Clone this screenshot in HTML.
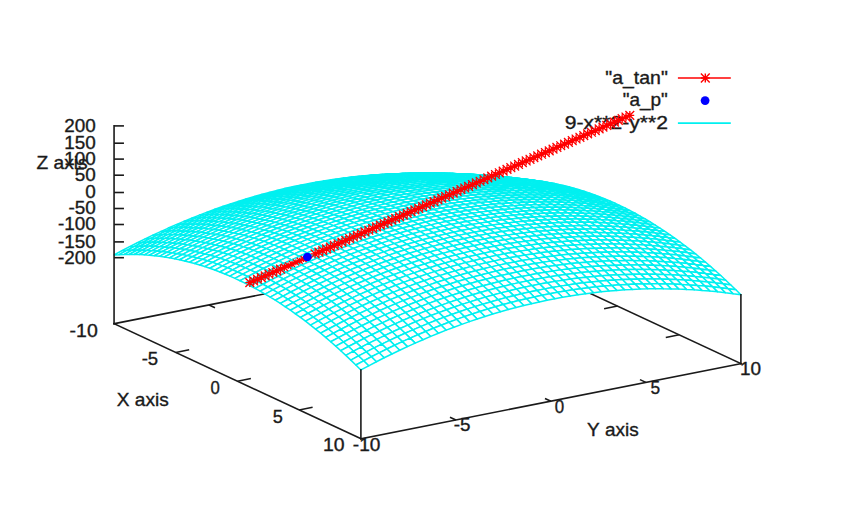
<!DOCTYPE html>
<html><head><meta charset="utf-8"><title>gnuplot surface</title><style>
html,body{margin:0;padding:0;background:#fff;}
body{width:854px;height:512px;overflow:hidden;position:relative;font-family:"Liberation Sans", sans-serif;}
svg{position:absolute;left:0;top:0;display:block;}
#w{position:absolute;left:0;top:0;width:854px;height:512px;}
</style></head><body>
<div id="w"><svg width="854" height="512" viewBox="0 0 854 512">
<rect width="854" height="512" fill="#fff"/>
<g stroke="#1a1a1a" stroke-width="1.6" fill="none" stroke-linecap="square">
<line x1="740.9" y1="363.6" x2="494.06" y2="248.55"/>
<line x1="494.06" y1="248.55" x2="114.06" y2="323.7"/>
<line x1="494.06" y1="248.55" x2="494.06" y2="179.76"/>
<line x1="555.77" y1="277.31" x2="542.38" y2="279.96" stroke-linecap="butt"/>
<line x1="617.48" y1="306.07" x2="604.09" y2="308.72" stroke-linecap="butt"/>
<line x1="679.19" y1="334.84" x2="665.79" y2="337.49" stroke-linecap="butt"/>
<line x1="209.06" y1="304.91" x2="214.98" y2="307.67" stroke-linecap="butt"/>
<line x1="304.06" y1="286.12" x2="309.98" y2="288.89" stroke-linecap="butt"/>
<line x1="399.06" y1="267.34" x2="404.98" y2="270.1" stroke-linecap="butt"/>
</g>
<g fill="#fff" stroke="#00f0f0" stroke-width="1.5" stroke-linejoin="round">
<path d="M486.3 178.66 491.34 178.38 499.1 179.48 494.06 179.76Z"/>
<path d="M478.55 177.67 483.59 177.39 491.34 178.38 486.3 178.66Z"/>
<path d="M491.34 178.38 496.38 178.21 504.14 179.3 499.1 179.48Z"/>
<path d="M470.79 176.8 475.83 176.51 483.59 177.39 478.55 177.67Z"/>
<path d="M483.59 177.39 488.62 177.22 496.38 178.21 491.34 178.38Z"/>
<path d="M463.04 176.03 468.08 175.74 475.83 176.51 470.79 176.8Z"/>
<path d="M496.38 178.21 501.42 178.14 509.17 179.24 504.14 179.3Z"/>
<path d="M475.83 176.51 480.87 176.34 488.62 177.22 483.59 177.39Z"/>
<path d="M455.28 175.37 460.32 175.08 468.08 175.74 463.04 176.03Z"/>
<path d="M488.62 177.22 493.66 177.15 501.42 178.14 496.38 178.21Z"/>
<path d="M468.08 175.74 473.11 175.57 480.87 176.34 475.83 176.51Z"/>
<path d="M501.42 178.14 506.46 178.19 514.21 179.28 509.17 179.24Z"/>
<path d="M447.53 174.82 452.57 174.53 460.32 175.08 455.28 175.37Z"/>
<path d="M480.87 176.34 485.91 176.27 493.66 177.15 488.62 177.22Z"/>
<path d="M460.32 175.08 465.36 174.91 473.11 175.57 468.08 175.74Z"/>
<path d="M493.66 177.15 498.7 177.2 506.46 178.19 501.42 178.14Z"/>
<path d="M439.77 174.38 444.81 174.09 452.57 174.53 447.53 174.82Z"/>
<path d="M473.11 175.57 478.15 175.5 485.91 176.27 480.87 176.34Z"/>
<path d="M506.46 178.19 511.49 178.34 519.25 179.44 514.21 179.28Z"/>
<path d="M452.57 174.53 457.6 174.36 465.36 174.91 460.32 175.08Z"/>
<path d="M485.91 176.27 490.94 176.32 498.7 177.2 493.66 177.15Z"/>
<path d="M432.02 174.05 437.06 173.76 444.81 174.09 439.77 174.38Z"/>
<path d="M465.36 174.91 470.4 174.84 478.15 175.5 473.11 175.57Z"/>
<path d="M498.7 177.2 503.74 177.35 511.49 178.34 506.46 178.19Z"/>
<path d="M444.81 174.09 449.85 173.92 457.6 174.36 452.57 174.53Z"/>
<path d="M478.15 175.5 483.19 175.55 490.94 176.32 485.91 176.27Z"/>
<path d="M511.49 178.34 516.53 178.6 524.29 179.7 519.25 179.44Z"/>
<path d="M424.26 173.83 429.3 173.54 437.06 173.76 432.02 174.05Z"/>
<path d="M457.6 174.36 462.64 174.29 470.4 174.84 465.36 174.91Z"/>
<path d="M490.94 176.32 495.98 176.47 503.74 177.35 498.7 177.2Z"/>
<path d="M437.06 173.76 442.09 173.59 449.85 173.92 444.81 174.09Z"/>
<path d="M470.4 174.84 475.43 174.89 483.19 175.55 478.15 175.5Z"/>
<path d="M503.74 177.35 508.78 177.62 516.53 178.6 511.49 178.34Z"/>
<path d="M416.51 173.71 421.55 173.43 429.3 173.54 424.26 173.83Z"/>
<path d="M449.85 173.92 454.89 173.85 462.64 174.29 457.6 174.36Z"/>
<path d="M483.19 175.55 488.23 175.7 495.98 176.47 490.94 176.32Z"/>
<path d="M516.53 178.6 521.57 178.98 529.32 180.08 524.29 179.7Z"/>
<path d="M429.3 173.54 434.34 173.37 442.09 173.59 437.06 173.76Z"/>
<path d="M462.64 174.29 467.68 174.34 475.43 174.89 470.4 174.84Z"/>
<path d="M495.98 176.47 501.02 176.74 508.78 177.62 503.74 177.35Z"/>
<path d="M408.75 173.71 413.79 173.43 421.55 173.43 416.51 173.71Z"/>
<path d="M442.09 173.59 447.13 173.52 454.89 173.85 449.85 173.92Z"/>
<path d="M475.43 174.89 480.47 175.04 488.23 175.7 483.19 175.55Z"/>
<path d="M508.78 177.62 513.81 177.99 521.57 178.98 516.53 178.6Z"/>
<path d="M421.55 173.43 426.58 173.26 434.34 173.37 429.3 173.54Z"/>
<path d="M454.89 173.85 459.92 173.9 467.68 174.34 462.64 174.29Z"/>
<path d="M488.23 175.7 493.26 175.97 501.02 176.74 495.98 176.47Z"/>
<path d="M521.57 178.98 526.61 179.46 534.36 180.56 529.32 180.08Z"/>
<path d="M401 173.82 406.04 173.54 413.79 173.43 408.75 173.71Z"/>
<path d="M434.34 173.37 439.38 173.3 447.13 173.52 442.09 173.59Z"/>
<path d="M467.68 174.34 472.72 174.49 480.47 175.04 475.43 174.89Z"/>
<path d="M501.02 176.74 506.06 177.11 513.81 177.99 508.78 177.62Z"/>
<path d="M413.79 173.43 418.83 173.25 426.58 173.26 421.55 173.43Z"/>
<path d="M447.13 173.52 452.17 173.57 459.92 173.9 454.89 173.85Z"/>
<path d="M480.47 175.04 485.51 175.31 493.26 175.97 488.23 175.7Z"/>
<path d="M513.81 177.99 518.85 178.47 526.61 179.46 521.57 178.98Z"/>
<path d="M393.24 174.04 398.28 173.75 406.04 173.54 401 173.82Z"/>
<path d="M426.58 173.26 431.62 173.19 439.38 173.3 434.34 173.37Z"/>
<path d="M459.92 173.9 464.96 174.05 472.72 174.49 467.68 174.34Z"/>
<path d="M493.26 175.97 498.3 176.34 506.06 177.11 501.02 176.74Z"/>
<path d="M526.61 179.46 531.64 180.06 539.4 181.15 534.36 180.56Z"/>
<path d="M406.04 173.54 411.07 173.36 418.83 173.25 413.79 173.43Z"/>
<path d="M439.38 173.3 444.41 173.35 452.17 173.57 447.13 173.52Z"/>
<path d="M472.72 174.49 477.75 174.76 485.51 175.31 480.47 175.04Z"/>
<path d="M506.06 177.11 511.1 177.59 518.85 178.47 513.81 177.99Z"/>
<path d="M385.49 174.37 390.53 174.08 398.28 173.75 393.24 174.04Z"/>
<path d="M418.83 173.25 423.87 173.19 431.62 173.19 426.58 173.26Z"/>
<path d="M452.17 173.57 457.21 173.72 464.96 174.05 459.92 173.9Z"/>
<path d="M485.51 175.31 490.55 175.68 498.3 176.34 493.26 175.97Z"/>
<path d="M518.85 178.47 523.89 179.07 531.64 180.06 526.61 179.46Z"/>
<path d="M398.28 173.75 403.32 173.58 411.07 173.36 406.04 173.54Z"/>
<path d="M431.62 173.19 436.66 173.24 444.41 173.35 439.38 173.3Z"/>
<path d="M464.96 174.05 470 174.32 477.75 174.76 472.72 174.49Z"/>
<path d="M498.3 176.34 503.34 176.83 511.1 177.59 506.06 177.11Z"/>
<path d="M531.64 180.06 536.68 180.76 544.44 181.86 539.4 181.15Z"/>
<path d="M377.73 174.8 382.77 174.52 390.53 174.08 385.49 174.37Z"/>
<path d="M411.07 173.36 416.11 173.3 423.87 173.19 418.83 173.25Z"/>
<path d="M444.41 173.35 449.45 173.5 457.21 173.72 452.17 173.57Z"/>
<path d="M477.75 174.76 482.79 175.13 490.55 175.68 485.51 175.31Z"/>
<path d="M511.1 177.59 516.13 178.19 523.89 179.07 518.85 178.47Z"/>
<path d="M390.53 174.08 395.56 173.91 403.32 173.58 398.28 173.75Z"/>
<path d="M423.87 173.19 428.9 173.23 436.66 173.24 431.62 173.19Z"/>
<path d="M457.21 173.72 462.24 173.99 470 174.32 464.96 174.05Z"/>
<path d="M490.55 175.68 495.58 176.17 503.34 176.83 498.3 176.34Z"/>
<path d="M523.89 179.07 528.93 179.77 536.68 180.76 531.64 180.06Z"/>
<path d="M369.98 175.35 375.02 175.07 382.77 174.52 377.73 174.8Z"/>
<path d="M403.32 173.58 408.36 173.52 416.11 173.3 411.07 173.36Z"/>
<path d="M436.66 173.24 441.7 173.39 449.45 173.5 444.41 173.35Z"/>
<path d="M470 174.32 475.04 174.69 482.79 175.13 477.75 174.76Z"/>
<path d="M503.34 176.83 508.38 177.42 516.13 178.19 511.1 177.59Z"/>
<path d="M536.68 180.76 541.72 181.57 549.47 182.67 544.44 181.86Z"/>
<path d="M382.77 174.52 387.81 174.34 395.56 173.91 390.53 174.08Z"/>
<path d="M416.11 173.3 421.15 173.34 428.9 173.23 423.87 173.19Z"/>
<path d="M449.45 173.5 454.49 173.77 462.24 173.99 457.21 173.72Z"/>
<path d="M482.79 175.13 487.83 175.62 495.58 176.17 490.55 175.68Z"/>
<path d="M516.13 178.19 521.17 178.89 528.93 179.77 523.89 179.07Z"/>
<path d="M362.22 176.01 367.26 175.72 375.02 175.07 369.98 175.35Z"/>
<path d="M395.56 173.91 400.6 173.84 408.36 173.52 403.32 173.58Z"/>
<path d="M428.9 173.23 433.94 173.39 441.7 173.39 436.66 173.24Z"/>
<path d="M462.24 173.99 467.28 174.36 475.04 174.69 470 174.32Z"/>
<path d="M495.58 176.17 500.62 176.76 508.38 177.42 503.34 176.83Z"/>
<path d="M528.93 179.77 533.96 180.58 541.72 181.57 536.68 180.76Z"/>
<path d="M375.02 175.07 380.05 174.89 387.81 174.34 382.77 174.52Z"/>
<path d="M408.36 173.52 413.39 173.56 421.15 173.34 416.11 173.3Z"/>
<path d="M441.7 173.39 446.73 173.66 454.49 173.77 449.45 173.5Z"/>
<path d="M475.04 174.69 480.07 175.18 487.83 175.62 482.79 175.13Z"/>
<path d="M508.38 177.42 513.42 178.12 521.17 178.89 516.13 178.19Z"/>
<path d="M541.72 181.57 546.76 182.49 554.51 183.59 549.47 182.67Z"/>
<path d="M354.47 176.77 359.51 176.49 367.26 175.72 362.22 176.01Z"/>
<path d="M387.81 174.34 392.85 174.28 400.6 173.84 395.56 173.91Z"/>
<path d="M421.15 173.34 426.19 173.5 433.94 173.39 428.9 173.23Z"/>
<path d="M454.49 173.77 459.53 174.14 467.28 174.36 462.24 173.99Z"/>
<path d="M487.83 175.62 492.87 176.21 500.62 176.76 495.58 176.17Z"/>
<path d="M521.17 178.89 526.21 179.7 533.96 180.58 528.93 179.77Z"/>
<path d="M367.26 175.72 372.3 175.55 380.05 174.89 375.02 175.07Z"/>
<path d="M400.6 173.84 405.64 173.89 413.39 173.56 408.36 173.52Z"/>
<path d="M433.94 173.39 438.98 173.65 446.73 173.66 441.7 173.39Z"/>
<path d="M467.28 174.36 472.32 174.84 480.07 175.18 475.04 174.69Z"/>
<path d="M500.62 176.76 505.66 177.46 513.42 178.12 508.38 177.42Z"/>
<path d="M533.96 180.58 539 181.5 546.76 182.49 541.72 181.57Z"/>
<path d="M346.71 177.65 351.75 177.36 359.51 176.49 354.47 176.77Z"/>
<path d="M380.05 174.89 385.09 174.83 392.85 174.28 387.81 174.34Z"/>
<path d="M413.39 173.56 418.43 173.71 426.19 173.5 421.15 173.34Z"/>
<path d="M446.73 173.66 451.77 174.03 459.53 174.14 454.49 173.77Z"/>
<path d="M480.07 175.18 485.11 175.77 492.87 176.21 487.83 175.62Z"/>
<path d="M513.42 178.12 518.45 178.93 526.21 179.7 521.17 178.89Z"/>
<path d="M546.76 182.49 551.79 183.53 559.55 184.62 554.51 183.59Z"/>
<path d="M359.51 176.49 364.54 176.31 372.3 175.55 367.26 175.72Z"/>
<path d="M392.85 174.28 397.88 174.32 405.64 173.89 400.6 173.84Z"/>
<path d="M426.19 173.5 431.22 173.76 438.98 173.65 433.94 173.39Z"/>
<path d="M459.53 174.14 464.56 174.62 472.32 174.84 467.28 174.36Z"/>
<path d="M492.87 176.21 497.9 176.91 505.66 177.46 500.62 176.76Z"/>
<path d="M526.21 179.7 531.25 180.63 539 181.5 533.96 180.58Z"/>
<path d="M338.96 178.63 344 178.35 351.75 177.36 346.71 177.65Z"/>
<path d="M372.3 175.55 377.34 175.48 385.09 174.83 380.05 174.89Z"/>
<path d="M405.64 173.89 410.68 174.04 418.43 173.71 413.39 173.56Z"/>
<path d="M438.98 173.65 444.02 174.03 451.77 174.03 446.73 173.66Z"/>
<path d="M472.32 174.84 477.36 175.44 485.11 175.77 480.07 175.18Z"/>
<path d="M505.66 177.46 510.7 178.27 518.45 178.93 513.42 178.12Z"/>
<path d="M539 181.5 544.04 182.54 551.79 183.53 546.76 182.49Z"/>
<path d="M351.75 177.36 356.79 177.19 364.54 176.31 359.51 176.49Z"/>
<path d="M385.09 174.83 390.13 174.87 397.88 174.32 392.85 174.28Z"/>
<path d="M418.43 173.71 423.47 173.98 431.22 173.76 426.19 173.5Z"/>
<path d="M451.77 174.03 456.81 174.51 464.56 174.62 459.53 174.14Z"/>
<path d="M485.11 175.77 490.15 176.47 497.9 176.91 492.87 176.21Z"/>
<path d="M518.45 178.93 523.49 179.86 531.25 180.63 526.21 179.7Z"/>
<path d="M551.79 183.53 556.83 184.67 564.59 185.77 559.55 184.62Z"/>
<path d="M331.2 179.73 336.24 179.44 344 178.35 338.96 178.63Z"/>
<path d="M364.54 176.31 369.58 176.25 377.34 175.48 372.3 175.55Z"/>
<path d="M397.88 174.32 402.92 174.48 410.68 174.04 405.64 173.89Z"/>
<path d="M431.22 173.76 436.26 174.14 444.02 174.03 438.98 173.65Z"/>
<path d="M464.56 174.62 469.6 175.22 477.36 175.44 472.32 174.84Z"/>
<path d="M497.9 176.91 502.94 177.72 510.7 178.27 505.66 177.46Z"/>
<path d="M531.25 180.63 536.28 181.66 544.04 182.54 539 181.5Z"/>
<path d="M344 178.35 349.03 178.17 356.79 177.19 351.75 177.36Z"/>
<path d="M377.34 175.48 382.37 175.53 390.13 174.87 385.09 174.83Z"/>
<path d="M410.68 174.04 415.71 174.31 423.47 173.98 418.43 173.71Z"/>
<path d="M444.02 174.03 449.05 174.51 456.81 174.51 451.77 174.03Z"/>
<path d="M477.36 175.44 482.39 176.14 490.15 176.47 485.11 175.77Z"/>
<path d="M510.7 178.27 515.74 179.2 523.49 179.86 518.45 178.93Z"/>
<path d="M544.04 182.54 549.08 183.68 556.83 184.67 551.79 183.53Z"/>
<path d="M323.45 180.93 328.49 180.65 336.24 179.44 331.2 179.73Z"/>
<path d="M356.79 177.19 361.83 177.12 369.58 176.25 364.54 176.31Z"/>
<path d="M390.13 174.87 395.17 175.03 402.92 174.48 397.88 174.32Z"/>
<path d="M423.47 173.98 428.51 174.35 436.26 174.14 431.22 173.76Z"/>
<path d="M456.81 174.51 461.85 175.11 469.6 175.22 464.56 174.62Z"/>
<path d="M490.15 176.47 495.19 177.28 502.94 177.72 497.9 176.91Z"/>
<path d="M523.49 179.86 528.53 180.89 536.28 181.66 531.25 180.63Z"/>
<path d="M556.83 184.67 561.87 185.92 569.62 187.02 564.59 185.77Z"/>
<path d="M336.24 179.44 341.28 179.27 349.03 178.17 344 178.35Z"/>
<path d="M369.58 176.25 374.62 176.29 382.37 175.53 377.34 175.48Z"/>
<path d="M402.92 174.48 407.96 174.74 415.71 174.31 410.68 174.04Z"/>
<path d="M436.26 174.14 441.3 174.62 449.05 174.51 444.02 174.03Z"/>
<path d="M469.6 175.22 474.64 175.92 482.39 176.14 477.36 175.44Z"/>
<path d="M502.94 177.72 507.98 178.65 515.74 179.2 510.7 178.27Z"/>
<path d="M536.28 181.66 541.32 182.8 549.08 183.68 544.04 182.54Z"/>
<path d="M315.69 182.25 320.73 181.96 328.49 180.65 323.45 180.93Z"/>
<path d="M349.03 178.17 354.07 178.11 361.83 177.12 356.79 177.19Z"/>
<path d="M382.37 175.53 387.41 175.68 395.17 175.03 390.13 174.87Z"/>
<path d="M415.71 174.31 420.75 174.68 428.51 174.35 423.47 173.98Z"/>
<path d="M449.05 174.51 454.09 175.1 461.85 175.11 456.81 174.51Z"/>
<path d="M482.39 176.14 487.43 176.95 495.19 177.28 490.15 176.47Z"/>
<path d="M515.74 179.2 520.77 180.23 528.53 180.89 523.49 179.86Z"/>
<path d="M549.08 183.68 554.11 184.93 561.87 185.92 556.83 184.67Z"/>
<path d="M328.49 180.65 333.52 180.47 341.28 179.27 336.24 179.44Z"/>
<path d="M361.83 177.12 366.86 177.17 374.62 176.29 369.58 176.25Z"/>
<path d="M395.17 175.03 400.2 175.29 407.96 174.74 402.92 174.48Z"/>
<path d="M428.51 174.35 433.54 174.84 441.3 174.62 436.26 174.14Z"/>
<path d="M461.85 175.11 466.88 175.81 474.64 175.92 469.6 175.22Z"/>
<path d="M495.19 177.28 500.22 178.21 507.98 178.65 502.94 177.72Z"/>
<path d="M528.53 180.89 533.57 182.03 541.32 182.8 536.28 181.66Z"/>
<path d="M561.87 185.92 566.91 187.28 574.66 188.38 569.62 187.02Z"/>
<path d="M307.94 183.67 312.98 183.39 320.73 181.96 315.69 182.25Z"/>
<path d="M341.28 179.27 346.32 179.2 354.07 178.11 349.03 178.17Z"/>
<path d="M374.62 176.29 379.66 176.45 387.41 175.68 382.37 175.53Z"/>
<path d="M407.96 174.74 413 175.12 420.75 174.68 415.71 174.31Z"/>
<path d="M441.3 174.62 446.34 175.21 454.09 175.1 449.05 174.51Z"/>
<path d="M474.64 175.92 479.68 176.73 487.43 176.95 482.39 176.14Z"/>
<path d="M507.98 178.65 513.02 179.68 520.77 180.23 515.74 179.2Z"/>
<path d="M541.32 182.8 546.36 184.05 554.11 184.93 549.08 183.68Z"/>
<path d="M320.73 181.96 325.77 181.79 333.52 180.47 328.49 180.65Z"/>
<path d="M354.07 178.11 359.11 178.15 366.86 177.17 361.83 177.12Z"/>
<path d="M387.41 175.68 392.45 175.95 400.2 175.29 395.17 175.03Z"/>
<path d="M420.75 174.68 425.79 175.16 433.54 174.84 428.51 174.35Z"/>
<path d="M454.09 175.1 459.13 175.81 466.88 175.81 461.85 175.11Z"/>
<path d="M487.43 176.95 492.47 177.88 500.22 178.21 495.19 177.28Z"/>
<path d="M520.77 180.23 525.81 181.37 533.57 182.03 528.53 180.89Z"/>
<path d="M554.11 184.93 559.15 186.29 566.91 187.28 561.87 185.92Z"/>
<path d="M300.18 185.2 305.22 184.92 312.98 183.39 307.94 183.67Z"/>
<path d="M333.52 180.47 338.56 180.41 346.32 179.2 341.28 179.27Z"/>
<path d="M366.86 177.17 371.9 177.32 379.66 176.45 374.62 176.29Z"/>
<path d="M400.2 175.29 405.24 175.66 413 175.12 407.96 174.74Z"/>
<path d="M433.54 174.84 438.58 175.43 446.34 175.21 441.3 174.62Z"/>
<path d="M466.88 175.81 471.92 176.62 479.68 176.73 474.64 175.92Z"/>
<path d="M500.22 178.21 505.26 179.24 513.02 179.68 507.98 178.65Z"/>
<path d="M533.57 182.03 538.6 183.28 546.36 184.05 541.32 182.8Z"/>
<path d="M566.91 187.28 571.94 188.75 579.7 189.85 574.66 188.38Z"/>
<path d="M312.98 183.39 318.01 183.21 325.77 181.79 320.73 181.96Z"/>
<path d="M346.32 179.2 351.35 179.25 359.11 178.15 354.07 178.11Z"/>
<path d="M379.66 176.45 384.69 176.71 392.45 175.95 387.41 175.68Z"/>
<path d="M413 175.12 418.03 175.6 425.79 175.16 420.75 174.68Z"/>
<path d="M446.34 175.21 451.37 175.92 459.13 175.81 454.09 175.1Z"/>
<path d="M479.68 176.73 484.71 177.66 492.47 177.88 487.43 176.95Z"/>
<path d="M513.02 179.68 518.06 180.82 525.81 181.37 520.77 180.23Z"/>
<path d="M546.36 184.05 551.4 185.41 559.15 186.29 554.11 184.93Z"/>
<path d="M292.43 186.85 297.46 186.56 305.22 184.92 300.18 185.2Z"/>
<path d="M325.77 181.79 330.81 181.72 338.56 180.41 333.52 180.47Z"/>
<path d="M359.11 178.15 364.15 178.31 371.9 177.32 366.86 177.17Z"/>
<path d="M392.45 175.95 397.49 176.32 405.24 175.66 400.2 175.29Z"/>
<path d="M425.79 175.16 430.83 175.76 438.58 175.43 433.54 174.84Z"/>
<path d="M459.13 175.81 464.17 176.62 471.92 176.62 466.88 175.81Z"/>
<path d="M492.47 177.88 497.51 178.91 505.26 179.24 500.22 178.21Z"/>
<path d="M525.81 181.37 530.85 182.62 538.6 183.28 533.57 182.03Z"/>
<path d="M559.15 186.29 564.19 187.76 571.94 188.75 566.91 187.28Z"/>
<path d="M305.22 184.92 310.26 184.75 318.01 183.21 312.98 183.39Z"/>
<path d="M338.56 180.41 343.6 180.45 351.35 179.25 346.32 179.2Z"/>
<path d="M371.9 177.32 376.94 177.59 384.69 176.71 379.66 176.45Z"/>
<path d="M405.24 175.66 410.28 176.15 418.03 175.6 413 175.12Z"/>
<path d="M438.58 175.43 443.62 176.13 451.37 175.92 446.34 175.21Z"/>
<path d="M471.92 176.62 476.96 177.54 484.71 177.66 479.68 176.73Z"/>
<path d="M505.26 179.24 510.3 180.38 518.06 180.82 513.02 179.68Z"/>
<path d="M538.6 183.28 543.64 184.64 551.4 185.41 546.36 184.05Z"/>
<path d="M284.67 188.6 289.71 188.32 297.46 186.56 292.43 186.85Z"/>
<path d="M571.94 188.75 576.98 190.33 584.74 191.43 579.7 189.85Z"/>
<path d="M318.01 183.21 323.05 183.15 330.81 181.72 325.77 181.79Z"/>
<path d="M351.35 179.25 356.39 179.4 364.15 178.31 359.11 178.15Z"/>
<path d="M384.69 176.71 389.73 177.09 397.49 176.32 392.45 175.95Z"/>
<path d="M418.03 175.6 423.07 176.19 430.83 175.76 425.79 175.16Z"/>
<path d="M451.37 175.92 456.41 176.73 464.17 176.62 459.13 175.81Z"/>
<path d="M484.71 177.66 489.75 178.69 497.51 178.91 492.47 177.88Z"/>
<path d="M518.06 180.82 523.09 182.07 530.85 182.62 525.81 181.37Z"/>
<path d="M551.4 185.41 556.43 186.88 564.19 187.76 559.15 186.29Z"/>
<path d="M297.46 186.56 302.5 186.39 310.26 184.75 305.22 184.92Z"/>
<path d="M330.81 181.72 335.84 181.77 343.6 180.45 338.56 180.41Z"/>
<path d="M364.15 178.31 369.18 178.57 376.94 177.59 371.9 177.32Z"/>
<path d="M397.49 176.32 402.52 176.8 410.28 176.15 405.24 175.66Z"/>
<path d="M430.83 175.76 435.86 176.46 443.62 176.13 438.58 175.43Z"/>
<path d="M464.17 176.62 469.2 177.54 476.96 177.54 471.92 176.62Z"/>
<path d="M497.51 178.91 502.54 180.05 510.3 180.38 505.26 179.24Z"/>
<path d="M530.85 182.62 535.89 183.98 543.64 184.64 538.6 183.28Z"/>
<path d="M276.92 190.46 281.95 190.18 289.71 188.32 284.67 188.6Z"/>
<path d="M564.19 187.76 569.23 189.34 576.98 190.33 571.94 188.75Z"/>
<path d="M310.26 184.75 315.3 184.68 323.05 183.15 318.01 183.21Z"/>
<path d="M343.6 180.45 348.64 180.61 356.39 179.4 351.35 179.25Z"/>
<path d="M376.94 177.59 381.98 177.96 389.73 177.09 384.69 176.71Z"/>
<path d="M410.28 176.15 415.32 176.74 423.07 176.19 418.03 175.6Z"/>
<path d="M443.62 176.13 448.66 176.95 456.41 176.73 451.37 175.92Z"/>
<path d="M476.96 177.54 482 178.58 489.75 178.69 484.71 177.66Z"/>
<path d="M510.3 180.38 515.34 181.63 523.09 182.07 518.06 180.82Z"/>
<path d="M543.64 184.64 548.68 186.11 556.43 186.88 551.4 185.41Z"/>
<path d="M289.71 188.32 294.75 188.14 302.5 186.39 297.46 186.56Z"/>
<path d="M576.98 190.33 582.02 192.02 589.77 193.12 584.74 191.43Z"/>
<path d="M323.05 183.15 328.09 183.19 335.84 181.77 330.81 181.72Z"/>
<path d="M356.39 179.4 361.43 179.67 369.18 178.57 364.15 178.31Z"/>
<path d="M389.73 177.09 394.77 177.57 402.52 176.8 397.49 176.32Z"/>
<path d="M423.07 176.19 428.11 176.9 435.86 176.46 430.83 175.76Z"/>
<path d="M456.41 176.73 461.45 177.65 469.2 177.54 464.17 176.62Z"/>
<path d="M489.75 178.69 494.79 179.83 502.54 180.05 497.51 178.91Z"/>
<path d="M523.09 182.07 528.13 183.43 535.89 183.98 530.85 182.62Z"/>
<path d="M269.16 192.44 274.2 192.15 281.95 190.18 276.92 190.46Z"/>
<path d="M556.43 186.88 561.47 188.46 569.23 189.34 564.19 187.76Z"/>
<path d="M302.5 186.39 307.54 186.32 315.3 184.68 310.26 184.75Z"/>
<path d="M335.84 181.77 340.88 181.92 348.64 180.61 343.6 180.45Z"/>
<path d="M369.18 178.57 374.22 178.95 381.98 177.96 376.94 177.59Z"/>
<path d="M402.52 176.8 407.56 177.4 415.32 176.74 410.28 176.15Z"/>
<path d="M435.86 176.46 440.9 177.27 448.66 176.95 443.62 176.13Z"/>
<path d="M469.2 177.54 474.24 178.57 482 178.58 476.96 177.54Z"/>
<path d="M502.54 180.05 507.58 181.3 515.34 181.63 510.3 180.38Z"/>
<path d="M535.89 183.98 540.92 185.45 548.68 186.11 543.64 184.64Z"/>
<path d="M281.95 190.18 286.99 190.01 294.75 188.14 289.71 188.32Z"/>
<path d="M569.23 189.34 574.26 191.03 582.02 192.02 576.98 190.33Z"/>
<path d="M315.3 184.68 320.33 184.73 328.09 183.19 323.05 183.15Z"/>
<path d="M348.64 180.61 353.67 180.87 361.43 179.67 356.39 179.4Z"/>
<path d="M381.98 177.96 387.01 178.45 394.77 177.57 389.73 177.09Z"/>
<path d="M415.32 176.74 420.35 177.44 428.11 176.9 423.07 176.19Z"/>
<path d="M448.66 176.95 453.69 177.87 461.45 177.65 456.41 176.73Z"/>
<path d="M482 178.58 487.03 179.72 494.79 179.83 489.75 178.69Z"/>
<path d="M515.34 181.63 520.38 182.99 528.13 183.43 523.09 182.07Z"/>
<path d="M261.41 194.52 266.44 194.23 274.2 192.15 269.16 192.44Z"/>
<path d="M548.68 186.11 553.72 187.69 561.47 188.46 556.43 186.88Z"/>
<path d="M294.75 188.14 299.78 188.08 307.54 186.32 302.5 186.39Z"/>
<path d="M582.02 192.02 587.06 193.82 594.81 194.92 589.77 193.12Z"/>
<path d="M328.09 183.19 333.13 183.35 340.88 181.92 335.84 181.77Z"/>
<path d="M361.43 179.67 366.47 180.04 374.22 178.95 369.18 178.57Z"/>
<path d="M394.77 177.57 399.81 178.16 407.56 177.4 402.52 176.8Z"/>
<path d="M428.11 176.9 433.15 177.71 440.9 177.27 435.86 176.46Z"/>
<path d="M461.45 177.65 466.49 178.68 474.24 178.57 469.2 177.54Z"/>
<path d="M494.79 179.83 499.83 181.08 507.58 181.3 502.54 180.05Z"/>
<path d="M528.13 183.43 533.17 184.9 540.92 185.45 535.89 183.98Z"/>
<path d="M274.2 192.15 279.24 191.98 286.99 190.01 281.95 190.18Z"/>
<path d="M561.47 188.46 566.51 190.15 574.26 191.03 569.23 189.34Z"/>
<path d="M307.54 186.32 312.58 186.37 320.33 184.73 315.3 184.68Z"/>
<path d="M340.88 181.92 345.92 182.19 353.67 180.87 348.64 180.61Z"/>
<path d="M374.22 178.95 379.26 179.43 387.01 178.45 381.98 177.96Z"/>
<path d="M407.56 177.4 412.6 178.1 420.35 177.44 415.32 176.74Z"/>
<path d="M440.9 177.27 445.94 178.2 453.69 177.87 448.66 176.95Z"/>
<path d="M474.24 178.57 479.28 179.72 487.03 179.72 482 178.58Z"/>
<path d="M507.58 181.3 512.62 182.66 520.38 182.99 515.34 181.63Z"/>
<path d="M253.65 196.71 258.69 196.43 266.44 194.23 261.41 194.52Z"/>
<path d="M540.92 185.45 545.96 187.03 553.72 187.69 548.68 186.11Z"/>
<path d="M286.99 190.01 292.03 189.94 299.78 188.08 294.75 188.14Z"/>
<path d="M574.26 191.03 579.3 192.83 587.06 193.82 582.02 192.02Z"/>
<path d="M320.33 184.73 325.37 184.88 333.13 183.35 328.09 183.19Z"/>
<path d="M353.67 180.87 358.71 181.25 366.47 180.04 361.43 179.67Z"/>
<path d="M387.01 178.45 392.05 179.04 399.81 178.16 394.77 177.57Z"/>
<path d="M420.35 177.44 425.39 178.26 433.15 177.71 428.11 176.9Z"/>
<path d="M453.69 177.87 458.73 178.9 466.49 178.68 461.45 177.65Z"/>
<path d="M487.03 179.72 492.07 180.97 499.83 181.08 494.79 179.83Z"/>
<path d="M520.38 182.99 525.41 184.46 533.17 184.9 528.13 183.43Z"/>
<path d="M266.44 194.23 271.48 194.06 279.24 191.98 274.2 192.15Z"/>
<path d="M553.72 187.69 558.75 189.38 566.51 190.15 561.47 188.46Z"/>
<path d="M299.78 188.08 304.82 188.12 312.58 186.37 307.54 186.32Z"/>
<path d="M587.06 193.82 592.09 195.73 599.85 196.83 594.81 194.92Z"/>
<path d="M333.13 183.35 338.16 183.61 345.92 182.19 340.88 181.92Z"/>
<path d="M366.47 180.04 371.5 180.53 379.26 179.43 374.22 178.95Z"/>
<path d="M399.81 178.16 404.84 178.87 412.6 178.1 407.56 177.4Z"/>
<path d="M433.15 177.71 438.18 178.63 445.94 178.2 440.9 177.27Z"/>
<path d="M466.49 178.68 471.52 179.82 479.28 179.72 474.24 178.57Z"/>
<path d="M499.83 181.08 504.86 182.44 512.62 182.66 507.58 181.3Z"/>
<path d="M245.9 199.01 250.93 198.73 258.69 196.43 253.65 196.71Z"/>
<path d="M533.17 184.9 538.21 186.48 545.96 187.03 540.92 185.45Z"/>
<path d="M279.24 191.98 284.27 191.91 292.03 189.94 286.99 190.01Z"/>
<path d="M566.51 190.15 571.55 191.95 579.3 192.83 574.26 191.03Z"/>
<path d="M312.58 186.37 317.62 186.52 325.37 184.88 320.33 184.73Z"/>
<path d="M345.92 182.19 350.96 182.56 358.71 181.25 353.67 180.87Z"/>
<path d="M379.26 179.43 384.3 180.02 392.05 179.04 387.01 178.45Z"/>
<path d="M412.6 178.1 417.64 178.91 425.39 178.26 420.35 177.44Z"/>
<path d="M445.94 178.2 450.98 179.23 458.73 178.9 453.69 177.87Z"/>
<path d="M479.28 179.72 484.32 180.97 492.07 180.97 487.03 179.72Z"/>
<path d="M512.62 182.66 517.66 184.13 525.41 184.46 520.38 182.99Z"/>
<path d="M258.69 196.43 263.73 196.25 271.48 194.06 266.44 194.23Z"/>
<path d="M545.96 187.03 551 188.72 558.75 189.38 553.72 187.69Z"/>
<path d="M292.03 189.94 297.07 189.99 304.82 188.12 299.78 188.08Z"/>
<path d="M579.3 192.83 584.34 194.74 592.09 195.73 587.06 193.82Z"/>
<path d="M325.37 184.88 330.41 185.15 338.16 183.61 333.13 183.35Z"/>
<path d="M358.71 181.25 363.75 181.73 371.5 180.53 366.47 180.04Z"/>
<path d="M392.05 179.04 397.09 179.74 404.84 178.87 399.81 178.16Z"/>
<path d="M425.39 178.26 430.43 179.18 438.18 178.63 433.15 177.71Z"/>
<path d="M458.73 178.9 463.77 180.04 471.52 179.82 466.49 178.68Z"/>
<path d="M492.07 180.97 497.11 182.33 504.86 182.44 499.83 181.08Z"/>
<path d="M238.14 201.42 243.18 201.14 250.93 198.73 245.9 199.01Z"/>
<path d="M525.41 184.46 530.45 186.04 538.21 186.48 533.17 184.9Z"/>
<path d="M271.48 194.06 276.52 193.99 284.27 191.91 279.24 191.98Z"/>
<path d="M558.75 189.38 563.79 191.18 571.55 191.95 566.51 190.15Z"/>
<path d="M304.82 188.12 309.86 188.28 317.62 186.52 312.58 186.37Z"/>
<path d="M592.09 195.73 597.13 197.75 604.89 198.85 599.85 196.83Z"/>
<path d="M338.16 183.61 343.2 183.99 350.96 182.56 345.92 182.19Z"/>
<path d="M371.5 180.53 376.54 181.12 384.3 180.02 379.26 179.43Z"/>
<path d="M404.84 178.87 409.88 179.68 417.64 178.91 412.6 178.1Z"/>
<path d="M438.18 178.63 443.22 179.66 450.98 179.23 445.94 178.2Z"/>
<path d="M471.52 179.82 476.56 181.08 484.32 180.97 479.28 179.72Z"/>
<path d="M504.86 182.44 509.9 183.91 517.66 184.13 512.62 182.66Z"/>
<path d="M250.93 198.73 255.97 198.55 263.73 196.25 258.69 196.43Z"/>
<path d="M538.21 186.48 543.24 188.17 551 188.72 545.96 187.03Z"/>
<path d="M284.27 191.91 289.31 191.96 297.07 189.99 292.03 189.94Z"/>
<path d="M571.55 191.95 576.58 193.86 584.34 194.74 579.3 192.83Z"/>
<path d="M317.62 186.52 322.65 186.79 330.41 185.15 325.37 184.88Z"/>
<path d="M350.96 182.56 355.99 183.05 363.75 181.73 358.71 181.25Z"/>
<path d="M384.3 180.02 389.33 180.73 397.09 179.74 392.05 179.04Z"/>
<path d="M417.64 178.91 422.67 179.84 430.43 179.18 425.39 178.26Z"/>
<path d="M450.98 179.23 456.01 180.37 463.77 180.04 458.73 178.9Z"/>
<path d="M484.32 180.97 489.35 182.33 497.11 182.33 492.07 180.97Z"/>
<path d="M230.39 203.94 235.42 203.66 243.18 201.14 238.14 201.42Z"/>
<path d="M517.66 184.13 522.7 185.71 530.45 186.04 525.41 184.46Z"/>
<path d="M263.73 196.25 268.76 196.19 276.52 193.99 271.48 194.06Z"/>
<path d="M551 188.72 556.04 190.52 563.79 191.18 558.75 189.38Z"/>
<path d="M297.07 189.99 302.1 190.14 309.86 188.28 304.82 188.12Z"/>
<path d="M584.34 194.74 589.38 196.76 597.13 197.75 592.09 195.73Z"/>
<path d="M330.41 185.15 335.45 185.52 343.2 183.99 338.16 183.61Z"/>
<path d="M363.75 181.73 368.79 182.32 376.54 181.12 371.5 180.53Z"/>
<path d="M397.09 179.74 402.13 180.56 409.88 179.68 404.84 178.87Z"/>
<path d="M430.43 179.18 435.47 180.21 443.22 179.66 438.18 178.63Z"/>
<path d="M463.77 180.04 468.81 181.29 476.56 181.08 471.52 179.82Z"/>
<path d="M497.11 182.33 502.15 183.8 509.9 183.91 504.86 182.44Z"/>
<path d="M243.18 201.14 248.22 200.96 255.97 198.55 250.93 198.73Z"/>
<path d="M530.45 186.04 535.49 187.73 543.24 188.17 538.21 186.48Z"/>
<path d="M276.52 193.99 281.56 194.04 289.31 191.96 284.27 191.91Z"/>
<path d="M563.79 191.18 568.83 193.09 576.58 193.86 571.55 191.95Z"/>
<path d="M309.86 188.28 314.9 188.54 322.65 186.79 317.62 186.52Z"/>
<path d="M597.13 197.75 602.17 199.88 609.92 200.98 604.89 198.85Z"/>
<path d="M343.2 183.99 348.24 184.47 355.99 183.05 350.96 182.56Z"/>
<path d="M376.54 181.12 381.58 181.82 389.33 180.73 384.3 180.02Z"/>
<path d="M409.88 179.68 414.92 180.6 422.67 179.84 417.64 178.91Z"/>
<path d="M443.22 179.66 448.26 180.81 456.01 180.37 450.98 179.23Z"/>
<path d="M476.56 181.08 481.6 182.44 489.35 182.33 484.32 180.97Z"/>
<path d="M222.63 206.57 227.67 206.29 235.42 203.66 230.39 203.94Z"/>
<path d="M509.9 183.91 514.94 185.49 522.7 185.71 517.66 184.13Z"/>
<path d="M255.97 198.55 261.01 198.49 268.76 196.19 263.73 196.25Z"/>
<path d="M543.24 188.17 548.28 189.97 556.04 190.52 551 188.72Z"/>
<path d="M289.31 191.96 294.35 192.11 302.1 190.14 297.07 189.99Z"/>
<path d="M576.58 193.86 581.62 195.88 589.38 196.76 584.34 194.74Z"/>
<path d="M322.65 186.79 327.69 187.16 335.45 185.52 330.41 185.15Z"/>
<path d="M355.99 183.05 361.03 183.64 368.79 182.32 363.75 181.73Z"/>
<path d="M389.33 180.73 394.37 181.54 402.13 180.56 397.09 179.74Z"/>
<path d="M422.67 179.84 427.71 180.87 435.47 180.21 430.43 179.18Z"/>
<path d="M456.01 180.37 461.05 181.62 468.81 181.29 463.77 180.04Z"/>
<path d="M489.35 182.33 494.39 183.8 502.15 183.8 497.11 182.33Z"/>
<path d="M235.42 203.66 240.46 203.48 248.22 200.96 243.18 201.14Z"/>
<path d="M522.7 185.71 527.73 187.4 535.49 187.73 530.45 186.04Z"/>
<path d="M268.76 196.19 273.8 196.23 281.56 194.04 276.52 193.99Z"/>
<path d="M556.04 190.52 561.07 192.43 568.83 193.09 563.79 191.18Z"/>
<path d="M302.1 190.14 307.14 190.4 314.9 188.54 309.86 188.28Z"/>
<path d="M589.38 196.76 594.41 198.89 602.17 199.88 597.13 197.75Z"/>
<path d="M335.45 185.52 340.48 186 348.24 184.47 343.2 183.99Z"/>
<path d="M368.79 182.32 373.82 183.03 381.58 181.82 376.54 181.12Z"/>
<path d="M402.13 180.56 407.16 181.48 414.92 180.6 409.88 179.68Z"/>
<path d="M435.47 180.21 440.5 181.35 448.26 180.81 443.22 179.66Z"/>
<path d="M468.81 181.29 473.84 182.65 481.6 182.44 476.56 181.08Z"/>
<path d="M214.88 209.31 219.91 209.03 227.67 206.29 222.63 206.57Z"/>
<path d="M502.15 183.8 507.18 185.38 514.94 185.49 509.9 183.91Z"/>
<path d="M248.22 200.96 253.25 200.9 261.01 198.49 255.97 198.55Z"/>
<path d="M535.49 187.73 540.53 189.53 548.28 189.97 543.24 188.17Z"/>
<path d="M281.56 194.04 286.59 194.19 294.35 192.11 289.31 191.96Z"/>
<path d="M568.83 193.09 573.87 195.11 581.62 195.88 576.58 193.86Z"/>
<path d="M314.9 188.54 319.94 188.92 327.69 187.16 322.65 186.79Z"/>
<path d="M602.17 199.88 607.21 202.12 614.96 203.21 609.92 200.98Z"/>
<path d="M348.24 184.47 353.28 185.06 361.03 183.64 355.99 183.05Z"/>
<path d="M381.58 181.82 386.62 182.64 394.37 181.54 389.33 180.73Z"/>
<path d="M414.92 180.6 419.96 181.63 427.71 180.87 422.67 179.84Z"/>
<path d="M448.26 180.81 453.3 182.06 461.05 181.62 456.01 180.37Z"/>
<path d="M481.6 182.44 486.64 183.91 494.39 183.8 489.35 182.33Z"/>
<path d="M227.67 206.29 232.71 206.11 240.46 203.48 235.42 203.66Z"/>
<path d="M514.94 185.49 519.98 187.18 527.73 187.4 522.7 185.71Z"/>
<path d="M261.01 198.49 266.05 198.53 273.8 196.23 268.76 196.19Z"/>
<path d="M548.28 189.97 553.32 191.88 561.07 192.43 556.04 190.52Z"/>
<path d="M294.35 192.11 299.39 192.38 307.14 190.4 302.1 190.14Z"/>
<path d="M581.62 195.88 586.66 198.01 594.41 198.89 589.38 196.76Z"/>
<path d="M327.69 187.16 332.73 187.65 340.48 186 335.45 185.52Z"/>
<path d="M361.03 183.64 366.07 184.34 373.82 183.03 368.79 182.32Z"/>
<path d="M394.37 181.54 399.41 182.46 407.16 181.48 402.13 180.56Z"/>
<path d="M427.71 180.87 432.75 182.01 440.5 181.35 435.47 180.21Z"/>
<path d="M461.05 181.62 466.09 182.98 473.84 182.65 468.81 181.29Z"/>
<path d="M207.12 212.16 212.16 211.88 219.91 209.03 214.88 209.31Z"/>
<path d="M494.39 183.8 499.43 185.38 507.18 185.38 502.15 183.8Z"/>
<path d="M240.46 203.48 245.5 203.42 253.25 200.9 248.22 200.96Z"/>
<path d="M527.73 187.4 532.77 189.2 540.53 189.53 535.49 187.73Z"/>
<path d="M273.8 196.23 278.84 196.39 286.59 194.19 281.56 194.04Z"/>
<path d="M561.07 192.43 566.11 194.45 573.87 195.11 568.83 193.09Z"/>
<path d="M307.14 190.4 312.18 190.78 319.94 188.92 314.9 188.54Z"/>
<path d="M594.41 198.89 599.45 201.13 607.21 202.12 602.17 199.88Z"/>
<path d="M340.48 186 345.52 186.6 353.28 185.06 348.24 184.47Z"/>
<path d="M373.82 183.03 378.86 183.84 386.62 182.64 381.58 181.82Z"/>
<path d="M407.16 181.48 412.2 182.51 419.96 181.63 414.92 180.6Z"/>
<path d="M440.5 181.35 445.54 182.6 453.3 182.06 448.26 180.81Z"/>
<path d="M473.84 182.65 478.88 184.12 486.64 183.91 481.6 182.44Z"/>
<path d="M219.91 209.03 224.95 208.85 232.71 206.11 227.67 206.29Z"/>
<path d="M507.18 185.38 512.22 187.07 519.98 187.18 514.94 185.49Z"/>
<path d="M253.25 200.9 258.29 200.94 266.05 198.53 261.01 198.49Z"/>
<path d="M540.53 189.53 545.56 191.44 553.32 191.88 548.28 189.97Z"/>
<path d="M286.59 194.19 291.63 194.46 299.39 192.38 294.35 192.11Z"/>
<path d="M573.87 195.11 578.9 197.24 586.66 198.01 581.62 195.88Z"/>
<path d="M319.94 188.92 324.97 189.4 332.73 187.65 327.69 187.16Z"/>
<path d="M607.21 202.12 612.24 204.46 620 205.56 614.96 203.21Z"/>
<path d="M353.28 185.06 358.31 185.77 366.07 184.34 361.03 183.64Z"/>
<path d="M386.62 182.64 391.65 183.56 399.41 182.46 394.37 181.54Z"/>
<path d="M419.96 181.63 424.99 182.78 432.75 182.01 427.71 180.87Z"/>
<path d="M453.3 182.06 458.33 183.42 466.09 182.98 461.05 181.62Z"/>
<path d="M199.37 215.12 204.4 214.84 212.16 211.88 207.12 212.16Z"/>
<path d="M486.64 183.91 491.67 185.49 499.43 185.38 494.39 183.8Z"/>
<path d="M232.71 206.11 237.74 206.05 245.5 203.42 240.46 203.48Z"/>
<path d="M519.98 187.18 525.02 188.98 532.77 189.2 527.73 187.4Z"/>
<path d="M266.05 198.53 271.08 198.69 278.84 196.39 273.8 196.23Z"/>
<path d="M553.32 191.88 558.36 193.9 566.11 194.45 561.07 192.43Z"/>
<path d="M299.39 192.38 304.42 192.75 312.18 190.78 307.14 190.4Z"/>
<path d="M586.66 198.01 591.7 200.25 599.45 201.13 594.41 198.89Z"/>
<path d="M332.73 187.65 337.77 188.24 345.52 186.6 340.48 186Z"/>
<path d="M366.07 184.34 371.11 185.15 378.86 183.84 373.82 183.03Z"/>
<path d="M399.41 182.46 404.45 183.49 412.2 182.51 407.16 181.48Z"/>
<path d="M432.75 182.01 437.79 183.26 445.54 182.6 440.5 181.35Z"/>
<path d="M466.09 182.98 471.13 184.45 478.88 184.12 473.84 182.65Z"/>
<path d="M212.16 211.88 217.2 211.7 224.95 208.85 219.91 209.03Z"/>
<path d="M499.43 185.38 504.47 187.07 512.22 187.07 507.18 185.38Z"/>
<path d="M245.5 203.42 250.54 203.46 258.29 200.94 253.25 200.9Z"/>
<path d="M532.77 189.2 537.81 191.11 545.56 191.44 540.53 189.53Z"/>
<path d="M278.84 196.39 283.88 196.65 291.63 194.46 286.59 194.19Z"/>
<path d="M566.11 194.45 571.15 196.58 578.9 197.24 573.87 195.11Z"/>
<path d="M312.18 190.78 317.22 191.26 324.97 189.4 319.94 188.92Z"/>
<path d="M599.45 201.13 604.49 203.47 612.24 204.46 607.21 202.12Z"/>
<path d="M345.52 186.6 350.56 187.3 358.31 185.77 353.28 185.06Z"/>
<path d="M378.86 183.84 383.9 184.76 391.65 183.56 386.62 182.64Z"/>
<path d="M412.2 182.51 417.24 183.65 424.99 182.78 419.96 181.63Z"/>
<path d="M445.54 182.6 450.58 183.97 458.33 183.42 453.3 182.06Z"/>
<path d="M191.61 218.19 196.65 217.91 204.4 214.84 199.37 215.12Z"/>
<path d="M478.88 184.12 483.92 185.71 491.67 185.49 486.64 183.91Z"/>
<path d="M224.95 208.85 229.99 208.79 237.74 206.05 232.71 206.11Z"/>
<path d="M512.22 187.07 517.26 188.87 525.02 188.98 519.98 187.18Z"/>
<path d="M258.29 200.94 263.33 201.1 271.08 198.69 266.05 198.53Z"/>
<path d="M545.56 191.44 550.6 193.46 558.36 193.9 553.32 191.88Z"/>
<path d="M291.63 194.46 296.67 194.83 304.42 192.75 299.39 192.38Z"/>
<path d="M578.9 197.24 583.94 199.48 591.7 200.25 586.66 198.01Z"/>
<path d="M324.97 189.4 330.01 189.99 337.77 188.24 332.73 187.65Z"/>
<path d="M612.24 204.46 617.28 206.92 625.04 208.02 620 205.56Z"/>
<path d="M358.31 185.77 363.35 186.58 371.11 185.15 366.07 184.34Z"/>
<path d="M391.65 183.56 396.69 184.59 404.45 183.49 399.41 182.46Z"/>
<path d="M424.99 182.78 430.03 184.03 437.79 183.26 432.75 182.01Z"/>
<path d="M458.33 183.42 463.37 184.89 471.13 184.45 466.09 182.98Z"/>
<path d="M204.4 214.84 209.44 214.66 217.2 211.7 212.16 211.88Z"/>
<path d="M491.67 185.49 496.71 187.18 504.47 187.07 499.43 185.38Z"/>
<path d="M237.74 206.05 242.78 206.09 250.54 203.46 245.5 203.42Z"/>
<path d="M525.02 188.98 530.05 190.89 537.81 191.11 532.77 189.2Z"/>
<path d="M271.08 198.69 276.12 198.95 283.88 196.65 278.84 196.39Z"/>
<path d="M558.36 193.9 563.39 196.03 571.15 196.58 566.11 194.45Z"/>
<path d="M304.42 192.75 309.46 193.23 317.22 191.26 312.18 190.78Z"/>
<path d="M591.7 200.25 596.73 202.6 604.49 203.47 599.45 201.13Z"/>
<path d="M337.77 188.24 342.8 188.94 350.56 187.3 345.52 186.6Z"/>
<path d="M371.11 185.15 376.14 186.08 383.9 184.76 378.86 183.84Z"/>
<path d="M404.45 183.49 409.48 184.64 417.24 183.65 412.2 182.51Z"/>
<path d="M437.79 183.26 442.82 184.62 450.58 183.97 445.54 182.6Z"/>
<path d="M183.86 221.37 188.89 221.09 196.65 217.91 191.61 218.19Z"/>
<path d="M471.13 184.45 476.16 186.03 483.92 185.71 478.88 184.12Z"/>
<path d="M217.2 211.7 222.23 211.64 229.99 208.79 224.95 208.85Z"/>
<path d="M504.47 187.07 509.5 188.87 517.26 188.87 512.22 187.07Z"/>
<path d="M250.54 203.46 255.57 203.62 263.33 201.1 258.29 200.94Z"/>
<path d="M537.81 191.11 542.85 193.13 550.6 193.46 545.56 191.44Z"/>
<path d="M283.88 196.65 288.91 197.02 296.67 194.83 291.63 194.46Z"/>
<path d="M571.15 196.58 576.19 198.82 583.94 199.48 578.9 197.24Z"/>
<path d="M317.22 191.26 322.26 191.86 330.01 189.99 324.97 189.4Z"/>
<path d="M604.49 203.47 609.53 205.93 617.28 206.92 612.24 204.46Z"/>
<path d="M350.56 187.3 355.6 188.11 363.35 186.58 358.31 185.77Z"/>
<path d="M383.9 184.76 388.94 185.79 396.69 184.59 391.65 183.56Z"/>
<path d="M417.24 183.65 422.28 184.9 430.03 184.03 424.99 182.78Z"/>
<path d="M450.58 183.97 455.62 185.44 463.37 184.89 458.33 183.42Z"/>
<path d="M196.65 217.91 201.69 217.73 209.44 214.66 204.4 214.84Z"/>
<path d="M483.92 185.71 488.96 187.4 496.71 187.18 491.67 185.49Z"/>
<path d="M229.99 208.79 235.03 208.83 242.78 206.09 237.74 206.05Z"/>
<path d="M517.26 188.87 522.3 190.78 530.05 190.89 525.02 188.98Z"/>
<path d="M263.33 201.1 268.37 201.36 276.12 198.95 271.08 198.69Z"/>
<path d="M550.6 193.46 555.64 195.59 563.39 196.03 558.36 193.9Z"/>
<path d="M296.67 194.83 301.71 195.32 309.46 193.23 304.42 192.75Z"/>
<path d="M583.94 199.48 588.98 201.83 596.73 202.6 591.7 200.25Z"/>
<path d="M330.01 189.99 335.05 190.7 342.8 188.94 337.77 188.24Z"/>
<path d="M617.28 206.92 622.32 209.49 630.07 210.59 625.04 208.02Z"/>
<path d="M363.35 186.58 368.39 187.5 376.14 186.08 371.11 185.15Z"/>
<path d="M396.69 184.59 401.73 185.73 409.48 184.64 404.45 183.49Z"/>
<path d="M430.03 184.03 435.07 185.39 442.82 184.62 437.79 183.26Z"/>
<path d="M176.1 224.66 181.14 224.37 188.89 221.09 183.86 221.37Z"/>
<path d="M463.37 184.89 468.41 186.47 476.16 186.03 471.13 184.45Z"/>
<path d="M209.44 214.66 214.48 214.6 222.23 211.64 217.2 211.7Z"/>
<path d="M496.71 187.18 501.75 188.98 509.5 188.87 504.47 187.07Z"/>
<path d="M242.78 206.09 247.82 206.25 255.57 203.62 250.54 203.46Z"/>
<path d="M530.05 190.89 535.09 192.91 542.85 193.13 537.81 191.11Z"/>
<path d="M276.12 198.95 281.16 199.33 288.91 197.02 283.88 196.65Z"/>
<path d="M563.39 196.03 568.43 198.27 576.19 198.82 571.15 196.58Z"/>
<path d="M309.46 193.23 314.5 193.83 322.26 191.86 317.22 191.26Z"/>
<path d="M596.73 202.6 601.77 205.05 609.53 205.93 604.49 203.47Z"/>
<path d="M342.8 188.94 347.84 189.76 355.6 188.11 350.56 187.3Z"/>
<path d="M376.14 186.08 381.18 187.11 388.94 185.79 383.9 184.76Z"/>
<path d="M409.48 184.64 414.52 185.89 422.28 184.9 417.24 183.65Z"/>
<path d="M442.82 184.62 447.86 186.09 455.62 185.44 450.58 183.97Z"/>
<path d="M188.89 221.09 193.93 220.91 201.69 217.73 196.65 217.91Z"/>
<path d="M476.16 186.03 481.2 187.72 488.96 187.4 483.92 185.71Z"/>
<path d="M222.23 211.64 227.27 211.68 235.03 208.83 229.99 208.79Z"/>
<path d="M509.5 188.87 514.54 190.78 522.3 190.78 517.26 188.87Z"/>
<path d="M255.57 203.62 260.61 203.88 268.37 201.36 263.33 201.1Z"/>
<path d="M542.85 193.13 547.88 195.26 555.64 195.59 550.6 193.46Z"/>
<path d="M288.91 197.02 293.95 197.51 301.71 195.32 296.67 194.83Z"/>
<path d="M576.19 198.82 581.22 201.17 588.98 201.83 583.94 199.48Z"/>
<path d="M322.26 191.86 327.29 192.56 335.05 190.7 330.01 189.99Z"/>
<path d="M609.53 205.93 614.56 208.5 622.32 209.49 617.28 206.92Z"/>
<path d="M355.6 188.11 360.63 189.03 368.39 187.5 363.35 186.58Z"/>
<path d="M388.94 185.79 393.97 186.94 401.73 185.73 396.69 184.59Z"/>
<path d="M422.28 184.9 427.31 186.26 435.07 185.39 430.03 184.03Z"/>
<path d="M168.35 228.06 173.38 227.77 181.14 224.37 176.1 224.66Z"/>
<path d="M455.62 185.44 460.65 187.02 468.41 186.47 463.37 184.89Z"/>
<path d="M201.69 217.73 206.72 217.67 214.48 214.6 209.44 214.66Z"/>
<path d="M488.96 187.4 493.99 189.19 501.75 188.98 496.71 187.18Z"/>
<path d="M235.03 208.83 240.06 208.99 247.82 206.25 242.78 206.09Z"/>
<path d="M522.3 190.78 527.34 192.8 535.09 192.91 530.05 190.89Z"/>
<path d="M268.37 201.36 273.4 201.74 281.16 199.33 276.12 198.95Z"/>
<path d="M555.64 195.59 560.68 197.83 568.43 198.27 563.39 196.03Z"/>
<path d="M301.71 195.32 306.74 195.91 314.5 193.83 309.46 193.23Z"/>
<path d="M588.98 201.83 594.02 204.28 601.77 205.05 596.73 202.6Z"/>
<path d="M335.05 190.7 340.09 191.51 347.84 189.76 342.8 188.94Z"/>
<path d="M622.32 209.49 627.36 212.17 635.11 213.26 630.07 210.59Z"/>
<path d="M368.39 187.5 373.43 188.53 381.18 187.11 376.14 186.08Z"/>
<path d="M401.73 185.73 406.77 186.98 414.52 185.89 409.48 184.64Z"/>
<path d="M435.07 185.39 440.11 186.86 447.86 186.09 442.82 184.62Z"/>
<path d="M181.14 224.37 186.18 224.2 193.93 220.91 188.89 221.09Z"/>
<path d="M468.41 186.47 473.45 188.16 481.2 187.72 476.16 186.03Z"/>
<path d="M214.48 214.6 219.52 214.64 227.27 211.68 222.23 211.64Z"/>
<path d="M501.75 188.98 506.79 190.89 514.54 190.78 509.5 188.87Z"/>
<path d="M247.82 206.25 252.86 206.51 260.61 203.88 255.57 203.62Z"/>
<path d="M535.09 192.91 540.13 195.04 547.88 195.26 542.85 193.13Z"/>
<path d="M281.16 199.33 286.2 199.81 293.95 197.51 288.91 197.02Z"/>
<path d="M568.43 198.27 573.47 200.62 581.22 201.17 576.19 198.82Z"/>
<path d="M314.5 193.83 319.54 194.53 327.29 192.56 322.26 191.86Z"/>
<path d="M601.77 205.05 606.81 207.62 614.56 208.5 609.53 205.93Z"/>
<path d="M347.84 189.76 352.88 190.68 360.63 189.03 355.6 188.11Z"/>
<path d="M381.18 187.11 386.22 188.25 393.97 186.94 388.94 185.79Z"/>
<path d="M414.52 185.89 419.56 187.25 427.31 186.26 422.28 184.9Z"/>
<path d="M160.59 231.56 165.63 231.28 173.38 227.77 168.35 228.06Z"/>
<path d="M447.86 186.09 452.9 187.67 460.65 187.02 455.62 185.44Z"/>
<path d="M193.93 220.91 198.97 220.85 206.72 217.67 201.69 217.73Z"/>
<path d="M481.2 187.72 486.24 189.52 493.99 189.19 488.96 187.4Z"/>
<path d="M227.27 211.68 232.31 211.84 240.06 208.99 235.03 208.83Z"/>
<path d="M514.54 190.78 519.58 192.8 527.34 192.8 522.3 190.78Z"/>
<path d="M260.61 203.88 265.65 204.26 273.4 201.74 268.37 201.36Z"/>
<path d="M547.88 195.26 552.92 197.5 560.68 197.83 555.64 195.59Z"/>
<path d="M293.95 197.51 298.99 198.1 306.74 195.91 301.71 195.32Z"/>
<path d="M581.22 201.17 586.26 203.62 594.02 204.28 588.98 201.83Z"/>
<path d="M327.29 192.56 332.33 193.37 340.09 191.51 335.05 190.7Z"/>
<path d="M614.56 208.5 619.6 211.18 627.36 212.17 622.32 209.49Z"/>
<path d="M360.63 189.03 365.67 190.07 373.43 188.53 368.39 187.5Z"/>
<path d="M393.97 186.94 399.01 188.19 406.77 186.98 401.73 185.73Z"/>
<path d="M427.31 186.26 432.35 187.73 440.11 186.86 435.07 185.39Z"/>
<path d="M173.38 227.77 178.42 227.6 186.18 224.2 181.14 224.37Z"/>
<path d="M460.65 187.02 465.69 188.71 473.45 188.16 468.41 186.47Z"/>
<path d="M206.72 217.67 211.76 217.71 219.52 214.64 214.48 214.6Z"/>
<path d="M493.99 189.19 499.03 191.1 506.79 190.89 501.75 188.98Z"/>
<path d="M240.06 208.99 245.1 209.25 252.86 206.51 247.82 206.25Z"/>
<path d="M527.34 192.8 532.37 194.93 540.13 195.04 535.09 192.91Z"/>
<path d="M273.4 201.74 278.44 202.22 286.2 199.81 281.16 199.33Z"/>
<path d="M560.68 197.83 565.71 200.18 573.47 200.62 568.43 198.27Z"/>
<path d="M306.74 195.91 311.78 196.61 319.54 194.53 314.5 193.83Z"/>
<path d="M594.02 204.28 599.05 206.85 606.81 207.62 601.77 205.05Z"/>
<path d="M340.09 191.51 345.12 192.43 352.88 190.68 347.84 189.76Z"/>
<path d="M627.36 212.17 632.39 214.95 640.15 216.05 635.11 213.26Z"/>
<path d="M373.43 188.53 378.46 189.67 386.22 188.25 381.18 187.11Z"/>
<path d="M406.77 186.98 411.8 188.34 419.56 187.25 414.52 185.89Z"/>
<path d="M152.84 235.18 157.87 234.9 165.63 231.28 160.59 231.56Z"/>
<path d="M440.11 186.86 445.14 188.44 452.9 187.67 447.86 186.09Z"/>
<path d="M186.18 224.2 191.21 224.13 198.97 220.85 193.93 220.91Z"/>
<path d="M473.45 188.16 478.48 189.96 486.24 189.52 481.2 187.72Z"/>
<path d="M219.52 214.64 224.55 214.8 232.31 211.84 227.27 211.68Z"/>
<path d="M506.79 190.89 511.82 192.91 519.58 192.8 514.54 190.78Z"/>
<path d="M252.86 206.51 257.89 206.89 265.65 204.26 260.61 203.88Z"/>
<path d="M540.13 195.04 545.17 197.28 552.92 197.5 547.88 195.26Z"/>
<path d="M286.2 199.81 291.23 200.4 298.99 198.1 293.95 197.51Z"/>
<path d="M573.47 200.62 578.51 203.07 586.26 203.62 581.22 201.17Z"/>
<path d="M319.54 194.53 324.58 195.34 332.33 193.37 327.29 192.56Z"/>
<path d="M606.81 207.62 611.85 210.3 619.6 211.18 614.56 208.5Z"/>
<path d="M352.88 190.68 357.92 191.71 365.67 190.07 360.63 189.03Z"/>
<path d="M386.22 188.25 391.26 189.5 399.01 188.19 393.97 186.94Z"/>
<path d="M419.56 187.25 424.6 188.72 432.35 187.73 427.31 186.26Z"/>
<path d="M165.63 231.28 170.67 231.1 178.42 227.6 173.38 227.77Z"/>
<path d="M452.9 187.67 457.94 189.36 465.69 188.71 460.65 187.02Z"/>
<path d="M198.97 220.85 204.01 220.89 211.76 217.71 206.72 217.67Z"/>
<path d="M486.24 189.52 491.28 191.43 499.03 191.1 493.99 189.19Z"/>
<path d="M232.31 211.84 237.35 212.1 245.1 209.25 240.06 208.99Z"/>
<path d="M519.58 192.8 524.62 194.93 532.37 194.93 527.34 192.8Z"/>
<path d="M265.65 204.26 270.69 204.74 278.44 202.22 273.4 201.74Z"/>
<path d="M552.92 197.5 557.96 199.85 565.71 200.18 560.68 197.83Z"/>
<path d="M298.99 198.1 304.03 198.8 311.78 196.61 306.74 195.91Z"/>
<path d="M586.26 203.62 591.3 206.19 599.05 206.85 594.02 204.28Z"/>
<path d="M332.33 193.37 337.37 194.29 345.12 192.43 340.09 191.51Z"/>
<path d="M619.6 211.18 624.64 213.96 632.39 214.95 627.36 212.17Z"/>
<path d="M365.67 190.07 370.71 191.21 378.46 189.67 373.43 188.53Z"/>
<path d="M399.01 188.19 404.05 189.55 411.8 188.34 406.77 186.98Z"/>
<path d="M145.08 238.91 150.12 238.62 157.87 234.9 152.84 235.18Z"/>
<path d="M432.35 187.73 437.39 189.31 445.14 188.44 440.11 186.86Z"/>
<path d="M178.42 227.6 183.46 227.53 191.21 224.13 186.18 224.2Z"/>
<path d="M465.69 188.71 470.73 190.51 478.48 189.96 473.45 188.16Z"/>
<path d="M211.76 217.71 216.8 217.87 224.55 214.8 219.52 214.64Z"/>
<path d="M499.03 191.1 504.07 193.12 511.82 192.91 506.79 190.89Z"/>
<path d="M245.1 209.25 250.14 209.63 257.89 206.89 252.86 206.51Z"/>
<path d="M532.37 194.93 537.41 197.17 545.17 197.28 540.13 195.04Z"/>
<path d="M278.44 202.22 283.48 202.81 291.23 200.4 286.2 199.81Z"/>
<path d="M565.71 200.18 570.75 202.63 578.51 203.07 573.47 200.62Z"/>
<path d="M311.78 196.61 316.82 197.43 324.58 195.34 319.54 194.53Z"/>
<path d="M599.05 206.85 604.09 209.53 611.85 210.3 606.81 207.62Z"/>
<path d="M345.12 192.43 350.16 193.46 357.92 191.71 352.88 190.68Z"/>
<path d="M632.39 214.95 637.43 217.85 645.19 218.95 640.15 216.05Z"/>
<path d="M378.46 189.67 383.5 190.93 391.26 189.5 386.22 188.25Z"/>
<path d="M411.8 188.34 416.84 189.81 424.6 188.72 419.56 187.25Z"/>
<path d="M157.87 234.9 162.91 234.72 170.67 231.1 165.63 231.28Z"/>
<path d="M445.14 188.44 450.18 190.13 457.94 189.36 452.9 187.67Z"/>
<path d="M191.21 224.13 196.25 224.18 204.01 220.89 198.97 220.85Z"/>
<path d="M478.48 189.96 483.52 191.87 491.28 191.43 486.24 189.52Z"/>
<path d="M224.55 214.8 229.59 215.06 237.35 212.1 232.31 211.84Z"/>
<path d="M511.82 192.91 516.86 195.03 524.62 194.93 519.58 192.8Z"/>
<path d="M257.89 206.89 262.93 207.37 270.69 204.74 265.65 204.26Z"/>
<path d="M545.17 197.28 550.2 199.63 557.96 199.85 552.92 197.5Z"/>
<path d="M291.23 200.4 296.27 201.11 304.03 198.8 298.99 198.1Z"/>
<path d="M578.51 203.07 583.54 205.64 591.3 206.19 586.26 203.62Z"/>
<path d="M324.58 195.34 329.61 196.27 337.37 194.29 332.33 193.37Z"/>
<path d="M611.85 210.3 616.88 213.08 624.64 213.96 619.6 211.18Z"/>
<path d="M357.92 191.71 362.95 192.85 370.71 191.21 365.67 190.07Z"/>
<path d="M391.26 189.5 396.29 190.86 404.05 189.55 399.01 188.19Z"/>
<path d="M137.33 242.74 142.36 242.46 150.12 238.62 145.08 238.91Z"/>
<path d="M424.6 188.72 429.63 190.3 437.39 189.31 432.35 187.73Z"/>
<path d="M170.67 231.1 175.7 231.04 183.46 227.53 178.42 227.6Z"/>
<path d="M457.94 189.36 462.97 191.16 470.73 190.51 465.69 188.71Z"/>
<path d="M204.01 220.89 209.04 221.05 216.8 217.87 211.76 217.71Z"/>
<path d="M491.28 191.43 496.31 193.45 504.07 193.12 499.03 191.1Z"/>
<path d="M237.35 212.1 242.38 212.48 250.14 209.63 245.1 209.25Z"/>
<path d="M524.62 194.93 529.66 197.16 537.41 197.17 532.37 194.93Z"/>
<path d="M270.69 204.74 275.72 205.33 283.48 202.81 278.44 202.22Z"/>
<path d="M557.96 199.85 563 202.3 570.75 202.63 565.71 200.18Z"/>
<path d="M304.03 198.8 309.06 199.62 316.82 197.43 311.78 196.61Z"/>
<path d="M591.3 206.19 596.34 208.87 604.09 209.53 599.05 206.85Z"/>
<path d="M337.37 194.29 342.41 195.33 350.16 193.46 345.12 192.43Z"/>
<path d="M624.64 213.96 629.68 216.86 637.43 217.85 632.39 214.95Z"/>
<path d="M370.71 191.21 375.75 192.46 383.5 190.93 378.46 189.67Z"/>
<path d="M404.05 189.55 409.09 191.02 416.84 189.81 411.8 188.34Z"/>
<path d="M150.12 238.62 155.16 238.45 162.91 234.72 157.87 234.9Z"/>
<path d="M437.39 189.31 442.43 191 450.18 190.13 445.14 188.44Z"/>
<path d="M183.46 227.53 188.5 227.58 196.25 224.18 191.21 224.13Z"/>
<path d="M470.73 190.51 475.77 192.42 483.52 191.87 478.48 189.96Z"/>
<path d="M216.8 217.87 221.84 218.13 229.59 215.06 224.55 214.8Z"/>
<path d="M504.07 193.12 509.11 195.25 516.86 195.03 511.82 192.91Z"/>
<path d="M250.14 209.63 255.18 210.11 262.93 207.37 257.89 206.89Z"/>
<path d="M537.41 197.17 542.45 199.51 550.2 199.63 545.17 197.28Z"/>
<path d="M283.48 202.81 288.52 203.52 296.27 201.11 291.23 200.4Z"/>
<path d="M570.75 202.63 575.79 205.2 583.54 205.64 578.51 203.07Z"/>
<path d="M316.82 197.43 321.86 198.35 329.61 196.27 324.58 195.34Z"/>
<path d="M604.09 209.53 609.13 212.31 616.88 213.08 611.85 210.3Z"/>
<path d="M350.16 193.46 355.2 194.6 362.95 192.85 357.92 191.71Z"/>
<path d="M637.43 217.85 642.47 220.85 650.22 221.95 645.19 218.95Z"/>
<path d="M383.5 190.93 388.54 192.29 396.29 190.86 391.26 189.5Z"/>
<path d="M129.57 246.69 134.61 246.41 142.36 242.46 137.33 242.74Z"/>
<path d="M416.84 189.81 421.88 191.39 429.63 190.3 424.6 188.72Z"/>
<path d="M162.91 234.72 167.95 234.66 175.7 231.04 170.67 231.1Z"/>
<path d="M450.18 190.13 455.22 191.93 462.97 191.16 457.94 189.36Z"/>
<path d="M196.25 224.18 201.29 224.33 209.04 221.05 204.01 220.89Z"/>
<path d="M483.52 191.87 488.56 193.89 496.31 193.45 491.28 191.43Z"/>
<path d="M229.59 215.06 234.63 215.44 242.38 212.48 237.35 212.1Z"/>
<path d="M516.86 195.03 521.9 197.27 529.66 197.16 524.62 194.93Z"/>
<path d="M262.93 207.37 267.97 207.96 275.72 205.33 270.69 204.74Z"/>
<path d="M550.2 199.63 555.24 202.08 563 202.3 557.96 199.85Z"/>
<path d="M296.27 201.11 301.31 201.92 309.06 199.62 304.03 198.8Z"/>
<path d="M583.54 205.64 588.58 208.32 596.34 208.87 591.3 206.19Z"/>
<path d="M329.61 196.27 334.65 197.3 342.41 195.33 337.37 194.29Z"/>
<path d="M616.88 213.08 621.92 215.98 629.68 216.86 624.64 213.96Z"/>
<path d="M362.95 192.85 367.99 194.1 375.75 192.46 370.71 191.21Z"/>
<path d="M396.29 190.86 401.33 192.33 409.09 191.02 404.05 189.55Z"/>
<path d="M142.36 242.46 147.4 242.29 155.16 238.45 150.12 238.62Z"/>
<path d="M429.63 190.3 434.67 191.99 442.43 191 437.39 189.31Z"/>
<path d="M175.7 231.04 180.74 231.09 188.5 227.58 183.46 227.53Z"/>
<path d="M462.97 191.16 468.01 193.07 475.77 192.42 470.73 190.51Z"/>
<path d="M209.04 221.05 214.08 221.31 221.84 218.13 216.8 217.87Z"/>
<path d="M496.31 193.45 501.35 195.58 509.11 195.25 504.07 193.12Z"/>
<path d="M242.38 212.48 247.42 212.96 255.18 210.11 250.14 209.63Z"/>
<path d="M529.66 197.16 534.69 199.51 542.45 199.51 537.41 197.17Z"/>
<path d="M275.72 205.33 280.76 206.04 288.52 203.52 283.48 202.81Z"/>
<path d="M563 202.3 568.03 204.87 575.79 205.2 570.75 202.63Z"/>
<path d="M309.06 199.62 314.1 200.54 321.86 198.35 316.82 197.43Z"/>
<path d="M596.34 208.87 601.37 211.66 609.13 212.31 604.09 209.53Z"/>
<path d="M342.41 195.33 347.44 196.47 355.2 194.6 350.16 193.46Z"/>
<path d="M629.68 216.86 634.71 219.87 642.47 220.85 637.43 217.85Z"/>
<path d="M375.75 192.46 380.78 193.82 388.54 192.29 383.5 190.93Z"/>
<path d="M121.82 250.75 126.85 250.46 134.61 246.41 129.57 246.69Z"/>
<path d="M409.09 191.02 414.12 192.6 421.88 191.39 416.84 189.81Z"/>
<path d="M155.16 238.45 160.19 238.38 167.95 234.66 162.91 234.72Z"/>
<path d="M442.43 191 447.46 192.8 455.22 191.93 450.18 190.13Z"/>
<path d="M188.5 227.58 193.53 227.73 201.29 224.33 196.25 224.18Z"/>
<path d="M475.77 192.42 480.8 194.43 488.56 193.89 483.52 191.87Z"/>
<path d="M221.84 218.13 226.87 218.51 234.63 215.44 229.59 215.06Z"/>
<path d="M509.11 195.25 514.14 197.49 521.9 197.27 516.86 195.03Z"/>
<path d="M255.18 210.11 260.21 210.7 267.97 207.96 262.93 207.37Z"/>
<path d="M542.45 199.51 547.49 201.97 555.24 202.08 550.2 199.63Z"/>
<path d="M288.52 203.52 293.55 204.33 301.31 201.92 296.27 201.11Z"/>
<path d="M575.79 205.2 580.83 207.88 588.58 208.32 583.54 205.64Z"/>
<path d="M321.86 198.35 326.9 199.38 334.65 197.3 329.61 196.27Z"/>
<path d="M609.13 212.31 614.17 215.21 621.92 215.98 616.88 213.08Z"/>
<path d="M355.2 194.6 360.24 195.86 367.99 194.1 362.95 192.85Z"/>
<path d="M642.47 220.85 647.51 223.97 655.26 225.07 650.22 221.95Z"/>
<path d="M388.54 192.29 393.58 193.76 401.33 192.33 396.29 190.86Z"/>
<path d="M134.61 246.41 139.65 246.23 147.4 242.29 142.36 242.46Z"/>
<path d="M421.88 191.39 426.92 193.08 434.67 191.99 429.63 190.3Z"/>
<path d="M167.95 234.66 172.99 234.7 180.74 231.09 175.7 231.04Z"/>
<path d="M455.22 191.93 460.26 193.84 468.01 193.07 462.97 191.16Z"/>
<path d="M201.29 224.33 206.33 224.6 214.08 221.31 209.04 221.05Z"/>
<path d="M488.56 193.89 493.6 196.02 501.35 195.58 496.31 193.45Z"/>
<path d="M234.63 215.44 239.67 215.92 247.42 212.96 242.38 212.48Z"/>
<path d="M521.9 197.27 526.94 199.62 534.69 199.51 529.66 197.16Z"/>
<path d="M267.97 207.96 273.01 208.67 280.76 206.04 275.72 205.33Z"/>
<path d="M555.24 202.08 560.28 204.65 568.03 204.87 563 202.3Z"/>
<path d="M301.31 201.92 306.35 202.84 314.1 200.54 309.06 199.62Z"/>
<path d="M588.58 208.32 593.62 211.11 601.37 211.66 596.34 208.87Z"/>
<path d="M334.65 197.3 339.69 198.44 347.44 196.47 342.41 195.33Z"/>
<path d="M621.92 215.98 626.96 218.99 634.71 219.87 629.68 216.86Z"/>
<path d="M367.99 194.1 373.03 195.46 380.78 193.82 375.75 192.46Z"/>
<path d="M114.06 254.91 119.1 254.63 126.85 250.46 121.82 250.75Z"/>
<path d="M401.33 192.33 406.37 193.91 414.12 192.6 409.09 191.02Z"/>
<path d="M147.4 242.29 152.44 242.22 160.19 238.38 155.16 238.45Z"/>
<path d="M434.67 191.99 439.71 193.79 447.46 192.8 442.43 191Z"/>
<path d="M180.74 231.09 185.78 231.24 193.53 227.73 188.5 227.58Z"/>
<path d="M468.01 193.07 473.05 195.09 480.8 194.43 475.77 192.42Z"/>
<path d="M214.08 221.31 219.12 221.68 226.87 218.51 221.84 218.13Z"/>
<path d="M501.35 195.58 506.39 197.82 514.14 197.49 509.11 195.25Z"/>
<path d="M247.42 212.96 252.46 213.55 260.21 210.7 255.18 210.11Z"/>
<path d="M534.69 199.51 539.73 201.97 547.49 201.97 542.45 199.51Z"/>
<path d="M280.76 206.04 285.8 206.85 293.55 204.33 288.52 203.52Z"/>
<path d="M568.03 204.87 573.07 207.55 580.83 207.88 575.79 205.2Z"/>
<path d="M314.1 200.54 319.14 201.57 326.9 199.38 321.86 198.35Z"/>
<path d="M601.37 211.66 606.41 214.55 614.17 215.21 609.13 212.31Z"/>
<path d="M347.44 196.47 352.48 197.72 360.24 195.86 355.2 194.6Z"/>
<path d="M634.71 219.87 639.75 222.98 647.51 223.97 642.47 220.85Z"/>
<path d="M380.78 193.82 385.82 195.29 393.58 193.76 388.54 192.29Z"/>
<path d="M126.85 250.46 131.89 250.29 139.65 246.23 134.61 246.41Z"/>
<path d="M414.12 192.6 419.16 194.29 426.92 193.08 421.88 191.39Z"/>
<path d="M160.19 238.38 165.23 238.43 172.99 234.7 167.95 234.66Z"/>
<path d="M447.46 192.8 452.5 194.71 460.26 193.84 455.22 191.93Z"/>
<path d="M193.53 227.73 198.57 228 206.33 224.6 201.29 224.33Z"/>
<path d="M480.8 194.43 485.84 196.56 493.6 196.02 488.56 193.89Z"/>
<path d="M226.87 218.51 231.91 218.99 239.67 215.92 234.63 215.44Z"/>
<path d="M514.14 197.49 519.18 199.84 526.94 199.62 521.9 197.27Z"/>
<path d="M260.21 210.7 265.25 211.41 273.01 208.67 267.97 207.96Z"/>
<path d="M547.49 201.97 552.52 204.54 560.28 204.65 555.24 202.08Z"/>
<path d="M293.55 204.33 298.59 205.25 306.35 202.84 301.31 201.92Z"/>
<path d="M580.83 207.88 585.86 210.67 593.62 211.11 588.58 208.32Z"/>
<path d="M326.9 199.38 331.93 200.52 339.69 198.44 334.65 197.3Z"/>
<path d="M614.17 215.21 619.2 218.22 626.96 218.99 621.92 215.98Z"/>
<path d="M360.24 195.86 365.27 197.22 373.03 195.46 367.99 194.1Z"/>
<path d="M647.51 223.97 652.54 227.19 660.3 228.29 655.26 225.07Z"/>
<path d="M393.58 193.76 398.61 195.34 406.37 193.91 401.33 192.33Z"/>
<path d="M139.65 246.23 144.68 246.17 152.44 242.22 147.4 242.29Z"/>
<path d="M426.92 193.08 431.95 194.88 439.71 193.79 434.67 191.99Z"/>
<path d="M172.99 234.7 178.02 234.86 185.78 231.24 180.74 231.09Z"/>
<path d="M460.26 193.84 465.29 195.86 473.05 195.09 468.01 193.07Z"/>
<path d="M206.33 224.6 211.36 224.97 219.12 221.68 214.08 221.31Z"/>
<path d="M493.6 196.02 498.63 198.25 506.39 197.82 501.35 195.58Z"/>
<path d="M239.67 215.92 244.7 216.51 252.46 213.55 247.42 212.96Z"/>
<path d="M526.94 199.62 531.98 202.08 539.73 201.97 534.69 199.51Z"/>
<path d="M273.01 208.67 278.04 209.48 285.8 206.85 280.76 206.04Z"/>
<path d="M560.28 204.65 565.32 207.33 573.07 207.55 568.03 204.87Z"/>
<path d="M306.35 202.84 311.38 203.87 319.14 201.57 314.1 200.54Z"/>
<path d="M593.62 211.11 598.66 214 606.41 214.55 601.37 211.66Z"/>
<path d="M339.69 198.44 344.73 199.69 352.48 197.72 347.44 196.47Z"/>
<path d="M626.96 218.99 632 222.1 639.75 222.98 634.71 219.87Z"/>
<path d="M373.03 195.46 378.07 196.93 385.82 195.29 380.78 193.82Z"/>
<path d="M119.1 254.63 124.14 254.45 131.89 250.29 126.85 250.46Z"/>
<path d="M406.37 193.91 411.41 195.6 419.16 194.29 414.12 192.6Z"/>
<path d="M152.44 242.22 157.48 242.27 165.23 238.43 160.19 238.38Z"/>
<path d="M439.71 193.79 444.75 195.7 452.5 194.71 447.46 192.8Z"/>
<path d="M185.78 231.24 190.82 231.5 198.57 228 193.53 227.73Z"/>
<path d="M473.05 195.09 478.09 197.22 485.84 196.56 480.8 194.43Z"/>
<path d="M219.12 221.68 224.16 222.17 231.91 218.99 226.87 218.51Z"/>
<path d="M506.39 197.82 511.43 200.17 519.18 199.84 514.14 197.49Z"/>
<path d="M252.46 213.55 257.5 214.26 265.25 211.41 260.21 210.7Z"/>
<path d="M539.73 201.97 544.77 204.54 552.52 204.54 547.49 201.97Z"/>
<path d="M285.8 206.85 290.84 207.77 298.59 205.25 293.55 204.33Z"/>
<path d="M573.07 207.55 578.11 210.33 585.86 210.67 580.83 207.88Z"/>
<path d="M319.14 201.57 324.18 202.71 331.93 200.52 326.9 199.38Z"/>
<path d="M606.41 214.55 611.45 217.56 619.2 218.22 614.17 215.21Z"/>
<path d="M352.48 197.72 357.52 199.08 365.27 197.22 360.24 195.86Z"/>
<path d="M639.75 222.98 644.79 226.21 652.54 227.19 647.51 223.97Z"/>
<path d="M385.82 195.29 390.86 196.87 398.61 195.34 393.58 193.76Z"/>
<path d="M131.89 250.29 136.93 250.22 144.68 246.17 139.65 246.23Z"/>
<path d="M419.16 194.29 424.2 196.09 431.95 194.88 426.92 193.08Z"/>
<path d="M165.23 238.43 170.27 238.58 178.02 234.86 172.99 234.7Z"/>
<path d="M452.5 194.71 457.54 196.73 465.29 195.86 460.26 193.84Z"/>
<path d="M198.57 228 203.61 228.37 211.36 224.97 206.33 224.6Z"/>
<path d="M485.84 196.56 490.88 198.8 498.63 198.25 493.6 196.02Z"/>
<path d="M231.91 218.99 236.95 219.58 244.7 216.51 239.67 215.92Z"/>
<path d="M519.18 199.84 524.22 202.3 531.98 202.08 526.94 199.62Z"/>
<path d="M265.25 211.41 270.29 212.22 278.04 209.48 273.01 208.67Z"/>
<path d="M552.52 204.54 557.56 207.22 565.32 207.33 560.28 204.65Z"/>
<path d="M298.59 205.25 303.63 206.28 311.38 203.87 306.35 202.84Z"/>
<path d="M585.86 210.67 590.9 213.56 598.66 214 593.62 211.11Z"/>
<path d="M331.93 200.52 336.97 201.77 344.73 199.69 339.69 198.44Z"/>
<path d="M619.2 218.22 624.24 221.33 632 222.1 626.96 218.99Z"/>
<path d="M365.27 197.22 370.31 198.69 378.07 196.93 373.03 195.46Z"/>
<path d="M652.54 227.19 657.58 230.53 665.34 231.63 660.3 228.29Z"/>
<path d="M398.61 195.34 403.65 197.03 411.41 195.6 406.37 193.91Z"/>
<path d="M144.68 246.17 149.72 246.21 157.48 242.27 152.44 242.22Z"/>
<path d="M431.95 194.88 436.99 196.79 444.75 195.7 439.71 193.79Z"/>
<path d="M178.02 234.86 183.06 235.12 190.82 231.5 185.78 231.24Z"/>
<path d="M465.29 195.86 470.33 197.99 478.09 197.22 473.05 195.09Z"/>
<path d="M211.36 224.97 216.4 225.46 224.16 222.17 219.12 221.68Z"/>
<path d="M498.63 198.25 503.67 200.6 511.43 200.17 506.39 197.82Z"/>
<path d="M244.7 216.51 249.74 217.22 257.5 214.26 252.46 213.55Z"/>
<path d="M531.98 202.08 537.01 204.65 544.77 204.54 539.73 201.97Z"/>
<path d="M278.04 209.48 283.08 210.4 290.84 207.77 285.8 206.85Z"/>
<path d="M565.32 207.33 570.35 210.11 578.11 210.33 573.07 207.55Z"/>
<path d="M311.38 203.87 316.42 205.01 324.18 202.71 319.14 201.57Z"/>
<path d="M598.66 214 603.69 217.01 611.45 217.56 606.41 214.55Z"/>
<path d="M344.73 199.69 349.76 201.05 357.52 199.08 352.48 197.72Z"/>
<path d="M632 222.1 637.03 225.33 644.79 226.21 639.75 222.98Z"/>
<path d="M378.07 196.93 383.1 198.51 390.86 196.87 385.82 195.29Z"/>
<path d="M124.14 254.45 129.17 254.39 136.93 250.22 131.89 250.29Z"/>
<path d="M411.41 195.6 416.44 197.4 424.2 196.09 419.16 194.29Z"/>
<path d="M157.48 242.27 162.51 242.42 170.27 238.58 165.23 238.43Z"/>
<path d="M444.75 195.7 449.78 197.72 457.54 196.73 452.5 194.71Z"/>
<path d="M190.82 231.5 195.85 231.88 203.61 228.37 198.57 228Z"/>
<path d="M478.09 197.22 483.12 199.46 490.88 198.8 485.84 196.56Z"/>
<path d="M224.16 222.17 229.19 222.76 236.95 219.58 231.91 218.99Z"/>
<path d="M511.43 200.17 516.46 202.62 524.22 202.3 519.18 199.84Z"/>
<path d="M257.5 214.26 262.53 215.07 270.29 212.22 265.25 211.41Z"/>
<path d="M544.77 204.54 549.81 207.21 557.56 207.22 552.52 204.54Z"/>
<path d="M290.84 207.77 295.87 208.8 303.63 206.28 298.59 205.25Z"/>
<path d="M578.11 210.33 583.15 213.23 590.9 213.56 585.86 210.67Z"/>
<path d="M324.18 202.71 329.22 203.96 336.97 201.77 331.93 200.52Z"/>
<path d="M611.45 217.56 616.49 220.67 624.24 221.33 619.2 218.22Z"/>
<path d="M357.52 199.08 362.56 200.55 370.31 198.69 365.27 197.22Z"/>
<path d="M644.79 226.21 649.83 229.54 657.58 230.53 652.54 227.19Z"/>
<path d="M390.86 196.87 395.9 198.56 403.65 197.03 398.61 195.34Z"/>
<path d="M136.93 250.22 141.97 250.27 149.72 246.21 144.68 246.17Z"/>
<path d="M424.2 196.09 429.24 198 436.99 196.79 431.95 194.88Z"/>
<path d="M170.27 238.58 175.31 238.85 183.06 235.12 178.02 234.86Z"/>
<path d="M457.54 196.73 462.58 198.86 470.33 197.99 465.29 195.86Z"/>
<path d="M203.61 228.37 208.65 228.85 216.4 225.46 211.36 224.97Z"/>
<path d="M490.88 198.8 495.92 201.15 503.67 200.6 498.63 198.25Z"/>
<path d="M236.95 219.58 241.99 220.29 249.74 217.22 244.7 216.51Z"/>
<path d="M524.22 202.3 529.26 204.86 537.01 204.65 531.98 202.08Z"/>
<path d="M270.29 212.22 275.33 213.14 283.08 210.4 278.04 209.48Z"/>
<path d="M557.56 207.22 562.6 210 570.35 210.11 565.32 207.33Z"/>
<path d="M303.63 206.28 308.67 207.43 316.42 205.01 311.38 203.87Z"/>
<path d="M590.9 213.56 595.94 216.57 603.69 217.01 598.66 214Z"/>
<path d="M336.97 201.77 342.01 203.13 349.76 201.05 344.73 199.69Z"/>
<path d="M624.24 221.33 629.28 224.56 637.03 225.33 632 222.1Z"/>
<path d="M370.31 198.69 375.35 200.27 383.1 198.51 378.07 196.93Z"/>
<path d="M657.58 230.53 662.62 233.97 670.37 235.07 665.34 231.63Z"/>
<path d="M403.65 197.03 408.69 198.83 416.44 197.4 411.41 195.6Z"/>
<path d="M149.72 246.21 154.76 246.37 162.51 242.42 157.48 242.27Z"/>
<path d="M436.99 196.79 442.03 198.81 449.78 197.72 444.75 195.7Z"/>
<path d="M183.06 235.12 188.1 235.5 195.85 231.88 190.82 231.5Z"/>
<path d="M470.33 197.99 475.37 200.22 483.12 199.46 478.09 197.22Z"/>
<path d="M216.4 225.46 221.44 226.05 229.19 222.76 224.16 222.17Z"/>
<path d="M503.67 200.6 508.71 203.06 516.46 202.62 511.43 200.17Z"/>
<path d="M249.74 217.22 254.78 218.03 262.53 215.07 257.5 214.26Z"/>
<path d="M537.01 204.65 542.05 207.32 549.81 207.21 544.77 204.54Z"/>
<path d="M283.08 210.4 288.12 211.43 295.87 208.8 290.84 207.77Z"/>
<path d="M570.35 210.11 575.39 213.01 583.15 213.23 578.11 210.33Z"/>
<path d="M316.42 205.01 321.46 206.27 329.22 203.96 324.18 202.71Z"/>
<path d="M603.69 217.01 608.73 220.12 616.49 220.67 611.45 217.56Z"/>
<path d="M349.76 201.05 354.8 202.52 362.56 200.55 357.52 199.08Z"/>
<path d="M637.03 225.33 642.07 228.66 649.83 229.54 644.79 226.21Z"/>
<path d="M383.1 198.51 388.14 200.2 395.9 198.56 390.86 196.87Z"/>
<path d="M129.17 254.39 134.21 254.43 141.97 250.27 136.93 250.22Z"/>
<path d="M416.44 197.4 421.48 199.31 429.24 198 424.2 196.09Z"/>
<path d="M162.51 242.42 167.55 242.69 175.31 238.85 170.27 238.58Z"/>
<path d="M449.78 197.72 454.82 199.85 462.58 198.86 457.54 196.73Z"/>
<path d="M195.85 231.88 200.89 232.36 208.65 228.85 203.61 228.37Z"/>
<path d="M483.12 199.46 488.16 201.81 495.92 201.15 490.88 198.8Z"/>
<path d="M229.19 222.76 234.23 223.46 241.99 220.29 236.95 219.58Z"/>
<path d="M516.46 202.62 521.5 205.19 529.26 204.86 524.22 202.3Z"/>
<path d="M262.53 215.07 267.57 215.99 275.33 213.14 270.29 212.22Z"/>
<path d="M549.81 207.21 554.84 210 562.6 210 557.56 207.22Z"/>
<path d="M295.87 208.8 300.91 209.95 308.67 207.43 303.63 206.28Z"/>
<path d="M583.15 213.23 588.18 216.24 595.94 216.57 590.9 213.56Z"/>
<path d="M329.22 203.96 334.25 205.33 342.01 203.13 336.97 201.77Z"/>
<path d="M616.49 220.67 621.52 223.9 629.28 224.56 624.24 221.33Z"/>
<path d="M362.56 200.55 367.59 202.13 375.35 200.27 370.31 198.69Z"/>
<path d="M649.83 229.54 654.86 232.99 662.62 233.97 657.58 230.53Z"/>
<path d="M395.9 198.56 400.93 200.36 408.69 198.83 403.65 197.03Z"/>
<path d="M141.97 250.27 147 250.42 154.76 246.37 149.72 246.21Z"/>
<path d="M429.24 198 434.27 200.02 442.03 198.81 436.99 196.79Z"/>
<path d="M175.31 238.85 180.34 239.22 188.1 235.5 183.06 235.12Z"/>
<path d="M462.58 198.86 467.61 201.1 475.37 200.22 470.33 197.99Z"/>
<path d="M208.65 228.85 213.68 229.45 221.44 226.05 216.4 225.46Z"/>
<path d="M495.92 201.15 500.95 203.61 508.71 203.06 503.67 200.6Z"/>
<path d="M241.99 220.29 247.02 221.1 254.78 218.03 249.74 217.22Z"/>
<path d="M529.26 204.86 534.3 207.54 542.05 207.32 537.01 204.65Z"/>
<path d="M275.33 213.14 280.36 214.17 288.12 211.43 283.08 210.4Z"/>
<path d="M562.6 210 567.64 212.9 575.39 213.01 570.35 210.11Z"/>
<path d="M308.67 207.43 313.7 208.68 321.46 206.27 316.42 205.01Z"/>
<path d="M595.94 216.57 600.98 219.68 608.73 220.12 603.69 217.01Z"/>
<path d="M342.01 203.13 347.05 204.6 354.8 202.52 349.76 201.05Z"/>
<path d="M629.28 224.56 634.32 227.89 642.07 228.66 637.03 225.33Z"/>
<path d="M375.35 200.27 380.39 201.96 388.14 200.2 383.1 198.51Z"/>
<path d="M662.62 233.97 667.66 237.53 675.41 238.63 670.37 235.07Z"/>
<path d="M408.69 198.83 413.73 200.74 421.48 199.31 416.44 197.4Z"/>
<path d="M154.76 246.37 159.8 246.63 167.55 242.69 162.51 242.42Z"/>
<path d="M442.03 198.81 447.07 200.94 454.82 199.85 449.78 197.72Z"/>
<path d="M188.1 235.5 193.14 235.98 200.89 232.36 195.85 231.88Z"/>
<path d="M475.37 200.22 480.41 202.57 488.16 201.81 483.12 199.46Z"/>
<path d="M221.44 226.05 226.48 226.75 234.23 223.46 229.19 222.76Z"/>
<path d="M508.71 203.06 513.75 205.63 521.5 205.19 516.46 202.62Z"/>
<path d="M254.78 218.03 259.82 218.95 267.57 215.99 262.53 215.07Z"/>
<path d="M542.05 207.32 547.09 210.11 554.84 210 549.81 207.21Z"/>
<path d="M288.12 211.43 293.16 212.58 300.91 209.95 295.87 208.8Z"/>
<path d="M575.39 213.01 580.43 216.02 588.18 216.24 583.15 213.23Z"/>
<path d="M321.46 206.27 326.5 207.63 334.25 205.33 329.22 203.96Z"/>
<path d="M608.73 220.12 613.77 223.35 621.52 223.9 616.49 220.67Z"/>
<path d="M354.8 202.52 359.84 204.1 367.59 202.13 362.56 200.55Z"/>
<path d="M642.07 228.66 647.11 232.11 654.86 232.99 649.83 229.54Z"/>
<path d="M388.14 200.2 393.18 202 400.93 200.36 395.9 198.56Z"/>
<path d="M134.21 254.43 139.25 254.59 147 250.42 141.97 250.27Z"/>
<path d="M421.48 199.31 426.52 201.33 434.27 200.02 429.24 198Z"/>
<path d="M167.55 242.69 172.59 243.06 180.34 239.22 175.31 238.85Z"/>
<path d="M454.82 199.85 459.86 202.08 467.61 201.1 462.58 198.86Z"/>
<path d="M200.89 232.36 205.93 232.96 213.68 229.45 208.65 228.85Z"/>
<path d="M488.16 201.81 493.2 204.26 500.95 203.61 495.92 201.15Z"/>
<path d="M234.23 223.46 239.27 224.28 247.02 221.1 241.99 220.29Z"/>
<path d="M521.5 205.19 526.54 207.87 534.3 207.54 529.26 204.86Z"/>
<path d="M267.57 215.99 272.61 217.02 280.36 214.17 275.33 213.14Z"/>
<path d="M554.84 210 559.88 212.9 567.64 212.9 562.6 210Z"/>
<path d="M300.91 209.95 305.95 211.2 313.7 208.68 308.67 207.43Z"/>
<path d="M588.18 216.24 593.22 219.35 600.98 219.68 595.94 216.57Z"/>
<path d="M334.25 205.33 339.29 206.8 347.05 204.6 342.01 203.13Z"/>
<path d="M621.52 223.9 626.56 227.23 634.32 227.89 629.28 224.56Z"/>
<path d="M367.59 202.13 372.63 203.82 380.39 201.96 375.35 200.27Z"/>
<path d="M654.86 232.99 659.9 236.54 667.66 237.53 662.62 233.97Z"/>
<path d="M400.93 200.36 405.97 202.27 413.73 200.74 408.69 198.83Z"/>
<path d="M147 250.42 152.04 250.69 159.8 246.63 154.76 246.37Z"/>
<path d="M434.27 200.02 439.31 202.15 447.07 200.94 442.03 198.81Z"/>
<path d="M180.34 239.22 185.38 239.71 193.14 235.98 188.1 235.5Z"/>
<path d="M467.61 201.1 472.65 203.45 480.41 202.57 475.37 200.22Z"/>
<path d="M213.68 229.45 218.72 230.15 226.48 226.75 221.44 226.05Z"/>
<path d="M500.95 203.61 505.99 206.17 513.75 205.63 508.71 203.06Z"/>
<path d="M247.02 221.1 252.06 222.02 259.82 218.95 254.78 218.03Z"/>
<path d="M534.3 207.54 539.33 210.33 547.09 210.11 542.05 207.32Z"/>
<path d="M280.36 214.17 285.4 215.32 293.16 212.58 288.12 211.43Z"/>
<path d="M567.64 212.9 572.67 215.9 580.43 216.02 575.39 213.01Z"/>
<path d="M313.7 208.68 318.74 210.04 326.5 207.63 321.46 206.27Z"/>
<path d="M600.98 219.68 606.01 222.91 613.77 223.35 608.73 220.12Z"/>
<path d="M347.05 204.6 352.08 206.18 359.84 204.1 354.8 202.52Z"/>
<path d="M634.32 227.89 639.35 231.34 647.11 232.11 642.07 228.66Z"/>
<path d="M380.39 201.96 385.42 203.76 393.18 202 388.14 200.2Z"/>
<path d="M667.66 237.53 672.69 241.19 680.45 242.29 675.41 238.63Z"/>
<path d="M413.73 200.74 418.76 202.76 426.52 201.33 421.48 199.31Z"/>
<path d="M159.8 246.63 164.83 247.01 172.59 243.06 167.55 242.69Z"/>
<path d="M447.07 200.94 452.1 203.18 459.86 202.08 454.82 199.85Z"/>
<path d="M193.14 235.98 198.17 236.57 205.93 232.96 200.89 232.36Z"/>
<path d="M480.41 202.57 485.44 205.03 493.2 204.26 488.16 201.81Z"/>
<path d="M226.48 226.75 231.51 227.57 239.27 224.28 234.23 223.46Z"/>
<path d="M513.75 205.63 518.78 208.3 526.54 207.87 521.5 205.19Z"/>
<path d="M259.82 218.95 264.85 219.98 272.61 217.02 267.57 215.99Z"/>
<path d="M547.09 210.11 552.13 213 559.88 212.9 554.84 210Z"/>
<path d="M293.16 212.58 298.19 213.83 305.95 211.2 300.91 209.95Z"/>
<path d="M580.43 216.02 585.47 219.13 593.22 219.35 588.18 216.24Z"/>
<path d="M326.5 207.63 331.54 209.1 339.29 206.8 334.25 205.33Z"/>
<path d="M613.77 223.35 618.81 226.68 626.56 227.23 621.52 223.9Z"/>
<path d="M359.84 204.1 364.88 205.79 372.63 203.82 367.59 202.13Z"/>
<path d="M647.11 232.11 652.15 235.66 659.9 236.54 654.86 232.99Z"/>
<path d="M393.18 202 398.22 203.91 405.97 202.27 400.93 200.36Z"/>
<path d="M139.25 254.59 144.29 254.85 152.04 250.69 147 250.42Z"/>
<path d="M426.52 201.33 431.56 203.46 439.31 202.15 434.27 200.02Z"/>
<path d="M172.59 243.06 177.63 243.54 185.38 239.71 180.34 239.22Z"/>
<path d="M459.86 202.08 464.9 204.43 472.65 203.45 467.61 201.1Z"/>
<path d="M205.93 232.96 210.97 233.66 218.72 230.15 213.68 229.45Z"/>
<path d="M493.2 204.26 498.24 206.83 505.99 206.17 500.95 203.61Z"/>
<path d="M239.27 224.28 244.31 225.2 252.06 222.02 247.02 221.1Z"/>
<path d="M526.54 207.87 531.58 210.65 539.33 210.33 534.3 207.54Z"/>
<path d="M272.61 217.02 277.65 218.17 285.4 215.32 280.36 214.17Z"/>
<path d="M559.88 212.9 564.92 215.9 572.67 215.9 567.64 212.9Z"/>
<path d="M305.95 211.2 310.99 212.56 318.74 210.04 313.7 208.68Z"/>
<path d="M593.22 219.35 598.26 222.58 606.01 222.91 600.98 219.68Z"/>
<path d="M339.29 206.8 344.33 208.38 352.08 206.18 347.05 204.6Z"/>
<path d="M626.56 227.23 631.6 230.68 639.35 231.34 634.32 227.89Z"/>
<path d="M372.63 203.82 377.67 205.62 385.42 203.76 380.39 201.96Z"/>
<path d="M659.9 236.54 664.94 240.2 672.69 241.19 667.66 237.53Z"/>
<path d="M405.97 202.27 411.01 204.29 418.76 202.76 413.73 200.74Z"/>
<path d="M152.04 250.69 157.08 251.06 164.83 247.01 159.8 246.63Z"/>
<path d="M439.31 202.15 444.35 204.38 452.1 203.18 447.07 200.94Z"/>
<path d="M185.38 239.71 190.42 240.3 198.17 236.57 193.14 235.98Z"/>
<path d="M472.65 203.45 477.69 205.9 485.44 205.03 480.41 202.57Z"/>
<path d="M218.72 230.15 223.76 230.96 231.51 227.57 226.48 226.75Z"/>
<path d="M505.99 206.17 511.03 208.85 518.78 208.3 513.75 205.63Z"/>
<path d="M252.06 222.02 257.1 223.05 264.85 219.98 259.82 218.95Z"/>
<path d="M539.33 210.33 544.37 213.22 552.13 213 547.09 210.11Z"/>
<path d="M285.4 215.32 290.44 216.57 298.19 213.83 293.16 212.58Z"/>
<path d="M572.67 215.9 577.71 219.02 585.47 219.13 580.43 216.02Z"/>
<path d="M318.74 210.04 323.78 211.51 331.54 209.1 326.5 207.63Z"/>
<path d="M606.01 222.91 611.05 226.24 618.81 226.68 613.77 223.35Z"/>
<path d="M352.08 206.18 357.12 207.87 364.88 205.79 359.84 204.1Z"/>
<path d="M639.35 231.34 644.39 234.89 652.15 235.66 647.11 232.11Z"/>
<path d="M385.42 203.76 390.46 205.67 398.22 203.91 393.18 202Z"/>
<path d="M672.69 241.19 677.73 244.97 685.49 246.06 680.45 242.29Z"/>
<path d="M418.76 202.76 423.8 204.88 431.56 203.46 426.52 201.33Z"/>
<path d="M164.83 247.01 169.87 247.49 177.63 243.54 172.59 243.06Z"/>
<path d="M452.1 203.18 457.14 205.53 464.9 204.43 459.86 202.08Z"/>
<path d="M198.17 236.57 203.21 237.28 210.97 233.66 205.93 232.96Z"/>
<path d="M485.44 205.03 490.48 207.6 498.24 206.83 493.2 204.26Z"/>
<path d="M231.51 227.57 236.55 228.49 244.31 225.2 239.27 224.28Z"/>
<path d="M518.78 208.3 523.82 211.09 531.58 210.65 526.54 207.87Z"/>
<path d="M264.85 219.98 269.89 221.13 277.65 218.17 272.61 217.02Z"/>
<path d="M552.13 213 557.16 216.01 564.92 215.9 559.88 212.9Z"/>
<path d="M298.19 213.83 303.23 215.19 310.99 212.56 305.95 211.2Z"/>
<path d="M585.47 219.13 590.5 222.36 598.26 222.58 593.22 219.35Z"/>
<path d="M331.54 209.1 336.57 210.68 344.33 208.38 339.29 206.8Z"/>
<path d="M618.81 226.68 623.84 230.13 631.6 230.68 626.56 227.23Z"/>
<path d="M364.88 205.79 369.91 207.59 377.67 205.62 372.63 203.82Z"/>
<path d="M652.15 235.66 657.18 239.33 664.94 240.2 659.9 236.54Z"/>
<path d="M398.22 203.91 403.25 205.93 411.01 204.29 405.97 202.27Z"/>
<path d="M144.29 254.85 149.32 255.23 157.08 251.06 152.04 250.69Z"/>
<path d="M431.56 203.46 436.59 205.7 444.35 204.38 439.31 202.15Z"/>
<path d="M177.63 243.54 182.66 244.14 190.42 240.3 185.38 239.71Z"/>
<path d="M464.9 204.43 469.93 206.89 477.69 205.9 472.65 203.45Z"/>
<path d="M210.97 233.66 216 234.47 223.76 230.96 218.72 230.15Z"/>
<path d="M498.24 206.83 503.27 209.51 511.03 208.85 505.99 206.17Z"/>
<path d="M244.31 225.2 249.34 226.23 257.1 223.05 252.06 222.02Z"/>
<path d="M531.58 210.65 536.62 213.55 544.37 213.22 539.33 210.33Z"/>
<path d="M277.65 218.17 282.68 219.42 290.44 216.57 285.4 215.32Z"/>
<path d="M564.92 215.9 569.96 219.02 577.71 219.02 572.67 215.9Z"/>
<path d="M310.99 212.56 316.02 214.03 323.78 211.51 318.74 210.04Z"/>
<path d="M598.26 222.58 603.3 225.91 611.05 226.24 606.01 222.91Z"/>
<path d="M344.33 208.38 349.37 210.07 357.12 207.87 352.08 206.18Z"/>
<path d="M631.6 230.68 636.64 234.23 644.39 234.89 639.35 231.34Z"/>
<path d="M377.67 205.62 382.71 207.53 390.46 205.67 385.42 203.76Z"/>
<path d="M664.94 240.2 669.98 243.98 677.73 244.97 672.69 241.19Z"/>
<path d="M411.01 204.29 416.05 206.42 423.8 204.88 418.76 202.76Z"/>
<path d="M157.08 251.06 162.12 251.54 169.87 247.49 164.83 247.01Z"/>
<path d="M444.35 204.38 449.39 206.73 457.14 205.53 452.1 203.18Z"/>
<path d="M190.42 240.3 195.46 241 203.21 237.28 198.17 236.57Z"/>
<path d="M477.69 205.9 482.73 208.47 490.48 207.6 485.44 205.03Z"/>
<path d="M223.76 230.96 228.8 231.89 236.55 228.49 231.51 227.57Z"/>
<path d="M511.03 208.85 516.07 211.64 523.82 211.09 518.78 208.3Z"/>
<path d="M257.1 223.05 262.14 224.19 269.89 221.13 264.85 219.98Z"/>
<path d="M544.37 213.22 549.41 216.23 557.16 216.01 552.13 213Z"/>
<path d="M290.44 216.57 295.48 217.93 303.23 215.19 298.19 213.83Z"/>
<path d="M577.71 219.02 582.75 222.25 590.5 222.36 585.47 219.13Z"/>
<path d="M323.78 211.51 328.82 213.09 336.57 210.68 331.54 209.1Z"/>
<path d="M611.05 226.24 616.09 229.69 623.84 230.13 618.81 226.68Z"/>
<path d="M357.12 207.87 362.16 209.67 369.91 207.59 364.88 205.79Z"/>
<path d="M644.39 234.89 649.43 238.56 657.18 239.33 652.15 235.66Z"/>
<path d="M390.46 205.67 395.5 207.69 403.25 205.93 398.22 203.91Z"/>
<path d="M677.73 244.97 682.77 248.85 690.52 249.95 685.49 246.06Z"/>
<path d="M423.8 204.88 428.84 207.12 436.59 205.7 431.56 203.46Z"/>
<path d="M169.87 247.49 174.91 248.08 182.66 244.14 177.63 243.54Z"/>
<path d="M457.14 205.53 462.18 207.98 469.93 206.89 464.9 204.43Z"/>
<path d="M203.21 237.28 208.25 238.09 216 234.47 210.97 233.66Z"/>
<path d="M490.48 207.6 495.52 210.27 503.27 209.51 498.24 206.83Z"/>
<path d="M236.55 228.49 241.59 229.52 249.34 226.23 244.31 225.2Z"/>
<path d="M523.82 211.09 528.86 213.99 536.62 213.55 531.58 210.65Z"/>
<path d="M269.89 221.13 274.93 222.38 282.68 219.42 277.65 218.17Z"/>
<path d="M557.16 216.01 562.2 219.13 569.96 219.02 564.92 215.9Z"/>
<path d="M303.23 215.19 308.27 216.66 316.02 214.03 310.99 212.56Z"/>
<path d="M590.5 222.36 595.54 225.69 603.3 225.91 598.26 222.58Z"/>
<path d="M336.57 210.68 341.61 212.37 349.37 210.07 344.33 208.38Z"/>
<path d="M623.84 230.13 628.88 233.68 636.64 234.23 631.6 230.68Z"/>
<path d="M369.91 207.59 374.95 209.5 382.71 207.53 377.67 205.62Z"/>
<path d="M657.18 239.33 662.22 243.1 669.98 243.98 664.94 240.2Z"/>
<path d="M403.25 205.93 408.29 208.06 416.05 206.42 411.01 204.29Z"/>
<path d="M149.32 255.23 154.36 255.71 162.12 251.54 157.08 251.06Z"/>
<path d="M436.59 205.7 441.63 208.05 449.39 206.73 444.35 204.38Z"/>
<path d="M182.66 244.14 187.7 244.84 195.46 241 190.42 240.3Z"/>
<path d="M469.93 206.89 474.97 209.46 482.73 208.47 477.69 205.9Z"/>
<path d="M216 234.47 221.04 235.39 228.8 231.89 223.76 230.96Z"/>
<path d="M503.27 209.51 508.31 212.29 516.07 211.64 511.03 208.85Z"/>
<path d="M249.34 226.23 254.38 227.37 262.14 224.19 257.1 223.05Z"/>
<path d="M536.62 213.55 541.65 216.56 549.41 216.23 544.37 213.22Z"/>
<path d="M282.68 219.42 287.72 220.78 295.48 217.93 290.44 216.57Z"/>
<path d="M569.96 219.02 574.99 222.24 582.75 222.25 577.71 219.02Z"/>
<path d="M316.02 214.03 321.06 215.61 328.82 213.09 323.78 211.51Z"/>
<path d="M603.3 225.91 608.33 229.36 616.09 229.69 611.05 226.24Z"/>
<path d="M349.37 210.07 354.4 211.87 362.16 209.67 357.12 207.87Z"/>
<path d="M636.64 234.23 641.67 237.9 649.43 238.56 644.39 234.89Z"/>
<path d="M382.71 207.53 387.74 209.55 395.5 207.69 390.46 205.67Z"/>
<path d="M669.98 243.98 675.01 247.86 682.77 248.85 677.73 244.97Z"/>
<path d="M416.05 206.42 421.08 208.66 428.84 207.12 423.8 204.88Z"/>
<path d="M162.12 251.54 167.15 252.14 174.91 248.08 169.87 247.49Z"/>
<path d="M449.39 206.73 454.42 209.19 462.18 207.98 457.14 205.53Z"/>
<path d="M195.46 241 200.49 241.82 208.25 238.09 203.21 237.28Z"/>
<path d="M482.73 208.47 487.76 211.15 495.52 210.27 490.48 207.6Z"/>
<path d="M228.8 231.89 233.83 232.92 241.59 229.52 236.55 228.49Z"/>
<path d="M516.07 211.64 521.1 214.53 528.86 213.99 523.82 211.09Z"/>
<path d="M262.14 224.19 267.17 225.45 274.93 222.38 269.89 221.13Z"/>
<path d="M549.41 216.23 554.45 219.34 562.2 219.13 557.16 216.01Z"/>
<path d="M295.48 217.93 300.51 219.4 308.27 216.66 303.23 215.19Z"/>
<path d="M582.75 222.25 587.79 225.58 595.54 225.69 590.5 222.36Z"/>
<path d="M328.82 213.09 333.86 214.78 341.61 212.37 336.57 210.68Z"/>
<path d="M616.09 229.69 621.13 233.24 628.88 233.68 623.84 230.13Z"/>
<path d="M362.16 209.67 367.2 211.58 374.95 209.5 369.91 207.59Z"/>
<path d="M649.43 238.56 654.47 242.33 662.22 243.1 657.18 239.33Z"/>
<path d="M395.5 207.69 400.54 209.81 408.29 208.06 403.25 205.93Z"/>
<path d="M682.77 248.85 687.81 252.84 695.56 253.94 690.52 249.95Z"/>
<path d="M428.84 207.12 433.88 209.47 441.63 208.05 436.59 205.7Z"/>
<path d="M174.91 248.08 179.95 248.79 187.7 244.84 182.66 244.14Z"/>
<path d="M462.18 207.98 467.22 210.55 474.97 209.46 469.93 206.89Z"/>
<path d="M208.25 238.09 213.29 239.01 221.04 235.39 216 234.47Z"/>
<path d="M495.52 210.27 500.56 213.06 508.31 212.29 503.27 209.51Z"/>
<path d="M241.59 229.52 246.63 230.66 254.38 227.37 249.34 226.23Z"/>
<path d="M528.86 213.99 533.9 216.99 541.65 216.56 536.62 213.55Z"/>
<path d="M274.93 222.38 279.97 223.74 287.72 220.78 282.68 219.42Z"/>
<path d="M562.2 219.13 567.24 222.35 574.99 222.24 569.96 219.02Z"/>
<path d="M308.27 216.66 313.31 218.24 321.06 215.61 316.02 214.03Z"/>
<path d="M595.54 225.69 600.58 229.14 608.33 229.36 603.3 225.91Z"/>
<path d="M341.61 212.37 346.65 214.17 354.4 211.87 349.37 210.07Z"/>
<path d="M628.88 233.68 633.92 237.35 641.67 237.9 636.64 234.23Z"/>
<path d="M374.95 209.5 379.99 211.52 387.74 209.55 382.71 207.53Z"/>
<path d="M662.22 243.1 667.26 246.98 675.01 247.86 669.98 243.98Z"/>
<path d="M408.29 208.06 413.33 210.3 421.08 208.66 416.05 206.42Z"/>
<path d="M154.36 255.71 159.4 256.3 167.15 252.14 162.12 251.54Z"/>
<path d="M441.63 208.05 446.67 210.5 454.42 209.19 449.39 206.73Z"/>
<path d="M187.7 244.84 192.74 245.65 200.49 241.82 195.46 241Z"/>
<path d="M474.97 209.46 480.01 212.13 487.76 211.15 482.73 208.47Z"/>
<path d="M221.04 235.39 226.08 236.43 233.83 232.92 228.8 231.89Z"/>
<path d="M508.31 212.29 513.35 215.19 521.1 214.53 516.07 211.64Z"/>
<path d="M254.38 227.37 259.42 228.62 267.17 225.45 262.14 224.19Z"/>
<path d="M541.65 216.56 546.69 219.67 554.45 219.34 549.41 216.23Z"/>
<path d="M287.72 220.78 292.76 222.25 300.51 219.4 295.48 217.93Z"/>
<path d="M574.99 222.24 580.03 225.58 587.79 225.58 582.75 222.25Z"/>
<path d="M321.06 215.61 326.1 217.3 333.86 214.78 328.82 213.09Z"/>
<path d="M608.33 229.36 613.37 232.91 621.13 233.24 616.09 229.69Z"/>
<path d="M354.4 211.87 359.44 213.78 367.2 211.58 362.16 209.67Z"/>
<path d="M641.67 237.9 646.71 241.67 654.47 242.33 649.43 238.56Z"/>
<path d="M387.74 209.55 392.78 211.68 400.54 209.81 395.5 207.69Z"/>
<path d="M675.01 247.86 680.05 251.85 687.81 252.84 682.77 248.85Z"/>
<path d="M421.08 208.66 426.12 211 433.88 209.47 428.84 207.12Z"/>
<path d="M167.15 252.14 172.19 252.84 179.95 248.79 174.91 248.08Z"/>
<path d="M454.42 209.19 459.46 211.76 467.22 210.55 462.18 207.98Z"/>
<path d="M200.49 241.82 205.53 242.74 213.29 239.01 208.25 238.09Z"/>
<path d="M487.76 211.15 492.8 213.94 500.56 213.06 495.52 210.27Z"/>
<path d="M233.83 232.92 238.87 234.06 246.63 230.66 241.59 229.52Z"/>
<path d="M521.1 214.53 526.14 217.54 533.9 216.99 528.86 213.99Z"/>
<path d="M267.17 225.45 272.21 226.81 279.97 223.74 274.93 222.38Z"/>
<path d="M554.45 219.34 559.48 222.57 567.24 222.35 562.2 219.13Z"/>
<path d="M300.51 219.4 305.55 220.98 313.31 218.24 308.27 216.66Z"/>
<path d="M587.79 225.58 592.82 229.02 600.58 229.14 595.54 225.69Z"/>
<path d="M333.86 214.78 338.89 216.58 346.65 214.17 341.61 212.37Z"/>
<path d="M621.13 233.24 626.16 236.91 633.92 237.35 628.88 233.68Z"/>
<path d="M367.2 211.58 372.23 213.6 379.99 211.52 374.95 209.5Z"/>
<path d="M654.47 242.33 659.5 246.21 667.26 246.98 662.22 243.1Z"/>
<path d="M400.54 209.81 405.57 212.05 413.33 210.3 408.29 208.06Z"/>
<path d="M687.81 252.84 692.84 256.94 700.6 258.04 695.56 253.94Z"/>
<path d="M433.88 209.47 438.91 211.93 446.67 210.5 441.63 208.05Z"/>
<path d="M179.95 248.79 184.98 249.6 192.74 245.65 187.7 244.84Z"/>
<path d="M467.22 210.55 472.25 213.23 480.01 212.13 474.97 209.46Z"/>
<path d="M213.29 239.01 218.32 240.04 226.08 236.43 221.04 235.39Z"/>
<path d="M500.56 213.06 505.59 215.96 513.35 215.19 508.31 212.29Z"/>
<path d="M246.63 230.66 251.66 231.91 259.42 228.62 254.38 227.37Z"/>
<path d="M533.9 216.99 538.94 220.11 546.69 219.67 541.65 216.56Z"/>
<path d="M279.97 223.74 285 225.21 292.76 222.25 287.72 220.78Z"/>
<path d="M567.24 222.35 572.28 225.69 580.03 225.58 574.99 222.24Z"/>
<path d="M313.31 218.24 318.34 219.93 326.1 217.3 321.06 215.61Z"/>
<path d="M600.58 229.14 605.62 232.69 613.37 232.91 608.33 229.36Z"/>
<path d="M346.65 214.17 351.69 216.08 359.44 213.78 354.4 211.87Z"/>
<path d="M633.92 237.35 638.96 241.12 646.71 241.67 641.67 237.9Z"/>
<path d="M379.99 211.52 385.03 213.65 392.78 211.68 387.74 209.55Z"/>
<path d="M667.26 246.98 672.3 250.97 680.05 251.85 675.01 247.86Z"/>
<path d="M413.33 210.3 418.37 212.65 426.12 211 421.08 208.66Z"/>
<path d="M159.4 256.3 164.44 257.01 172.19 252.84 167.15 252.14Z"/>
<path d="M446.67 210.5 451.71 213.07 459.46 211.76 454.42 209.19Z"/>
<path d="M192.74 245.65 197.78 246.57 205.53 242.74 200.49 241.82Z"/>
<path d="M480.01 212.13 485.05 214.92 492.8 213.94 487.76 211.15Z"/>
<path d="M226.08 236.43 231.12 237.57 238.87 234.06 233.83 232.92Z"/>
<path d="M513.35 215.19 518.39 218.2 526.14 217.54 521.1 214.53Z"/>
<path d="M259.42 228.62 264.46 229.99 272.21 226.81 267.17 225.45Z"/>
<path d="M546.69 219.67 551.73 222.9 559.48 222.57 554.45 219.34Z"/>
<path d="M292.76 222.25 297.8 223.83 305.55 220.98 300.51 219.4Z"/>
<path d="M580.03 225.58 585.07 229.02 592.82 229.02 587.79 225.58Z"/>
<path d="M326.1 217.3 331.14 219.1 338.89 216.58 333.86 214.78Z"/>
<path d="M613.37 232.91 618.41 236.58 626.16 236.91 621.13 233.24Z"/>
<path d="M359.44 213.78 364.48 215.79 372.23 213.6 367.2 211.58Z"/>
<path d="M646.71 241.67 651.75 245.55 659.5 246.21 654.47 242.33Z"/>
<path d="M392.78 211.68 397.82 213.92 405.57 212.05 400.54 209.81Z"/>
<path d="M680.05 251.85 685.09 255.96 692.84 256.94 687.81 252.84Z"/>
<path d="M426.12 211 431.16 213.46 438.91 211.93 433.88 209.47Z"/>
<path d="M172.19 252.84 177.23 253.65 184.98 249.6 179.95 248.79Z"/>
<path d="M459.46 211.76 464.5 214.43 472.25 213.23 467.22 210.55Z"/>
<path d="M205.53 242.74 210.57 243.77 218.32 240.04 213.29 239.01Z"/>
<path d="M492.8 213.94 497.84 216.83 505.59 215.96 500.56 213.06Z"/>
<path d="M238.87 234.06 243.91 235.31 251.66 231.91 246.63 230.66Z"/>
<path d="M526.14 217.54 531.18 220.66 538.94 220.11 533.9 216.99Z"/>
<path d="M272.21 226.81 277.25 228.28 285 225.21 279.97 223.74Z"/>
<path d="M559.48 222.57 564.52 225.9 572.28 225.69 567.24 222.35Z"/>
<path d="M305.55 220.98 310.59 222.67 318.34 219.93 313.31 218.24Z"/>
<path d="M592.82 229.02 597.86 232.58 605.62 232.69 600.58 229.14Z"/>
<path d="M338.89 216.58 343.93 218.49 351.69 216.08 346.65 214.17Z"/>
<path d="M626.16 236.91 631.2 240.68 638.96 241.12 633.92 237.35Z"/>
<path d="M372.23 213.6 377.27 215.73 385.03 213.65 379.99 211.52Z"/>
<path d="M659.5 246.21 664.54 250.21 672.3 250.97 667.26 246.98Z"/>
<path d="M405.57 212.05 410.61 214.4 418.37 212.65 413.33 210.3Z"/>
<path d="M692.84 256.94 697.88 261.16 705.64 262.26 700.6 258.04Z"/>
<path d="M438.91 211.93 443.95 214.5 451.71 213.07 446.67 210.5Z"/>
<path d="M184.98 249.6 190.02 250.52 197.78 246.57 192.74 245.65Z"/>
<path d="M472.25 213.23 477.29 216.02 485.05 214.92 480.01 212.13Z"/>
<path d="M218.32 240.04 223.36 241.18 231.12 237.57 226.08 236.43Z"/>
<path d="M505.59 215.96 510.63 218.96 518.39 218.2 513.35 215.19Z"/>
<path d="M251.66 231.91 256.7 233.27 264.46 229.99 259.42 228.62Z"/>
<path d="M538.94 220.11 543.97 223.33 551.73 222.9 546.69 219.67Z"/>
<path d="M285 225.21 290.04 226.79 297.8 223.83 292.76 222.25Z"/>
<path d="M572.28 225.69 577.31 229.13 585.07 229.02 580.03 225.58Z"/>
<path d="M318.34 219.93 323.38 221.73 331.14 219.1 326.1 217.3Z"/>
<path d="M605.62 232.69 610.65 236.35 618.41 236.58 613.37 232.91Z"/>
<path d="M351.69 216.08 356.72 218.1 364.48 215.79 359.44 213.78Z"/>
<path d="M638.96 241.12 643.99 245 651.75 245.55 646.71 241.67Z"/>
<path d="M385.03 213.65 390.06 215.89 397.82 213.92 392.78 211.68Z"/>
<path d="M672.3 250.97 677.33 255.08 685.09 255.96 680.05 251.85Z"/>
<path d="M418.37 212.65 423.4 215.11 431.16 213.46 426.12 211Z"/>
<path d="M164.44 257.01 169.47 257.82 177.23 253.65 172.19 252.84Z"/>
<path d="M451.71 213.07 456.74 215.75 464.5 214.43 459.46 211.76Z"/>
<path d="M197.78 246.57 202.81 247.61 210.57 243.77 205.53 242.74Z"/>
<path d="M485.05 214.92 490.08 217.82 497.84 216.83 492.8 213.94Z"/>
<path d="M231.12 237.57 236.15 238.82 243.91 235.31 238.87 234.06Z"/>
<path d="M518.39 218.2 523.42 221.31 531.18 220.66 526.14 217.54Z"/>
<path d="M264.46 229.99 269.49 231.46 277.25 228.28 272.21 226.81Z"/>
<path d="M551.73 222.9 556.77 226.23 564.52 225.9 559.48 222.57Z"/>
<path d="M297.8 223.83 302.83 225.52 310.59 222.67 305.55 220.98Z"/>
<path d="M585.07 229.02 590.11 232.58 597.86 232.58 592.82 229.02Z"/>
<path d="M331.14 219.1 336.18 221.01 343.93 218.49 338.89 216.58Z"/>
<path d="M618.41 236.58 623.45 240.35 631.2 240.68 626.16 236.91Z"/>
<path d="M364.48 215.79 369.52 217.92 377.27 215.73 372.23 213.6Z"/>
<path d="M651.75 245.55 656.79 249.55 664.54 250.21 659.5 246.21Z"/>
<path d="M397.82 213.92 402.86 216.26 410.61 214.4 405.57 212.05Z"/>
<path d="M685.09 255.96 690.13 260.17 697.88 261.16 692.84 256.94Z"/>
<path d="M431.16 213.46 436.2 216.03 443.95 214.5 438.91 211.93Z"/>
<path d="M177.23 253.65 182.27 254.58 190.02 250.52 184.98 249.6Z"/>
<path d="M464.5 214.43 469.54 217.22 477.29 216.02 472.25 213.23Z"/>
<path d="M210.57 243.77 215.61 244.91 223.36 241.18 218.32 240.04Z"/>
<path d="M497.84 216.83 502.88 219.84 510.63 218.96 505.59 215.96Z"/>
<path d="M243.91 235.31 248.95 236.67 256.7 233.27 251.66 231.91Z"/>
<path d="M531.18 220.66 536.22 223.88 543.97 223.33 538.94 220.11Z"/>
<path d="M277.25 228.28 282.29 229.86 290.04 226.79 285 225.21Z"/>
<path d="M564.52 225.9 569.56 229.35 577.31 229.13 572.28 225.69Z"/>
<path d="M310.59 222.67 315.63 224.47 323.38 221.73 318.34 219.93Z"/>
<path d="M597.86 232.58 602.9 236.24 610.65 236.35 605.62 232.69Z"/>
<path d="M343.93 218.49 348.97 220.51 356.72 218.1 351.69 216.08Z"/>
<path d="M631.2 240.68 636.24 244.56 643.99 245 638.96 241.12Z"/>
<path d="M377.27 215.73 382.31 217.97 390.06 215.89 385.03 213.65Z"/>
<path d="M664.54 250.21 669.58 254.31 677.33 255.08 672.3 250.97Z"/>
<path d="M410.61 214.4 415.65 216.86 423.4 215.11 418.37 212.65Z"/>
<path d="M697.88 261.16 702.92 265.48 710.67 266.58 705.64 262.26Z"/>
<path d="M443.95 214.5 448.99 217.17 456.74 215.75 451.71 213.07Z"/>
<path d="M190.02 250.52 195.06 251.55 202.81 247.61 197.78 246.57Z"/>
<path d="M477.29 216.02 482.33 218.91 490.08 217.82 485.05 214.92Z"/>
<path d="M223.36 241.18 228.4 242.44 236.15 238.82 231.12 237.57Z"/>
<path d="M510.63 218.96 515.67 222.08 523.42 221.31 518.39 218.2Z"/>
<path d="M256.7 233.27 261.74 234.74 269.49 231.46 264.46 229.99Z"/>
<path d="M543.97 223.33 549.01 226.67 556.77 226.23 551.73 222.9Z"/>
<path d="M290.04 226.79 295.08 228.48 302.83 225.52 297.8 223.83Z"/>
<path d="M577.31 229.13 582.35 232.69 590.11 232.58 585.07 229.02Z"/>
<path d="M323.38 221.73 328.42 223.64 336.18 221.01 331.14 219.1Z"/>
<path d="M610.65 236.35 615.69 240.13 623.45 240.35 618.41 236.58Z"/>
<path d="M356.72 218.1 361.76 220.22 369.52 217.92 364.48 215.79Z"/>
<path d="M643.99 245 649.03 249 656.79 249.55 651.75 245.55Z"/>
<path d="M390.06 215.89 395.1 218.24 402.86 216.26 397.82 213.92Z"/>
<path d="M677.33 255.08 682.37 259.29 690.13 260.17 685.09 255.96Z"/>
<path d="M423.4 215.11 428.44 217.67 436.2 216.03 431.16 213.46Z"/>
<path d="M169.47 257.82 174.51 258.74 182.27 254.58 177.23 253.65Z"/>
<path d="M456.74 215.75 461.78 218.53 469.54 217.22 464.5 214.43Z"/>
<path d="M202.81 247.61 207.85 248.75 215.61 244.91 210.57 243.77Z"/>
<path d="M490.08 217.82 495.12 220.82 502.88 219.84 497.84 216.83Z"/>
<path d="M236.15 238.82 241.19 240.18 248.95 236.67 243.91 235.31Z"/>
<path d="M523.42 221.31 528.46 224.54 536.22 223.88 531.18 220.66Z"/>
<path d="M269.49 231.46 274.53 233.04 282.29 229.86 277.25 228.28Z"/>
<path d="M556.77 226.23 561.8 229.68 569.56 229.35 564.52 225.9Z"/>
<path d="M302.83 225.52 307.87 227.32 315.63 224.47 310.59 222.67Z"/>
<path d="M590.11 232.58 595.14 236.24 602.9 236.24 597.86 232.58Z"/>
<path d="M336.18 221.01 341.21 223.03 348.97 220.51 343.93 218.49Z"/>
<path d="M623.45 240.35 628.48 244.23 636.24 244.56 631.2 240.68Z"/>
<path d="M369.52 217.92 374.55 220.16 382.31 217.97 377.27 215.73Z"/>
<path d="M656.79 249.55 661.82 253.65 669.58 254.31 664.54 250.21Z"/>
<path d="M402.86 216.26 407.89 218.72 415.65 216.86 410.61 214.4Z"/>
<path d="M690.13 260.17 695.16 264.49 702.92 265.48 697.88 261.16Z"/>
<path d="M436.2 216.03 441.23 218.71 448.99 217.17 443.95 214.5Z"/>
<path d="M182.27 254.58 187.3 255.61 195.06 251.55 190.02 250.52Z"/>
<path d="M469.54 217.22 474.57 220.12 482.33 218.91 477.29 216.02Z"/>
<path d="M215.61 244.91 220.64 246.16 228.4 242.44 223.36 241.18Z"/>
<path d="M502.88 219.84 507.91 222.95 515.67 222.08 510.63 218.96Z"/>
<path d="M248.95 236.67 253.98 238.14 261.74 234.74 256.7 233.27Z"/>
<path d="M536.22 223.88 541.26 227.22 549.01 226.67 543.97 223.33Z"/>
<path d="M282.29 229.86 287.32 231.55 295.08 228.48 290.04 226.79Z"/>
<path d="M569.56 229.35 574.6 232.9 582.35 232.69 577.31 229.13Z"/>
<path d="M315.63 224.47 320.66 226.38 328.42 223.64 323.38 221.73Z"/>
<path d="M602.9 236.24 607.94 240.02 615.69 240.13 610.65 236.35Z"/>
<path d="M348.97 220.51 354.01 222.64 361.76 220.22 356.72 218.1Z"/>
<path d="M636.24 244.56 641.28 248.56 649.03 249 643.99 245Z"/>
<path d="M382.31 217.97 387.35 220.32 395.1 218.24 390.06 215.89Z"/>
<path d="M669.58 254.31 674.62 258.52 682.37 259.29 677.33 255.08Z"/>
<path d="M415.65 216.86 420.69 219.43 428.44 217.67 423.4 215.11Z"/>
<path d="M702.92 265.48 707.96 269.91 715.71 271.01 710.67 266.58Z"/>
<path d="M448.99 217.17 454.03 219.96 461.78 218.53 456.74 215.75Z"/>
<path d="M195.06 251.55 200.1 252.69 207.85 248.75 202.81 247.61Z"/>
<path d="M482.33 218.91 487.37 221.92 495.12 220.82 490.08 217.82Z"/>
<path d="M228.4 242.44 233.44 243.8 241.19 240.18 236.15 238.82Z"/>
<path d="M515.67 222.08 520.71 225.3 528.46 224.54 523.42 221.31Z"/>
<path d="M261.74 234.74 266.78 236.32 274.53 233.04 269.49 231.46Z"/>
<path d="M549.01 226.67 554.05 230.11 561.8 229.68 556.77 226.23Z"/>
<path d="M295.08 228.48 300.12 230.28 307.87 227.32 302.83 225.52Z"/>
<path d="M582.35 232.69 587.39 236.35 595.14 236.24 590.11 232.58Z"/>
<path d="M328.42 223.64 333.46 225.66 341.21 223.03 336.18 221.01Z"/>
<path d="M615.69 240.13 620.73 244.01 628.48 244.23 623.45 240.35Z"/>
<path d="M361.76 220.22 366.8 222.46 374.55 220.16 369.52 217.92Z"/>
<path d="M649.03 249 654.07 253.1 661.82 253.65 656.79 249.55Z"/>
<path d="M395.1 218.24 400.14 220.69 407.89 218.72 402.86 216.26Z"/>
<path d="M682.37 259.29 687.41 263.61 695.16 264.49 690.13 260.17Z"/>
<path d="M428.44 217.67 433.48 220.35 441.23 218.71 436.2 216.03Z"/>
<path d="M174.51 258.74 179.55 259.77 187.3 255.61 182.27 254.58Z"/>
<path d="M461.78 218.53 466.82 221.43 474.57 220.12 469.54 217.22Z"/>
<path d="M207.85 248.75 212.89 250 220.64 246.16 215.61 244.91Z"/>
<path d="M495.12 220.82 500.16 223.94 507.91 222.95 502.88 219.84Z"/>
<path d="M241.19 240.18 246.23 241.65 253.98 238.14 248.95 236.67Z"/>
<path d="M528.46 224.54 533.5 227.87 541.26 227.22 536.22 223.88Z"/>
<path d="M274.53 233.04 279.57 234.73 287.32 231.55 282.29 229.86Z"/>
<path d="M561.8 229.68 566.84 233.23 574.6 232.9 569.56 229.35Z"/>
<path d="M307.87 227.32 312.91 229.23 320.66 226.38 315.63 224.47Z"/>
<path d="M595.14 236.24 600.18 240.02 607.94 240.02 602.9 236.24Z"/>
<path d="M341.21 223.03 346.25 225.16 354.01 222.64 348.97 220.51Z"/>
<path d="M628.48 244.23 633.52 248.23 641.28 248.56 636.24 244.56Z"/>
<path d="M374.55 220.16 379.59 222.51 387.35 220.32 382.31 217.97Z"/>
<path d="M661.82 253.65 666.86 257.86 674.62 258.52 669.58 254.31Z"/>
<path d="M407.89 218.72 412.93 221.29 420.69 219.43 415.65 216.86Z"/>
<path d="M695.16 264.49 700.2 268.92 707.96 269.91 702.92 265.48Z"/>
<path d="M441.23 218.71 446.27 221.49 454.03 219.96 448.99 217.17Z"/>
<path d="M187.3 255.61 192.34 256.75 200.1 252.69 195.06 251.55Z"/>
<path d="M474.57 220.12 479.61 223.12 487.37 221.92 482.33 218.91Z"/>
<path d="M220.64 246.16 225.68 247.52 233.44 243.8 228.4 242.44Z"/>
<path d="M507.91 222.95 512.95 226.18 520.71 225.3 515.67 222.08Z"/>
<path d="M253.98 238.14 259.02 239.72 266.78 236.32 261.74 234.74Z"/>
<path d="M541.26 227.22 546.29 230.66 554.05 230.11 549.01 226.67Z"/>
<path d="M287.32 231.55 292.36 233.35 300.12 230.28 295.08 228.48Z"/>
<path d="M574.6 232.9 579.63 236.57 587.39 236.35 582.35 232.69Z"/>
<path d="M320.66 226.38 325.7 228.4 333.46 225.66 328.42 223.64Z"/>
<path d="M607.94 240.02 612.97 243.9 620.73 244.01 615.69 240.13Z"/>
<path d="M354.01 222.64 359.04 224.87 366.8 222.46 361.76 220.22Z"/>
<path d="M641.28 248.56 646.31 252.66 654.07 253.1 649.03 249Z"/>
<path d="M387.35 220.32 392.38 222.78 400.14 220.69 395.1 218.24Z"/>
<path d="M674.62 258.52 679.65 262.84 687.41 263.61 682.37 259.29Z"/>
<path d="M420.69 219.43 425.72 222.1 433.48 220.35 428.44 217.67Z"/>
<path d="M707.96 269.91 712.99 274.45 720.75 275.55 715.71 271.01Z"/>
<path d="M454.03 219.96 459.06 222.86 466.82 221.43 461.78 218.53Z"/>
<path d="M200.1 252.69 205.13 253.95 212.89 250 207.85 248.75Z"/>
<path d="M487.37 221.92 492.4 225.03 500.16 223.94 495.12 220.82Z"/>
<path d="M233.44 243.8 238.47 245.27 246.23 241.65 241.19 240.18Z"/>
<path d="M520.71 225.3 525.74 228.64 533.5 227.87 528.46 224.54Z"/>
<path d="M266.78 236.32 271.81 238.01 279.57 234.73 274.53 233.04Z"/>
<path d="M554.05 230.11 559.09 233.67 566.84 233.23 561.8 229.68Z"/>
<path d="M300.12 230.28 305.15 232.19 312.91 229.23 307.87 227.32Z"/>
<path d="M587.39 236.35 592.43 240.12 600.18 240.02 595.14 236.24Z"/>
<path d="M333.46 225.66 338.5 227.79 346.25 225.16 341.21 223.03Z"/>
<path d="M620.73 244.01 625.77 248 633.52 248.23 628.48 244.23Z"/>
<path d="M366.8 222.46 371.84 224.81 379.59 222.51 374.55 220.16Z"/>
<path d="M654.07 253.1 659.11 257.31 666.86 257.86 661.82 253.65Z"/>
<path d="M400.14 220.69 405.18 223.26 412.93 221.29 407.89 218.72Z"/>
<path d="M687.41 263.61 692.45 268.04 700.2 268.92 695.16 264.49Z"/>
<path d="M433.48 220.35 438.52 223.14 446.27 221.49 441.23 218.71Z"/>
<path d="M179.55 259.77 184.59 260.92 192.34 256.75 187.3 255.61Z"/>
<path d="M466.82 221.43 471.86 224.44 479.61 223.12 474.57 220.12Z"/>
<path d="M212.89 250 217.93 251.36 225.68 247.52 220.64 246.16Z"/>
<path d="M500.16 223.94 505.2 227.16 512.95 226.18 507.91 222.95Z"/>
<path d="M246.23 241.65 251.27 243.23 259.02 239.72 253.98 238.14Z"/>
<path d="M533.5 227.87 538.54 231.32 546.29 230.66 541.26 227.22Z"/>
<path d="M279.57 234.73 284.61 236.53 292.36 233.35 287.32 231.55Z"/>
<path d="M566.84 233.23 571.88 236.89 579.63 236.57 574.6 232.9Z"/>
<path d="M312.91 229.23 317.95 231.25 325.7 228.4 320.66 226.38Z"/>
<path d="M600.18 240.02 605.22 243.9 612.97 243.9 607.94 240.02Z"/>
<path d="M346.25 225.16 351.29 227.39 359.04 224.87 354.01 222.64Z"/>
<path d="M633.52 248.23 638.56 252.33 646.31 252.66 641.28 248.56Z"/>
<path d="M379.59 222.51 384.63 224.97 392.38 222.78 387.35 220.32Z"/>
<path d="M666.86 257.86 671.9 262.18 679.65 262.84 674.62 258.52Z"/>
<path d="M412.93 221.29 417.97 223.96 425.72 222.1 420.69 219.43Z"/>
<path d="M700.2 268.92 705.24 273.46 712.99 274.45 707.96 269.91Z"/>
<path d="M446.27 221.49 451.31 224.39 459.06 222.86 454.03 219.96Z"/>
<path d="M192.34 256.75 197.38 258 205.13 253.95 200.1 252.69Z"/>
<path d="M479.61 223.12 484.65 226.24 492.4 225.03 487.37 221.92Z"/>
<path d="M225.68 247.52 230.72 248.99 238.47 245.27 233.44 243.8Z"/>
<path d="M512.95 226.18 517.99 229.51 525.74 228.64 520.71 225.3Z"/>
<path d="M259.02 239.72 264.06 241.41 271.81 238.01 266.78 236.32Z"/>
<path d="M546.29 230.66 551.33 234.21 559.09 233.67 554.05 230.11Z"/>
<path d="M292.36 233.35 297.4 235.26 305.15 232.19 300.12 230.28Z"/>
<path d="M579.63 236.57 584.67 240.34 592.43 240.12 587.39 236.35Z"/>
<path d="M325.7 228.4 330.74 230.53 338.5 227.79 333.46 225.66Z"/>
<path d="M612.97 243.9 618.01 247.89 625.77 248 620.73 244.01Z"/>
<path d="M359.04 224.87 364.08 227.22 371.84 224.81 366.8 222.46Z"/>
<path d="M646.31 252.66 651.35 256.87 659.11 257.31 654.07 253.1Z"/>
<path d="M392.38 222.78 397.42 225.34 405.18 223.26 400.14 220.69Z"/>
<path d="M679.65 262.84 684.69 267.27 692.45 268.04 687.41 263.61Z"/>
<path d="M425.72 222.1 430.76 224.89 438.52 223.14 433.48 220.35Z"/>
<path d="M712.99 274.45 718.03 279.1 725.79 280.2 720.75 275.55Z"/>
<path d="M459.06 222.86 464.1 225.86 471.86 224.44 466.82 221.43Z"/>
<path d="M205.13 253.95 210.17 255.31 217.93 251.36 212.89 250Z"/>
<path d="M492.4 225.03 497.44 228.26 505.2 227.16 500.16 223.94Z"/>
<path d="M238.47 245.27 243.51 246.85 251.27 243.23 246.23 241.65Z"/>
<path d="M525.74 228.64 530.78 232.08 538.54 231.32 533.5 227.87Z"/>
<path d="M271.81 238.01 276.85 239.81 284.61 236.53 279.57 234.73Z"/>
<path d="M559.09 233.67 564.12 237.33 571.88 236.89 566.84 233.23Z"/>
<path d="M305.15 232.19 310.19 234.21 317.95 231.25 312.91 229.23Z"/>
<path d="M592.43 240.12 597.46 244.01 605.22 243.9 600.18 240.02Z"/>
<path d="M338.5 227.79 343.53 230.02 351.29 227.39 346.25 225.16Z"/>
<path d="M625.77 248 630.8 252.11 638.56 252.33 633.52 248.23Z"/>
<path d="M371.84 224.81 376.87 227.27 384.63 224.97 379.59 222.51Z"/>
<path d="M659.11 257.31 664.14 261.63 671.9 262.18 666.86 257.86Z"/>
<path d="M405.18 223.26 410.21 225.94 417.97 223.96 412.93 221.29Z"/>
<path d="M692.45 268.04 697.48 272.58 705.24 273.46 700.2 268.92Z"/>
<path d="M438.52 223.14 443.55 226.03 451.31 224.39 446.27 221.49Z"/>
<path d="M184.59 260.92 189.62 262.17 197.38 258 192.34 256.75Z"/>
<path d="M471.86 224.44 476.89 227.55 484.65 226.24 479.61 223.12Z"/>
<path d="M217.93 251.36 222.96 252.83 230.72 248.99 225.68 247.52Z"/>
<path d="M505.2 227.16 510.23 230.5 517.99 229.51 512.95 226.18Z"/>
<path d="M251.27 243.23 256.3 244.92 264.06 241.41 259.02 239.72Z"/>
<path d="M538.54 231.32 543.58 234.87 551.33 234.21 546.29 230.66Z"/>
<path d="M284.61 236.53 289.64 238.44 297.4 235.26 292.36 233.35Z"/>
<path d="M571.88 236.89 576.92 240.67 584.67 240.34 579.63 236.57Z"/>
<path d="M317.95 231.25 322.98 233.38 330.74 230.53 325.7 228.4Z"/>
<path d="M605.22 243.9 610.26 247.89 618.01 247.89 612.97 243.9Z"/>
<path d="M351.29 227.39 356.33 229.74 364.08 227.22 359.04 224.87Z"/>
<path d="M638.56 252.33 643.6 256.54 651.35 256.87 646.31 252.66Z"/>
<path d="M384.63 224.97 389.67 227.53 397.42 225.34 392.38 222.78Z"/>
<path d="M671.9 262.18 676.94 266.61 684.69 267.27 679.65 262.84Z"/>
<path d="M417.97 223.96 423.01 226.75 430.76 224.89 425.72 222.1Z"/>
<path d="M705.24 273.46 710.28 278.11 718.03 279.1 712.99 274.45Z"/>
<path d="M451.31 224.39 456.35 227.39 464.1 225.86 459.06 222.86Z"/>
<path d="M197.38 258 202.42 259.36 210.17 255.31 205.13 253.95Z"/>
<path d="M484.65 226.24 489.69 229.46 497.44 228.26 492.4 225.03Z"/>
<path d="M230.72 248.99 235.76 250.57 243.51 246.85 238.47 245.27Z"/>
<path d="M517.99 229.51 523.03 232.96 530.78 232.08 525.74 228.64Z"/>
<path d="M264.06 241.41 269.1 243.21 276.85 239.81 271.81 238.01Z"/>
<path d="M551.33 234.21 556.37 237.88 564.12 237.33 559.09 233.67Z"/>
<path d="M297.4 235.26 302.44 237.28 310.19 234.21 305.15 232.19Z"/>
<path d="M584.67 240.34 589.71 244.22 597.46 244.01 592.43 240.12Z"/>
<path d="M330.74 230.53 335.78 232.76 343.53 230.02 338.5 227.79Z"/>
<path d="M618.01 247.89 623.05 252 630.8 252.11 625.77 248Z"/>
<path d="M364.08 227.22 369.12 229.68 376.87 227.27 371.84 224.81Z"/>
<path d="M651.35 256.87 656.39 261.19 664.14 261.63 659.11 257.31Z"/>
<path d="M397.42 225.34 402.46 228.02 410.21 225.94 405.18 223.26Z"/>
<path d="M684.69 267.27 689.73 271.82 697.48 272.58 692.45 268.04Z"/>
<path d="M430.76 224.89 435.8 227.79 443.55 226.03 438.52 223.14Z"/>
<path d="M718.03 279.1 723.07 283.86 730.82 284.96 725.79 280.2Z"/>
<path d="M464.1 225.86 469.14 228.98 476.89 227.55 471.86 224.44Z"/>
<path d="M210.17 255.31 215.21 256.78 222.96 252.83 217.93 251.36Z"/>
<path d="M497.44 228.26 502.48 231.59 510.23 230.5 505.2 227.16Z"/>
<path d="M243.51 246.85 248.55 248.54 256.3 244.92 251.27 243.23Z"/>
<path d="M530.78 232.08 535.82 235.64 543.58 234.87 538.54 231.32Z"/>
<path d="M276.85 239.81 281.89 241.72 289.64 238.44 284.61 236.53Z"/>
<path d="M564.12 237.33 569.16 241.11 576.92 240.67 571.88 236.89Z"/>
<path d="M310.19 234.21 315.23 236.34 322.98 233.38 317.95 231.25Z"/>
<path d="M597.46 244.01 602.5 248 610.26 247.89 605.22 243.9Z"/>
<path d="M343.53 230.02 348.57 232.37 356.33 229.74 351.29 227.39Z"/>
<path d="M630.8 252.11 635.84 256.32 643.6 256.54 638.56 252.33Z"/>
<path d="M376.87 227.27 381.91 229.84 389.67 227.53 384.63 224.97Z"/>
<path d="M664.14 261.63 669.18 266.06 676.94 266.61 671.9 262.18Z"/>
<path d="M410.21 225.94 415.25 228.72 423.01 226.75 417.97 223.96Z"/>
<path d="M697.48 272.58 702.52 277.24 710.28 278.11 705.24 273.46Z"/>
<path d="M443.55 226.03 448.59 229.04 456.35 227.39 451.31 224.39Z"/>
<path d="M189.62 262.17 194.66 263.53 202.42 259.36 197.38 258Z"/>
<path d="M476.89 227.55 481.93 230.78 489.69 229.46 484.65 226.24Z"/>
<path d="M222.96 252.83 228 254.41 235.76 250.57 230.72 248.99Z"/>
<path d="M510.23 230.5 515.27 233.94 523.03 232.96 517.99 229.51Z"/>
<path d="M256.3 244.92 261.34 246.72 269.1 243.21 264.06 241.41Z"/>
<path d="M543.58 234.87 548.61 238.53 556.37 237.88 551.33 234.21Z"/>
<path d="M289.64 238.44 294.68 240.45 302.44 237.28 297.4 235.26Z"/>
<path d="M576.92 240.67 581.95 244.55 589.71 244.22 584.67 240.34Z"/>
<path d="M322.98 233.38 328.02 235.61 335.78 232.76 330.74 230.53Z"/>
<path d="M610.26 247.89 615.29 251.99 623.05 252 618.01 247.89Z"/>
<path d="M356.33 229.74 361.36 232.2 369.12 229.68 364.08 227.22Z"/>
<path d="M643.6 256.54 648.63 260.86 656.39 261.19 651.35 256.87Z"/>
<path d="M389.67 227.53 394.7 230.21 402.46 228.02 397.42 225.34Z"/>
<path d="M676.94 266.61 681.97 271.16 689.73 271.82 684.69 267.27Z"/>
<path d="M423.01 226.75 428.04 229.65 435.8 227.79 430.76 224.89Z"/>
<path d="M710.28 278.11 715.31 282.87 723.07 283.86 718.03 279.1Z"/>
<path d="M456.35 227.39 461.38 230.51 469.14 228.98 464.1 225.86Z"/>
<path d="M202.42 259.36 207.45 260.83 215.21 256.78 210.17 255.31Z"/>
<path d="M489.69 229.46 494.72 232.8 502.48 231.59 497.44 228.26Z"/>
<path d="M235.76 250.57 240.79 252.26 248.55 248.54 243.51 246.85Z"/>
<path d="M523.03 232.96 528.06 236.51 535.82 235.64 530.78 232.08Z"/>
<path d="M269.1 243.21 274.13 245.12 281.89 241.72 276.85 239.81Z"/>
<path d="M556.37 237.88 561.41 241.65 569.16 241.11 564.12 237.33Z"/>
<path d="M302.44 237.28 307.47 239.4 315.23 236.34 310.19 234.21Z"/>
<path d="M589.71 244.22 594.75 248.22 602.5 248 597.46 244.01Z"/>
<path d="M335.78 232.76 340.82 235.11 348.57 232.37 343.53 230.02Z"/>
<path d="M623.05 252 628.09 256.21 635.84 256.32 630.8 252.11Z"/>
<path d="M369.12 229.68 374.16 232.25 381.91 229.84 376.87 227.27Z"/>
<path d="M656.39 261.19 661.43 265.62 669.18 266.06 664.14 261.63Z"/>
<path d="M402.46 228.02 407.5 230.81 415.25 228.72 410.21 225.94Z"/>
<path d="M689.73 271.82 694.77 276.47 702.52 277.24 697.48 272.58Z"/>
<path d="M435.8 227.79 440.84 230.79 448.59 229.04 443.55 226.03Z"/>
<path d="M723.07 283.86 728.11 288.73 735.86 289.83 730.82 284.96Z"/>
<path d="M469.14 228.98 474.18 232.2 481.93 230.78 476.89 227.55Z"/>
<path d="M215.21 256.78 220.25 258.36 228 254.41 222.96 252.83Z"/>
<path d="M502.48 231.59 507.52 235.04 515.27 233.94 510.23 230.5Z"/>
<path d="M248.55 248.54 253.59 250.34 261.34 246.72 256.3 244.92Z"/>
<path d="M535.82 235.64 540.86 239.3 548.61 238.53 543.58 234.87Z"/>
<path d="M281.89 241.72 286.93 243.74 294.68 240.45 289.64 238.44Z"/>
<path d="M569.16 241.11 574.2 244.99 581.95 244.55 576.92 240.67Z"/>
<path d="M315.23 236.34 320.27 238.57 328.02 235.61 322.98 233.38Z"/>
<path d="M602.5 248 607.54 252.1 615.29 251.99 610.26 247.89Z"/>
<path d="M348.57 232.37 353.61 234.83 361.36 232.2 356.33 229.74Z"/>
<path d="M635.84 256.32 640.88 260.64 648.63 260.86 643.6 256.54Z"/>
<path d="M381.91 229.84 386.95 232.51 394.7 230.21 389.67 227.53Z"/>
<path d="M669.18 266.06 674.22 270.61 681.97 271.16 676.94 266.61Z"/>
<path d="M415.25 228.72 420.29 231.62 428.04 229.65 423.01 226.75Z"/>
<path d="M702.52 277.24 707.56 282 715.31 282.87 710.28 278.11Z"/>
<path d="M448.59 229.04 453.63 232.15 461.38 230.51 456.35 227.39Z"/>
<path d="M194.66 263.53 199.7 265 207.45 260.83 202.42 259.36Z"/>
<path d="M481.93 230.78 486.97 234.11 494.72 232.8 489.69 229.46Z"/>
<path d="M228 254.41 233.04 256.1 240.79 252.26 235.76 250.57Z"/>
<path d="M515.27 233.94 520.31 237.5 528.06 236.51 523.03 232.96Z"/>
<path d="M261.34 246.72 266.38 248.63 274.13 245.12 269.1 243.21Z"/>
<path d="M548.61 238.53 553.65 242.31 561.41 241.65 556.37 237.88Z"/>
<path d="M294.68 240.45 299.72 242.58 307.47 239.4 302.44 237.28Z"/>
<path d="M581.95 244.55 586.99 248.54 594.75 248.22 589.71 244.22Z"/>
<path d="M328.02 235.61 333.06 237.96 340.82 235.11 335.78 232.76Z"/>
<path d="M615.29 251.99 620.33 256.21 628.09 256.21 623.05 252Z"/>
<path d="M361.36 232.2 366.4 234.77 374.16 232.25 369.12 229.68Z"/>
<path d="M648.63 260.86 653.67 265.29 661.43 265.62 656.39 261.19Z"/>
<path d="M394.7 230.21 399.74 233 407.5 230.81 402.46 228.02Z"/>
<path d="M681.97 271.16 687.01 275.81 694.77 276.47 689.73 271.82Z"/>
<path d="M428.04 229.65 433.08 232.65 440.84 230.79 435.8 227.79Z"/>
<path d="M715.31 282.87 720.35 287.75 728.11 288.73 723.07 283.86Z"/>
<path d="M461.38 230.51 466.42 233.74 474.18 232.2 469.14 228.98Z"/>
<path d="M207.45 260.83 212.49 262.41 220.25 258.36 215.21 256.78Z"/>
<path d="M494.72 232.8 499.76 236.24 507.52 235.04 502.48 231.59Z"/>
<path d="M240.79 252.26 245.83 254.06 253.59 250.34 248.55 248.54Z"/>
<path d="M528.06 236.51 533.1 240.18 540.86 239.3 535.82 235.64Z"/>
<path d="M274.13 245.12 279.17 247.14 286.93 243.74 281.89 241.72Z"/>
<path d="M561.41 241.65 566.44 245.54 574.2 244.99 569.16 241.11Z"/>
<path d="M307.47 239.4 312.51 241.64 320.27 238.57 315.23 236.34Z"/>
<path d="M594.75 248.22 599.78 252.32 607.54 252.1 602.5 248Z"/>
<path d="M340.82 235.11 345.85 237.57 353.61 234.83 348.57 232.37Z"/>
<path d="M628.09 256.21 633.12 260.53 640.88 260.64 635.84 256.32Z"/>
<path d="M374.16 232.25 379.19 234.92 386.95 232.51 381.91 229.84Z"/>
<path d="M661.43 265.62 666.46 270.17 674.22 270.61 669.18 266.06Z"/>
<path d="M407.5 230.81 412.53 233.7 420.29 231.62 415.25 228.72Z"/>
<path d="M694.77 276.47 699.8 281.23 707.56 282 702.52 277.24Z"/>
<path d="M440.84 230.79 445.87 233.91 453.63 232.15 448.59 229.04Z"/>
<path d="M728.11 288.73 733.14 293.71 740.9 294.81 735.86 289.83Z"/>
<path d="M474.18 232.2 479.21 235.54 486.97 234.11 481.93 230.78Z"/>
<path d="M220.25 258.36 225.28 260.05 233.04 256.1 228 254.41Z"/>
<path d="M507.52 235.04 512.55 238.59 520.31 237.5 515.27 233.94Z"/>
<path d="M253.59 250.34 258.62 252.25 266.38 248.63 261.34 246.72Z"/>
<path d="M540.86 239.3 545.9 243.07 553.65 242.31 548.61 238.53Z"/>
<path d="M286.93 243.74 291.96 245.87 299.72 242.58 294.68 240.45Z"/>
<path d="M574.2 244.99 579.24 248.98 586.99 248.54 581.95 244.55Z"/>
<path d="M320.27 238.57 325.3 240.92 333.06 237.96 328.02 235.61Z"/>
<path d="M607.54 252.1 612.58 256.31 620.33 256.21 615.29 251.99Z"/>
<path d="M353.61 234.83 358.65 237.4 366.4 234.77 361.36 232.2Z"/>
<path d="M640.88 260.64 645.92 265.07 653.67 265.29 648.63 260.86Z"/>
<path d="M386.95 232.51 391.99 235.3 399.74 233 394.7 230.21Z"/>
<path d="M674.22 270.61 679.26 275.26 687.01 275.81 681.97 271.16Z"/>
<path d="M420.29 231.62 425.33 234.63 433.08 232.65 428.04 229.65Z"/>
<path d="M707.56 282 712.6 286.87 720.35 287.75 715.31 282.87Z"/>
<path d="M453.63 232.15 458.67 235.38 466.42 233.74 461.38 230.51Z"/>
<path d="M199.7 265 204.74 266.58 212.49 262.41 207.45 260.83Z"/>
<path d="M486.97 234.11 492.01 237.56 499.76 236.24 494.72 232.8Z"/>
<path d="M233.04 256.1 238.08 257.9 245.83 254.06 240.79 252.26Z"/>
<path d="M520.31 237.5 525.35 241.16 533.1 240.18 528.06 236.51Z"/>
<path d="M266.38 248.63 271.42 250.65 279.17 247.14 274.13 245.12Z"/>
<path d="M553.65 242.31 558.69 246.19 566.44 245.54 561.41 241.65Z"/>
<path d="M299.72 242.58 304.76 244.82 312.51 241.64 307.47 239.4Z"/>
<path d="M586.99 248.54 592.03 252.65 599.78 252.32 594.75 248.22Z"/>
<path d="M333.06 237.96 338.1 240.42 345.85 237.57 340.82 235.11Z"/>
<path d="M620.33 256.21 625.37 260.53 633.12 260.53 628.09 256.21Z"/>
<path d="M366.4 234.77 371.44 237.44 379.19 234.92 374.16 232.25Z"/>
<path d="M653.67 265.29 658.71 269.83 666.46 270.17 661.43 265.62Z"/>
<path d="M399.74 233 404.78 235.89 412.53 233.7 407.5 230.81Z"/>
<path d="M687.01 275.81 692.05 280.57 699.8 281.23 694.77 276.47Z"/>
<path d="M433.08 232.65 438.12 235.77 445.87 233.91 440.84 230.79Z"/>
<path d="M720.35 287.75 725.39 292.72 733.14 293.71 728.11 288.73Z"/>
<path d="M466.42 233.74 471.46 237.07 479.21 235.54 474.18 232.2Z"/>
<path d="M212.49 262.41 217.53 264.1 225.28 260.05 220.25 258.36Z"/>
<path d="M499.76 236.24 504.8 239.8 512.55 238.59 507.52 235.04Z"/>
<path d="M245.83 254.06 250.87 255.97 258.62 252.25 253.59 250.34Z"/>
<path d="M533.1 240.18 538.14 243.95 545.9 243.07 540.86 239.3Z"/>
<path d="M279.17 247.14 284.21 249.27 291.96 245.87 286.93 243.74Z"/>
<path d="M566.44 245.54 571.48 249.53 579.24 248.98 574.2 244.99Z"/>
<path d="M312.51 241.64 317.55 243.99 325.3 240.92 320.27 238.57Z"/>
<path d="M599.78 252.32 604.82 256.53 612.58 256.31 607.54 252.1Z"/>
<path d="M345.85 237.57 350.89 240.14 358.65 237.4 353.61 234.83Z"/>
<path d="M633.12 260.53 638.16 264.96 645.92 265.07 640.88 260.64Z"/>
<path d="M379.19 234.92 384.23 237.71 391.99 235.3 386.95 232.51Z"/>
<path d="M666.46 270.17 671.5 274.82 679.26 275.26 674.22 270.61Z"/>
<path d="M412.53 233.7 417.57 236.71 425.33 234.63 420.29 231.62Z"/>
<path d="M699.8 281.23 704.84 286.1 712.6 286.87 707.56 282Z"/>
<path d="M445.87 233.91 450.91 237.13 458.67 235.38 453.63 232.15Z"/>
<path d="M479.21 235.54 484.25 238.98 492.01 237.56 486.97 234.11Z"/>
<path d="M225.28 260.05 230.32 261.85 238.08 257.9 233.04 256.1Z"/>
<path d="M512.55 238.59 517.59 242.26 525.35 241.16 520.31 237.5Z"/>
<path d="M258.62 252.25 263.66 254.27 271.42 250.65 266.38 248.63Z"/>
<path d="M545.9 243.07 550.93 246.96 558.69 246.19 553.65 242.31Z"/>
<path d="M291.96 245.87 297 248.11 304.76 244.82 299.72 242.58Z"/>
<path d="M579.24 248.98 584.27 253.08 592.03 252.65 586.99 248.54Z"/>
<path d="M325.3 240.92 330.34 243.38 338.1 240.42 333.06 237.96Z"/>
<path d="M612.58 256.31 617.61 260.64 625.37 260.53 620.33 256.21Z"/>
<path d="M358.65 237.4 363.68 240.07 371.44 237.44 366.4 234.77Z"/>
<path d="M645.92 265.07 650.95 269.61 658.71 269.83 653.67 265.29Z"/>
<path d="M391.99 235.3 397.02 238.2 404.78 235.89 399.74 233Z"/>
<path d="M679.26 275.26 684.29 280.02 692.05 280.57 687.01 275.81Z"/>
<path d="M425.33 234.63 430.36 237.74 438.12 235.77 433.08 232.65Z"/>
<path d="M712.6 286.87 717.63 291.85 725.39 292.72 720.35 287.75Z"/>
<path d="M458.67 235.38 463.7 238.71 471.46 237.07 466.42 233.74Z"/>
<path d="M204.74 266.58 209.77 268.27 217.53 264.1 212.49 262.41Z"/>
<path d="M492.01 237.56 497.04 241.11 504.8 239.8 499.76 236.24Z"/>
<path d="M238.08 257.9 243.11 259.81 250.87 255.97 245.83 254.06Z"/>
<path d="M525.35 241.16 530.38 244.94 538.14 243.95 533.1 240.18Z"/>
<path d="M271.42 250.65 276.45 252.78 284.21 249.27 279.17 247.14Z"/>
<path d="M558.69 246.19 563.73 250.18 571.48 249.53 566.44 245.54Z"/>
<path d="M304.76 244.82 309.79 247.17 317.55 243.99 312.51 241.64Z"/>
<path d="M592.03 252.65 597.07 256.86 604.82 256.53 599.78 252.32Z"/>
<path d="M338.1 240.42 343.14 242.99 350.89 240.14 345.85 237.57Z"/>
<path d="M625.37 260.53 630.41 264.96 638.16 264.96 633.12 260.53Z"/>
<path d="M371.44 237.44 376.48 240.23 384.23 237.71 379.19 234.92Z"/>
<path d="M658.71 269.83 663.75 274.49 671.5 274.82 666.46 270.17Z"/>
<path d="M404.78 235.89 409.82 238.9 417.57 236.71 412.53 233.7Z"/>
<path d="M692.05 280.57 697.09 285.44 704.84 286.1 699.8 281.23Z"/>
<path d="M438.12 235.77 443.16 238.99 450.91 237.13 445.87 233.91Z"/>
<path d="M471.46 237.07 476.5 240.52 484.25 238.98 479.21 235.54Z"/>
<path d="M217.53 264.1 222.57 265.9 230.32 261.85 225.28 260.05Z"/>
<path d="M504.8 239.8 509.84 243.46 517.59 242.26 512.55 238.59Z"/>
<path d="M250.87 255.97 255.91 257.99 263.66 254.27 258.62 252.25Z"/>
<path d="M538.14 243.95 543.18 247.83 550.93 246.96 545.9 243.07Z"/>
<path d="M284.21 249.27 289.25 251.51 297 248.11 291.96 245.87Z"/>
<path d="M571.48 249.53 576.52 253.63 584.27 253.08 579.24 248.98Z"/>
<path d="M317.55 243.99 322.59 246.45 330.34 243.38 325.3 240.92Z"/>
<path d="M604.82 256.53 609.86 260.85 617.61 260.64 612.58 256.31Z"/>
<path d="M350.89 240.14 355.93 242.81 363.68 240.07 358.65 237.4Z"/>
<path d="M638.16 264.96 643.2 269.5 650.95 269.61 645.92 265.07Z"/>
<path d="M384.23 237.71 389.27 240.61 397.02 238.2 391.99 235.3Z"/>
<path d="M671.5 274.82 676.54 279.58 684.29 280.02 679.26 275.26Z"/>
<path d="M417.57 236.71 422.61 239.82 430.36 237.74 425.33 234.63Z"/>
<path d="M704.84 286.1 709.88 291.08 717.63 291.85 712.6 286.87Z"/>
<path d="M450.91 237.13 455.95 240.47 463.7 238.71 458.67 235.38Z"/>
<path d="M484.25 238.98 489.29 242.54 497.04 241.11 492.01 237.56Z"/>
<path d="M230.32 261.85 235.36 263.76 243.11 259.81 238.08 257.9Z"/>
<path d="M517.59 242.26 522.63 246.03 530.38 244.94 525.35 241.16Z"/>
<path d="M263.66 254.27 268.7 256.39 276.45 252.78 271.42 250.65Z"/>
<path d="M550.93 246.96 555.97 250.95 563.73 250.18 558.69 246.19Z"/>
<path d="M297 248.11 302.04 250.46 309.79 247.17 304.76 244.82Z"/>
<path d="M584.27 253.08 589.31 257.3 597.07 256.86 592.03 252.65Z"/>
<path d="M330.34 243.38 335.38 245.95 343.14 242.99 338.1 240.42Z"/>
<path d="M617.61 260.64 622.65 265.07 630.41 264.96 625.37 260.53Z"/>
<path d="M363.68 240.07 368.72 242.86 376.48 240.23 371.44 237.44Z"/>
<path d="M650.95 269.61 655.99 274.26 663.75 274.49 658.71 269.83Z"/>
<path d="M397.02 238.2 402.06 241.2 409.82 238.9 404.78 235.89Z"/>
<path d="M684.29 280.02 689.33 284.89 697.09 285.44 692.05 280.57Z"/>
<path d="M430.36 237.74 435.4 240.97 443.16 238.99 438.12 235.77Z"/>
<path d="M463.7 238.71 468.74 242.16 476.5 240.52 471.46 237.07Z"/>
<path d="M209.77 268.27 214.81 270.07 222.57 265.9 217.53 264.1Z"/>
<path d="M497.04 241.11 502.08 244.78 509.84 243.46 504.8 239.8Z"/>
<path d="M243.11 259.81 248.15 261.83 255.91 257.99 250.87 255.97Z"/>
<path d="M530.38 244.94 535.42 248.82 543.18 247.83 538.14 243.95Z"/>
<path d="M276.45 252.78 281.49 255.01 289.25 251.51 284.21 249.27Z"/>
<path d="M563.73 250.18 568.76 254.29 576.52 253.63 571.48 249.53Z"/>
<path d="M309.79 247.17 314.83 249.63 322.59 246.45 317.55 243.99Z"/>
<path d="M597.07 256.86 602.1 261.18 609.86 260.85 604.82 256.53Z"/>
<path d="M343.14 242.99 348.17 245.66 355.93 242.81 350.89 240.14Z"/>
<path d="M630.41 264.96 635.44 269.5 643.2 269.5 638.16 264.96Z"/>
<path d="M376.48 240.23 381.51 243.13 389.27 240.61 384.23 237.71Z"/>
<path d="M663.75 274.49 668.78 279.25 676.54 279.58 671.5 274.82Z"/>
<path d="M409.82 238.9 414.85 242.02 422.61 239.82 417.57 236.71Z"/>
<path d="M697.09 285.44 702.12 290.42 709.88 291.08 704.84 286.1Z"/>
<path d="M443.16 238.99 448.19 242.33 455.95 240.47 450.91 237.13Z"/>
<path d="M476.5 240.52 481.53 244.07 489.29 242.54 484.25 238.98Z"/>
<path d="M222.57 265.9 227.6 267.81 235.36 263.76 230.32 261.85Z"/>
<path d="M509.84 243.46 514.87 247.23 522.63 246.03 517.59 242.26Z"/>
<path d="M255.91 257.99 260.94 260.12 268.7 256.39 263.66 254.27Z"/>
<path d="M543.18 247.83 548.22 251.83 555.97 250.95 550.93 246.96Z"/>
<path d="M289.25 251.51 294.28 253.86 302.04 250.46 297 248.11Z"/>
<path d="M576.52 253.63 581.56 257.84 589.31 257.3 584.27 253.08Z"/>
<path d="M322.59 246.45 327.62 249.02 335.38 245.95 330.34 243.38Z"/>
<path d="M609.86 260.85 614.9 265.29 622.65 265.07 617.61 260.64Z"/>
<path d="M355.93 242.81 360.97 245.6 368.72 242.86 363.68 240.07Z"/>
<path d="M643.2 269.5 648.24 274.15 655.99 274.26 650.95 269.61Z"/>
<path d="M389.27 240.61 394.31 243.61 402.06 241.2 397.02 238.2Z"/>
<path d="M676.54 279.58 681.58 284.45 689.33 284.89 684.29 280.02Z"/>
<path d="M422.61 239.82 427.65 243.05 435.4 240.97 430.36 237.74Z"/>
<path d="M455.95 240.47 460.99 243.91 468.74 242.16 463.7 238.71Z"/>
<path d="M489.29 242.54 494.33 246.2 502.08 244.78 497.04 241.11Z"/>
<path d="M235.36 263.76 240.4 265.78 248.15 261.83 243.11 259.81Z"/>
<path d="M522.63 246.03 527.67 249.91 535.42 248.82 530.38 244.94Z"/>
<path d="M268.7 256.39 273.74 258.63 281.49 255.01 276.45 252.78Z"/>
<path d="M555.97 250.95 561.01 255.05 568.76 254.29 563.73 250.18Z"/>
<path d="M302.04 250.46 307.08 252.91 314.83 249.63 309.79 247.17Z"/>
<path d="M589.31 257.3 594.35 261.62 602.1 261.18 597.07 256.86Z"/>
<path d="M335.38 245.95 340.42 248.62 348.17 245.66 343.14 242.99Z"/>
<path d="M622.65 265.07 627.69 269.61 635.44 269.5 630.41 264.96Z"/>
<path d="M368.72 242.86 373.76 245.76 381.51 243.13 376.48 240.23Z"/>
<path d="M655.99 274.26 661.03 279.03 668.78 279.25 663.75 274.49Z"/>
<path d="M402.06 241.2 407.1 244.32 414.85 242.02 409.82 238.9Z"/>
<path d="M689.33 284.89 694.37 289.87 702.12 290.42 697.09 285.44Z"/>
<path d="M435.4 240.97 440.44 244.3 448.19 242.33 443.16 238.99Z"/>
<path d="M468.74 242.16 473.78 245.71 481.53 244.07 476.5 240.52Z"/>
<path d="M214.81 270.07 219.85 271.98 227.6 267.81 222.57 265.9Z"/>
<path d="M502.08 244.78 507.12 248.55 514.87 247.23 509.84 243.46Z"/>
<path d="M248.15 261.83 253.19 263.96 260.94 260.12 255.91 257.99Z"/>
<path d="M535.42 248.82 540.46 252.81 548.22 251.83 543.18 247.83Z"/>
<path d="M281.49 255.01 286.53 257.36 294.28 253.86 289.25 251.51Z"/>
<path d="M568.76 254.29 573.8 258.5 581.56 257.84 576.52 253.63Z"/>
<path d="M314.83 249.63 319.87 252.19 327.62 249.02 322.59 246.45Z"/>
<path d="M602.1 261.18 607.14 265.61 614.9 265.29 609.86 260.85Z"/>
<path d="M348.17 245.66 353.21 248.45 360.97 245.6 355.93 242.81Z"/>
<path d="M635.44 269.5 640.48 274.15 648.24 274.15 643.2 269.5Z"/>
<path d="M381.51 243.13 386.55 246.13 394.31 243.61 389.27 240.61Z"/>
<path d="M668.78 279.25 673.82 284.12 681.58 284.45 676.54 279.58Z"/>
<path d="M414.85 242.02 419.89 245.24 427.65 243.05 422.61 239.82Z"/>
<path d="M448.19 242.33 453.23 245.77 460.99 243.91 455.95 240.47Z"/>
<path d="M481.53 244.07 486.57 247.73 494.33 246.2 489.29 242.54Z"/>
<path d="M227.6 267.81 232.64 269.83 240.4 265.78 235.36 263.76Z"/>
<path d="M514.87 247.23 519.91 251.12 527.67 249.91 522.63 246.03Z"/>
<path d="M260.94 260.12 265.98 262.36 273.74 258.63 268.7 256.39Z"/>
<path d="M548.22 251.83 553.25 255.93 561.01 255.05 555.97 250.95Z"/>
<path d="M294.28 253.86 299.32 256.31 307.08 252.91 302.04 250.46Z"/>
<path d="M581.56 257.84 586.59 262.16 594.35 261.62 589.31 257.3Z"/>
<path d="M327.62 249.02 332.66 251.69 340.42 248.62 335.38 245.95Z"/>
<path d="M614.9 265.29 619.93 269.83 627.69 269.61 622.65 265.07Z"/>
<path d="M360.97 245.6 366 248.5 373.76 245.76 368.72 242.86Z"/>
<path d="M648.24 274.15 653.27 278.91 661.03 279.03 655.99 274.26Z"/>
<path d="M394.31 243.61 399.34 246.73 407.1 244.32 402.06 241.2Z"/>
<path d="M681.58 284.45 686.61 289.43 694.37 289.87 689.33 284.89Z"/>
<path d="M427.65 243.05 432.68 246.38 440.44 244.3 435.4 240.97Z"/>
<path d="M460.99 243.91 466.02 247.47 473.78 245.71 468.74 242.16Z"/>
<path d="M494.33 246.2 499.36 249.97 507.12 248.55 502.08 244.78Z"/>
<path d="M240.4 265.78 245.43 267.9 253.19 263.96 248.15 261.83Z"/>
<path d="M527.67 249.91 532.7 253.91 540.46 252.81 535.42 248.82Z"/>
<path d="M273.74 258.63 278.77 260.98 286.53 257.36 281.49 255.01Z"/>
<path d="M561.01 255.05 566.05 259.27 573.8 258.5 568.76 254.29Z"/>
<path d="M307.08 252.91 312.11 255.48 319.87 252.19 314.83 249.63Z"/>
<path d="M594.35 261.62 599.39 266.05 607.14 265.61 602.1 261.18Z"/>
<path d="M340.42 248.62 345.46 251.41 353.21 248.45 348.17 245.66Z"/>
<path d="M627.69 269.61 632.73 274.26 640.48 274.15 635.44 269.5Z"/>
<path d="M373.76 245.76 378.8 248.76 386.55 246.13 381.51 243.13Z"/>
<path d="M661.03 279.03 666.07 283.9 673.82 284.12 668.78 279.25Z"/>
<path d="M407.1 244.32 412.14 247.54 419.89 245.24 414.85 242.02Z"/>
<path d="M440.44 244.3 445.48 247.75 453.23 245.77 448.19 242.33Z"/>
<path d="M473.78 245.71 478.82 249.38 486.57 247.73 481.53 244.07Z"/>
<path d="M219.85 271.98 224.89 274 232.64 269.83 227.6 267.81Z"/>
<path d="M507.12 248.55 512.16 252.43 519.91 251.12 514.87 247.23Z"/>
<path d="M253.19 263.96 258.23 266.2 265.98 262.36 260.94 260.12Z"/>
<path d="M540.46 252.81 545.5 256.91 553.25 255.93 548.22 251.83Z"/>
<path d="M286.53 257.36 291.57 259.82 299.32 256.31 294.28 253.86Z"/>
<path d="M573.8 258.5 578.84 262.82 586.59 262.16 581.56 257.84Z"/>
<path d="M319.87 252.19 324.91 254.87 332.66 251.69 327.62 249.02Z"/>
<path d="M607.14 265.61 612.18 270.15 619.93 269.83 614.9 265.29Z"/>
<path d="M353.21 248.45 358.25 251.35 366 248.5 360.97 245.6Z"/>
<path d="M640.48 274.15 645.52 278.91 653.27 278.91 648.24 274.15Z"/>
<path d="M386.55 246.13 391.59 249.25 399.34 246.73 394.31 243.61Z"/>
<path d="M673.82 284.12 678.86 289.1 686.61 289.43 681.58 284.45Z"/>
<path d="M419.89 245.24 424.93 248.58 432.68 246.38 427.65 243.05Z"/>
<path d="M453.23 245.77 458.27 249.33 466.02 247.47 460.99 243.91Z"/>
<path d="M486.57 247.73 491.61 251.51 499.36 249.97 494.33 246.2Z"/>
<path d="M232.64 269.83 237.68 271.96 245.43 267.9 240.4 265.78Z"/>
<path d="M519.91 251.12 524.95 255.11 532.7 253.91 527.67 249.91Z"/>
<path d="M265.98 262.36 271.02 264.71 278.77 260.98 273.74 258.63Z"/>
<path d="M553.25 255.93 558.29 260.14 566.05 259.27 561.01 255.05Z"/>
<path d="M299.32 256.31 304.36 258.88 312.11 255.48 307.08 252.91Z"/>
<path d="M586.59 262.16 591.63 266.6 599.39 266.05 594.35 261.62Z"/>
<path d="M332.66 251.69 337.7 254.48 345.46 251.41 340.42 248.62Z"/>
<path d="M619.93 269.83 624.97 274.48 632.73 274.26 627.69 269.61Z"/>
<path d="M366 248.5 371.04 251.5 378.8 248.76 373.76 245.76Z"/>
<path d="M653.27 278.91 658.31 283.78 666.07 283.9 661.03 279.03Z"/>
<path d="M399.34 246.73 404.38 249.95 412.14 247.54 407.1 244.32Z"/>
<path d="M432.68 246.38 437.72 249.83 445.48 247.75 440.44 244.3Z"/>
<path d="M466.02 247.47 471.06 251.13 478.82 249.38 473.78 245.71Z"/>
<path d="M499.36 249.97 504.4 253.86 512.16 252.43 507.12 248.55Z"/>
<path d="M245.43 267.9 250.47 270.14 258.23 266.2 253.19 263.96Z"/>
<path d="M532.7 253.91 537.74 258.01 545.5 256.91 540.46 252.81Z"/>
<path d="M278.77 260.98 283.81 263.44 291.57 259.82 286.53 257.36Z"/>
<path d="M566.05 259.27 571.08 263.59 578.84 262.82 573.8 258.5Z"/>
<path d="M312.11 255.48 317.15 258.16 324.91 254.87 319.87 252.19Z"/>
<path d="M599.39 266.05 604.42 270.59 612.18 270.15 607.14 265.61Z"/>
<path d="M345.46 251.41 350.49 254.31 358.25 251.35 353.21 248.45Z"/>
<path d="M632.73 274.26 637.76 279.02 645.52 278.91 640.48 274.15Z"/>
<path d="M378.8 248.76 383.83 251.88 391.59 249.25 386.55 246.13Z"/>
<path d="M666.07 283.9 671.1 288.88 678.86 289.1 673.82 284.12Z"/>
<path d="M412.14 247.54 417.17 250.88 424.93 248.58 419.89 245.24Z"/>
<path d="M445.48 247.75 450.51 251.3 458.27 249.33 453.23 245.77Z"/>
<path d="M478.82 249.38 483.85 253.15 491.61 251.51 486.57 247.73Z"/>
<path d="M224.89 274 229.92 276.13 237.68 271.96 232.64 269.83Z"/>
<path d="M512.16 252.43 517.19 256.43 524.95 255.11 519.91 251.12Z"/>
<path d="M258.23 266.2 263.26 268.54 271.02 264.71 265.98 262.36Z"/>
<path d="M545.5 256.91 550.54 261.13 558.29 260.14 553.25 255.93Z"/>
<path d="M291.57 259.82 296.6 262.39 304.36 258.88 299.32 256.31Z"/>
<path d="M578.84 262.82 583.88 267.25 591.63 266.6 586.59 262.16Z"/>
<path d="M324.91 254.87 329.94 257.66 337.7 254.48 332.66 251.69Z"/>
<path d="M612.18 270.15 617.22 274.8 624.97 274.48 619.93 269.83Z"/>
<path d="M358.25 251.35 363.29 254.35 371.04 251.5 366 248.5Z"/>
<path d="M645.52 278.91 650.56 283.78 658.31 283.78 653.27 278.91Z"/>
<path d="M391.59 249.25 396.63 252.47 404.38 249.95 399.34 246.73Z"/>
<path d="M424.93 248.58 429.97 252.02 437.72 249.83 432.68 246.38Z"/>
<path d="M458.27 249.33 463.31 252.99 471.06 251.13 466.02 247.47Z"/>
<path d="M491.61 251.51 496.65 255.39 504.4 253.86 499.36 249.97Z"/>
<path d="M237.68 271.96 242.72 274.2 250.47 270.14 245.43 267.9Z"/>
<path d="M524.95 255.11 529.99 259.21 537.74 258.01 532.7 253.91Z"/>
<path d="M271.02 264.71 276.06 267.16 283.81 263.44 278.77 260.98Z"/>
<path d="M558.29 260.14 563.33 264.46 571.08 263.59 566.05 259.27Z"/>
<path d="M304.36 258.88 309.4 261.56 317.15 258.16 312.11 255.48Z"/>
<path d="M591.63 266.6 596.67 271.14 604.42 270.59 599.39 266.05Z"/>
<path d="M337.7 254.48 342.74 257.38 350.49 254.31 345.46 251.41Z"/>
<path d="M624.97 274.48 630.01 279.24 637.76 279.02 632.73 274.26Z"/>
<path d="M371.04 251.5 376.08 254.62 383.83 251.88 378.8 248.76Z"/>
<path d="M658.31 283.78 663.35 288.76 671.1 288.88 666.07 283.9Z"/>
<path d="M404.38 249.95 409.42 253.29 417.17 250.88 412.14 247.54Z"/>
<path d="M437.72 249.83 442.76 253.38 450.51 251.3 445.48 247.75Z"/>
<path d="M471.06 251.13 476.1 254.9 483.85 253.15 478.82 249.38Z"/>
<path d="M504.4 253.86 509.44 257.85 517.19 256.43 512.16 252.43Z"/>
<path d="M250.47 270.14 255.51 272.49 263.26 268.54 258.23 266.2Z"/>
<path d="M537.74 258.01 542.78 262.22 550.54 261.13 545.5 256.91Z"/>
<path d="M283.81 263.44 288.85 266 296.6 262.39 291.57 259.82Z"/>
<path d="M571.08 263.59 576.12 268.02 583.88 267.25 578.84 262.82Z"/>
<path d="M317.15 258.16 322.19 260.95 329.94 257.66 324.91 254.87Z"/>
<path d="M604.42 270.59 609.46 275.24 617.22 274.8 612.18 270.15Z"/>
<path d="M350.49 254.31 355.53 257.31 363.29 254.35 358.25 251.35Z"/>
<path d="M637.76 279.02 642.8 283.89 650.56 283.78 645.52 278.91Z"/>
<path d="M383.83 251.88 388.87 255.1 396.63 252.47 391.59 249.25Z"/>
<path d="M417.17 250.88 422.21 254.32 429.97 252.02 424.93 248.58Z"/>
<path d="M450.51 251.3 455.55 254.96 463.31 252.99 458.27 249.33Z"/>
<path d="M483.85 253.15 488.89 257.03 496.65 255.39 491.61 251.51Z"/>
<path d="M229.92 276.13 234.96 278.36 242.72 274.2 237.68 271.96Z"/>
<path d="M517.19 256.43 522.23 260.53 529.99 259.21 524.95 255.11Z"/>
<path d="M263.26 268.54 268.3 271 276.06 267.16 271.02 264.71Z"/>
<path d="M550.54 261.13 555.57 265.45 563.33 264.46 558.29 260.14Z"/>
<path d="M296.6 262.39 301.64 265.06 309.4 261.56 304.36 258.88Z"/>
<path d="M583.88 267.25 588.91 271.79 596.67 271.14 591.63 266.6Z"/>
<path d="M329.94 257.66 334.98 260.55 342.74 257.38 337.7 254.48Z"/>
<path d="M617.22 274.8 622.25 279.57 630.01 279.24 624.97 274.48Z"/>
<path d="M363.29 254.35 368.32 257.47 376.08 254.62 371.04 251.5Z"/>
<path d="M650.56 283.78 655.59 288.76 663.35 288.76 658.31 283.78Z"/>
<path d="M396.63 252.47 401.66 255.81 409.42 253.29 404.38 249.95Z"/>
<path d="M429.97 252.02 435 255.57 442.76 253.38 437.72 249.83Z"/>
<path d="M463.31 252.99 468.34 256.77 476.1 254.9 471.06 251.13Z"/>
<path d="M496.65 255.39 501.68 259.38 509.44 257.85 504.4 253.86Z"/>
<path d="M242.72 274.2 247.75 276.55 255.51 272.49 250.47 270.14Z"/>
<path d="M529.99 259.21 535.02 263.43 542.78 262.22 537.74 258.01Z"/>
<path d="M276.06 267.16 281.09 269.73 288.85 266 283.81 263.44Z"/>
<path d="M563.33 264.46 568.37 268.89 576.12 268.02 571.08 263.59Z"/>
<path d="M309.4 261.56 314.43 264.34 322.19 260.95 317.15 258.16Z"/>
<path d="M596.67 271.14 601.71 275.79 609.46 275.24 604.42 270.59Z"/>
<path d="M342.74 257.38 347.78 260.38 355.53 257.31 350.49 254.31Z"/>
<path d="M630.01 279.24 635.05 284.11 642.8 283.89 637.76 279.02Z"/>
<path d="M376.08 254.62 381.12 257.84 388.87 255.1 383.83 251.88Z"/>
<path d="M409.42 253.29 414.46 256.73 422.21 254.32 417.17 250.88Z"/>
<path d="M442.76 253.38 447.8 257.05 455.55 254.96 450.51 251.3Z"/>
<path d="M476.1 254.9 481.14 258.79 488.89 257.03 483.85 253.15Z"/>
<path d="M509.44 257.85 514.48 261.95 522.23 260.53 517.19 256.43Z"/>
<path d="M255.51 272.49 260.55 274.95 268.3 271 263.26 268.54Z"/>
<path d="M542.78 262.22 547.82 266.54 555.57 265.45 550.54 261.13Z"/>
<path d="M288.85 266 293.89 268.68 301.64 265.06 296.6 262.39Z"/>
<path d="M576.12 268.02 581.16 272.56 588.91 271.79 583.88 267.25Z"/>
<path d="M322.19 260.95 327.23 263.84 334.98 260.55 329.94 257.66Z"/>
<path d="M609.46 275.24 614.5 280 622.25 279.57 617.22 274.8Z"/>
<path d="M355.53 257.31 360.57 260.43 368.32 257.47 363.29 254.35Z"/>
<path d="M642.8 283.89 647.84 288.87 655.59 288.76 650.56 283.78Z"/>
<path d="M388.87 255.1 393.91 258.44 401.66 255.81 396.63 252.47Z"/>
<path d="M422.21 254.32 427.25 257.88 435 255.57 429.97 252.02Z"/>
<path d="M455.55 254.96 460.59 258.74 468.34 256.77 463.31 252.99Z"/>
<path d="M488.89 257.03 493.93 261.03 501.68 259.38 496.65 255.39Z"/>
<path d="M234.96 278.36 240 280.71 247.75 276.55 242.72 274.2Z"/>
<path d="M522.23 260.53 527.27 264.74 535.02 263.43 529.99 259.21Z"/>
<path d="M268.3 271 273.34 273.57 281.09 269.73 276.06 267.16Z"/>
<path d="M555.57 265.45 560.61 269.88 568.37 268.89 563.33 264.46Z"/>
<path d="M301.64 265.06 306.68 267.85 314.43 264.34 309.4 261.56Z"/>
<path d="M588.91 271.79 593.95 276.44 601.71 275.79 596.67 271.14Z"/>
<path d="M334.98 260.55 340.02 263.56 347.78 260.38 342.74 257.38Z"/>
<path d="M622.25 279.57 627.29 284.44 635.05 284.11 630.01 279.24Z"/>
<path d="M368.32 257.47 373.36 260.69 381.12 257.84 376.08 254.62Z"/>
<path d="M401.66 255.81 406.7 259.25 414.46 256.73 409.42 253.29Z"/>
<path d="M435 255.57 440.04 259.24 447.8 257.05 442.76 253.38Z"/>
<path d="M468.34 256.77 473.38 260.65 481.14 258.79 476.1 254.9Z"/>
<path d="M501.68 259.38 506.72 263.49 514.48 261.95 509.44 257.85Z"/>
<path d="M247.75 276.55 252.79 279 260.55 274.95 255.51 272.49Z"/>
<path d="M535.02 263.43 540.06 267.75 547.82 266.54 542.78 262.22Z"/>
<path d="M281.09 269.73 286.13 272.41 293.89 268.68 288.85 266Z"/>
<path d="M568.37 268.89 573.4 273.44 581.16 272.56 576.12 268.02Z"/>
<path d="M314.43 264.34 319.47 267.24 327.23 263.84 322.19 260.95Z"/>
<path d="M601.71 275.79 606.74 280.55 614.5 280 609.46 275.24Z"/>
<path d="M347.78 260.38 352.81 263.5 360.57 260.43 355.53 257.31Z"/>
<path d="M635.05 284.11 640.08 289.09 647.84 288.87 642.8 283.89Z"/>
<path d="M381.12 257.84 386.15 261.18 393.91 258.44 388.87 255.1Z"/>
<path d="M414.46 256.73 419.49 260.29 427.25 257.88 422.21 254.32Z"/>
<path d="M447.8 257.05 452.83 260.82 460.59 258.74 455.55 254.96Z"/>
<path d="M481.14 258.79 486.17 262.78 493.93 261.03 488.89 257.03Z"/>
<path d="M514.48 261.95 519.51 266.16 527.27 264.74 522.23 260.53Z"/>
<path d="M260.55 274.95 265.58 277.51 273.34 273.57 268.3 271Z"/>
<path d="M547.82 266.54 552.86 270.97 560.61 269.88 555.57 265.45Z"/>
<path d="M293.89 268.68 298.92 271.47 306.68 267.85 301.64 265.06Z"/>
<path d="M581.16 272.56 586.2 277.21 593.95 276.44 588.91 271.79Z"/>
<path d="M327.23 263.84 332.26 266.85 340.02 263.56 334.98 260.55Z"/>
<path d="M614.5 280 619.54 284.87 627.29 284.44 622.25 279.57Z"/>
<path d="M360.57 260.43 365.61 263.65 373.36 260.69 368.32 257.47Z"/>
<path d="M393.91 258.44 398.95 261.88 406.7 259.25 401.66 255.81Z"/>
<path d="M427.25 257.88 432.29 261.54 440.04 259.24 435 255.57Z"/>
<path d="M460.59 258.74 465.63 262.62 473.38 260.65 468.34 256.77Z"/>
<path d="M493.93 261.03 498.97 265.13 506.72 263.49 501.68 259.38Z"/>
<path d="M240 280.71 245.04 283.17 252.79 279 247.75 276.55Z"/>
<path d="M527.27 264.74 532.31 269.06 540.06 267.75 535.02 263.43Z"/>
<path d="M273.34 273.57 278.38 276.25 286.13 272.41 281.09 269.73Z"/>
<path d="M560.61 269.88 565.65 274.42 573.4 273.44 568.37 268.89Z"/>
<path d="M306.68 267.85 311.72 270.75 319.47 267.24 314.43 264.34Z"/>
<path d="M593.95 276.44 598.99 281.21 606.74 280.55 601.71 275.79Z"/>
<path d="M340.02 263.56 345.06 266.68 352.81 263.5 347.78 260.38Z"/>
<path d="M627.29 284.44 632.33 289.42 640.08 289.09 635.05 284.11Z"/>
<path d="M373.36 260.69 378.4 264.03 386.15 261.18 381.12 257.84Z"/>
<path d="M406.7 259.25 411.74 262.81 419.49 260.29 414.46 256.73Z"/>
<path d="M440.04 259.24 445.08 263.01 452.83 260.82 447.8 257.05Z"/>
<path d="M473.38 260.65 478.42 264.64 486.17 262.78 481.14 258.79Z"/>
<path d="M506.72 263.49 511.76 267.7 519.51 266.16 514.48 261.95Z"/>
<path d="M252.79 279 257.83 281.57 265.58 277.51 260.55 274.95Z"/>
<path d="M540.06 267.75 545.1 272.18 552.86 270.97 547.82 266.54Z"/>
<path d="M286.13 272.41 291.17 275.2 298.92 271.47 293.89 268.68Z"/>
<path d="M573.4 273.44 578.44 278.09 586.2 277.21 581.16 272.56Z"/>
<path d="M319.47 267.24 324.51 270.25 332.26 266.85 327.23 263.84Z"/>
<path d="M606.74 280.55 611.78 285.42 619.54 284.87 614.5 280Z"/>
<path d="M352.81 263.5 357.85 266.72 365.61 263.65 360.57 260.43Z"/>
<path d="M386.15 261.18 391.19 264.62 398.95 261.88 393.91 258.44Z"/>
<path d="M419.49 260.29 424.53 263.95 432.29 261.54 427.25 257.88Z"/>
<path d="M452.83 260.82 457.87 264.7 465.63 262.62 460.59 258.74Z"/>
<path d="M486.17 262.78 491.21 266.88 498.97 265.13 493.93 261.03Z"/>
<path d="M519.51 266.16 524.55 270.49 532.31 269.06 527.27 264.74Z"/>
<path d="M265.58 277.51 270.62 280.19 278.38 276.25 273.34 273.57Z"/>
<path d="M552.86 270.97 557.89 275.52 565.65 274.42 560.61 269.88Z"/>
<path d="M298.92 271.47 303.96 274.36 311.72 270.75 306.68 267.85Z"/>
<path d="M586.2 277.21 591.23 281.97 598.99 281.21 593.95 276.44Z"/>
<path d="M332.26 266.85 337.3 269.96 345.06 266.68 340.02 263.56Z"/>
<path d="M619.54 284.87 624.57 289.85 632.33 289.42 627.29 284.44Z"/>
<path d="M365.61 263.65 370.64 266.99 378.4 264.03 373.36 260.69Z"/>
<path d="M398.95 261.88 403.98 265.44 411.74 262.81 406.7 259.25Z"/>
<path d="M432.29 261.54 437.32 265.31 445.08 263.01 440.04 259.24Z"/>
<path d="M465.63 262.62 470.66 266.61 478.42 264.64 473.38 260.65Z"/>
<path d="M498.97 265.13 504 269.34 511.76 267.7 506.72 263.49Z"/>
<path d="M245.04 283.17 250.07 285.74 257.83 281.57 252.79 279Z"/>
<path d="M532.31 269.06 537.34 273.49 545.1 272.18 540.06 267.75Z"/>
<path d="M278.38 276.25 283.41 279.03 291.17 275.2 286.13 272.41Z"/>
<path d="M565.65 274.42 570.69 279.07 578.44 278.09 573.4 273.44Z"/>
<path d="M311.72 270.75 316.75 273.75 324.51 270.25 319.47 267.24Z"/>
<path d="M598.99 281.21 604.03 286.08 611.78 285.42 606.74 280.55Z"/>
<path d="M345.06 266.68 350.1 269.9 357.85 266.72 352.81 263.5Z"/>
<path d="M378.4 264.03 383.44 267.47 391.19 264.62 386.15 261.18Z"/>
<path d="M411.74 262.81 416.78 266.47 424.53 263.95 419.49 260.29Z"/>
<path d="M445.08 263.01 450.12 266.9 457.87 264.7 452.83 260.82Z"/>
<path d="M478.42 264.64 483.46 268.74 491.21 266.88 486.17 262.78Z"/>
<path d="M511.76 267.7 516.8 272.02 524.55 270.49 519.51 266.16Z"/>
<path d="M257.83 281.57 262.87 284.25 270.62 280.19 265.58 277.51Z"/>
<path d="M545.1 272.18 550.14 276.72 557.89 275.52 552.86 270.97Z"/>
<path d="M291.17 275.2 296.21 278.09 303.96 274.36 298.92 271.47Z"/>
<path d="M578.44 278.09 583.48 282.85 591.23 281.97 586.2 277.21Z"/>
<path d="M324.51 270.25 329.55 273.36 337.3 269.96 332.26 266.85Z"/>
<path d="M611.78 285.42 616.82 290.4 624.57 289.85 619.54 284.87Z"/>
<path d="M357.85 266.72 362.89 270.06 370.64 266.99 365.61 263.65Z"/>
<path d="M391.19 264.62 396.23 268.18 403.98 265.44 398.95 261.88Z"/>
<path d="M424.53 263.95 429.57 267.72 437.32 265.31 432.29 261.54Z"/>
<path d="M457.87 264.7 462.91 268.7 470.66 266.61 465.63 262.62Z"/>
<path d="M491.21 266.88 496.25 271.09 504 269.34 498.97 265.13Z"/>
<path d="M524.55 270.49 529.59 274.92 537.34 273.49 532.31 269.06Z"/>
<path d="M270.62 280.19 275.66 282.98 283.41 279.03 278.38 276.25Z"/>
<path d="M557.89 275.52 562.93 280.17 570.69 279.07 565.65 274.42Z"/>
<path d="M303.96 274.36 309 277.37 316.75 273.75 311.72 270.75Z"/>
<path d="M591.23 281.97 596.27 286.84 604.03 286.08 598.99 281.21Z"/>
<path d="M337.3 269.96 342.34 273.19 350.1 269.9 345.06 266.68Z"/>
<path d="M370.64 266.99 375.68 270.43 383.44 267.47 378.4 264.03Z"/>
<path d="M403.98 265.44 409.02 269.1 416.78 266.47 411.74 262.81Z"/>
<path d="M437.32 265.31 442.36 269.2 450.12 266.9 445.08 263.01Z"/>
<path d="M470.66 266.61 475.7 270.72 483.46 268.74 478.42 264.64Z"/>
<path d="M504 269.34 509.04 273.66 516.8 272.02 511.76 267.7Z"/>
<path d="M250.07 285.74 255.11 288.41 262.87 284.25 257.83 281.57Z"/>
<path d="M537.34 273.49 542.38 278.04 550.14 276.72 545.1 272.18Z"/>
<path d="M283.41 279.03 288.45 281.93 296.21 278.09 291.17 275.2Z"/>
<path d="M570.69 279.07 575.72 283.83 583.48 282.85 578.44 278.09Z"/>
<path d="M316.75 273.75 321.79 276.87 329.55 273.36 324.51 270.25Z"/>
<path d="M604.03 286.08 609.06 291.06 616.82 290.4 611.78 285.42Z"/>
<path d="M350.1 269.9 355.13 273.24 362.89 270.06 357.85 266.72Z"/>
<path d="M383.44 267.47 388.47 271.03 396.23 268.18 391.19 264.62Z"/>
<path d="M416.78 266.47 421.81 270.24 429.57 267.72 424.53 263.95Z"/>
<path d="M450.12 266.9 455.15 270.89 462.91 268.7 457.87 264.7Z"/>
<path d="M483.46 268.74 488.49 272.96 496.25 271.09 491.21 266.88Z"/>
<path d="M516.8 272.02 521.83 276.45 529.59 274.92 524.55 270.49Z"/>
<path d="M262.87 284.25 267.9 287.03 275.66 282.98 270.62 280.19Z"/>
<path d="M550.14 276.72 555.18 281.37 562.93 280.17 557.89 275.52Z"/>
<path d="M296.21 278.09 301.24 281.1 309 277.37 303.96 274.36Z"/>
<path d="M583.48 282.85 588.52 287.72 596.27 286.84 591.23 281.97Z"/>
<path d="M329.55 273.36 334.58 276.59 342.34 273.19 337.3 269.96Z"/>
<path d="M362.89 270.06 367.93 273.5 375.68 270.43 370.64 266.99Z"/>
<path d="M396.23 268.18 401.27 271.84 409.02 269.1 403.98 265.44Z"/>
<path d="M429.57 267.72 434.61 271.61 442.36 269.2 437.32 265.31Z"/>
<path d="M462.91 268.7 467.95 272.8 475.7 270.72 470.66 266.61Z"/>
<path d="M496.25 271.09 501.29 275.42 509.04 273.66 504 269.34Z"/>
<path d="M529.59 274.92 534.63 279.46 542.38 278.04 537.34 273.49Z"/>
<path d="M275.66 282.98 280.7 285.87 288.45 281.93 283.41 279.03Z"/>
<path d="M562.93 280.17 567.97 284.93 575.72 283.83 570.69 279.07Z"/>
<path d="M309 277.37 314.04 280.49 321.79 276.87 316.75 273.75Z"/>
<path d="M596.27 286.84 601.31 291.82 609.06 291.06 604.03 286.08Z"/>
<path d="M342.34 273.19 347.38 276.52 355.13 273.24 350.1 269.9Z"/>
<path d="M375.68 270.43 380.72 273.99 388.47 271.03 383.44 267.47Z"/>
<path d="M409.02 269.1 414.06 272.88 421.81 270.24 416.78 266.47Z"/>
<path d="M442.36 269.2 447.4 273.19 455.15 270.89 450.12 266.9Z"/>
<path d="M475.7 270.72 480.74 274.93 488.49 272.96 483.46 268.74Z"/>
<path d="M509.04 273.66 514.08 278.09 521.83 276.45 516.8 272.02Z"/>
<path d="M255.11 288.41 260.15 291.2 267.9 287.03 262.87 284.25Z"/>
<path d="M542.38 278.04 547.42 282.69 555.18 281.37 550.14 276.72Z"/>
<path d="M288.45 281.93 293.49 284.93 301.24 281.1 296.21 278.09Z"/>
<path d="M575.72 283.83 580.76 288.7 588.52 287.72 583.48 282.85Z"/>
<path d="M321.79 276.87 326.83 280.09 334.58 276.59 329.55 273.36Z"/>
<path d="M355.13 273.24 360.17 276.68 367.93 273.5 362.89 270.06Z"/>
<path d="M388.47 271.03 393.51 274.69 401.27 271.84 396.23 268.18Z"/>
<path d="M421.81 270.24 426.85 274.13 434.61 271.61 429.57 267.72Z"/>
<path d="M455.15 270.89 460.19 274.99 467.95 272.8 462.91 268.7Z"/>
<path d="M488.49 272.96 493.53 277.28 501.29 275.42 496.25 271.09Z"/>
<path d="M521.83 276.45 526.87 280.99 534.63 279.46 529.59 274.92Z"/>
<path d="M267.9 287.03 272.94 289.93 280.7 285.87 275.66 282.98Z"/>
<path d="M555.18 281.37 560.21 286.13 567.97 284.93 562.93 280.17Z"/>
<path d="M301.24 281.1 306.28 284.21 314.04 280.49 309 277.37Z"/>
<path d="M588.52 287.72 593.55 292.7 601.31 291.82 596.27 286.84Z"/>
<path d="M334.58 276.59 339.62 279.92 347.38 276.52 342.34 273.19Z"/>
<path d="M367.93 273.5 372.96 277.06 380.72 273.99 375.68 270.43Z"/>
<path d="M401.27 271.84 406.3 275.62 414.06 272.88 409.02 269.1Z"/>
<path d="M434.61 271.61 439.64 275.6 447.4 273.19 442.36 269.2Z"/>
<path d="M467.95 272.8 472.98 277.01 480.74 274.93 475.7 270.72Z"/>
<path d="M501.29 275.42 506.32 279.85 514.08 278.09 509.04 273.66Z"/>
<path d="M534.63 279.46 539.66 284.11 547.42 282.69 542.38 278.04Z"/>
<path d="M280.7 285.87 285.73 288.88 293.49 284.93 288.45 281.93Z"/>
<path d="M567.97 284.93 573.01 289.8 580.76 288.7 575.72 283.83Z"/>
<path d="M314.04 280.49 319.07 283.71 326.83 280.09 321.79 276.87Z"/>
<path d="M347.38 276.52 352.42 279.97 360.17 276.68 355.13 273.24Z"/>
<path d="M380.72 273.99 385.76 277.65 393.51 274.69 388.47 271.03Z"/>
<path d="M414.06 272.88 419.1 276.76 426.85 274.13 421.81 270.24Z"/>
<path d="M447.4 273.19 452.44 277.29 460.19 274.99 455.15 270.89Z"/>
<path d="M480.74 274.93 485.78 279.25 493.53 277.28 488.49 272.96Z"/>
<path d="M514.08 278.09 519.12 282.64 526.87 280.99 521.83 276.45Z"/>
<path d="M260.15 291.2 265.19 294.1 272.94 289.93 267.9 287.03Z"/>
<path d="M547.42 282.69 552.46 287.45 560.21 286.13 555.18 281.37Z"/>
<path d="M293.49 284.93 298.53 288.05 306.28 284.21 301.24 281.1Z"/>
<path d="M580.76 288.7 585.8 293.68 593.55 292.7 588.52 287.72Z"/>
<path d="M326.83 280.09 331.87 283.43 339.62 279.92 334.58 276.59Z"/>
<path d="M360.17 276.68 365.21 280.23 372.96 277.06 367.93 273.5Z"/>
<path d="M393.51 274.69 398.55 278.46 406.3 275.62 401.27 271.84Z"/>
<path d="M426.85 274.13 431.89 278.12 439.64 275.6 434.61 271.61Z"/>
<path d="M460.19 274.99 465.23 279.2 472.98 277.01 467.95 272.8Z"/>
<path d="M493.53 277.28 498.57 281.71 506.32 279.85 501.29 275.42Z"/>
<path d="M526.87 280.99 531.91 285.64 539.66 284.11 534.63 279.46Z"/>
<path d="M272.94 289.93 277.98 292.94 285.73 288.88 280.7 285.87Z"/>
<path d="M560.21 286.13 565.25 291 573.01 289.8 567.97 284.93Z"/>
<path d="M306.28 284.21 311.32 287.44 319.07 283.71 314.04 280.49Z"/>
<path d="M339.62 279.92 344.66 283.37 352.42 279.97 347.38 276.52Z"/>
<path d="M372.96 277.06 378 280.72 385.76 277.65 380.72 273.99Z"/>
<path d="M406.3 275.62 411.34 279.5 419.1 276.76 414.06 272.88Z"/>
<path d="M439.64 275.6 444.68 279.7 452.44 277.29 447.4 273.19Z"/>
<path d="M472.98 277.01 478.02 281.33 485.78 279.25 480.74 274.93Z"/>
<path d="M506.32 279.85 511.36 284.39 519.12 282.64 514.08 278.09Z"/>
<path d="M539.66 284.11 544.7 288.87 552.46 287.45 547.42 282.69Z"/>
<path d="M285.73 288.88 290.77 292 298.53 288.05 293.49 284.93Z"/>
<path d="M573.01 289.8 578.04 294.78 585.8 293.68 580.76 288.7Z"/>
<path d="M319.07 283.71 324.11 287.05 331.87 283.43 326.83 280.09Z"/>
<path d="M352.42 279.97 357.45 283.52 365.21 280.23 360.17 276.68Z"/>
<path d="M385.76 277.65 390.79 281.42 398.55 278.46 393.51 274.69Z"/>
<path d="M419.1 276.76 424.13 280.75 431.89 278.12 426.85 274.13Z"/>
<path d="M452.44 277.29 457.47 281.5 465.23 279.2 460.19 274.99Z"/>
<path d="M485.78 279.25 490.81 283.68 498.57 281.71 493.53 277.28Z"/>
<path d="M519.12 282.64 524.15 287.29 531.91 285.64 526.87 280.99Z"/>
<path d="M265.19 294.1 270.22 297.1 277.98 292.94 272.94 289.93Z"/>
<path d="M552.46 287.45 557.5 292.32 565.25 291 560.21 286.13Z"/>
<path d="M298.53 288.05 303.56 291.28 311.32 287.44 306.28 284.21Z"/>
<path d="M331.87 283.43 336.9 286.87 344.66 283.37 339.62 279.92Z"/>
<path d="M365.21 280.23 370.25 283.9 378 280.72 372.96 277.06Z"/>
<path d="M398.55 278.46 403.59 282.35 411.34 279.5 406.3 275.62Z"/>
<path d="M431.89 278.12 436.93 282.22 444.68 279.7 439.64 275.6Z"/>
<path d="M465.23 279.2 470.27 283.52 478.02 281.33 472.98 277.01Z"/>
<path d="M498.57 281.71 503.61 286.25 511.36 284.39 506.32 279.85Z"/>
<path d="M531.91 285.64 536.95 290.4 544.7 288.87 539.66 284.11Z"/>
<path d="M277.98 292.94 283.02 296.05 290.77 292 285.73 288.88Z"/>
<path d="M565.25 291 570.29 295.98 578.04 294.78 573.01 289.8Z"/>
<path d="M311.32 287.44 316.36 290.77 324.11 287.05 319.07 283.71Z"/>
<path d="M344.66 283.37 349.7 286.92 357.45 283.52 352.42 279.97Z"/>
<path d="M378 280.72 383.04 284.49 390.79 281.42 385.76 277.65Z"/>
<path d="M411.34 279.5 416.38 283.49 424.13 280.75 419.1 276.76Z"/>
<path d="M444.68 279.7 449.72 283.92 457.47 281.5 452.44 277.29Z"/>
<path d="M478.02 281.33 483.06 285.76 490.81 283.68 485.78 279.25Z"/>
<path d="M511.36 284.39 516.4 289.04 524.15 287.29 519.12 282.64Z"/>
<path d="M544.7 288.87 549.74 293.74 557.5 292.32 552.46 287.45Z"/>
<path d="M290.77 292 295.81 295.22 303.56 291.28 298.53 288.05Z"/>
<path d="M324.11 287.05 329.15 290.49 336.9 286.87 331.87 283.43Z"/>
<path d="M357.45 283.52 362.49 287.19 370.25 283.9 365.21 280.23Z"/>
<path d="M390.79 281.42 395.83 285.31 403.59 282.35 398.55 278.46Z"/>
<path d="M424.13 280.75 429.17 284.85 436.93 282.22 431.89 278.12Z"/>
<path d="M457.47 281.5 462.51 285.83 470.27 283.52 465.23 279.2Z"/>
<path d="M490.81 283.68 495.85 288.22 503.61 286.25 498.57 281.71Z"/>
<path d="M524.15 287.29 529.19 292.05 536.95 290.4 531.91 285.64Z"/>
<path d="M270.22 297.1 275.26 300.22 283.02 296.05 277.98 292.94Z"/>
<path d="M557.5 292.32 562.53 297.3 570.29 295.98 565.25 291Z"/>
<path d="M303.56 291.28 308.6 294.61 316.36 290.77 311.32 287.44Z"/>
<path d="M336.9 286.87 341.94 290.43 349.7 286.92 344.66 283.37Z"/>
<path d="M370.25 283.9 375.28 287.67 383.04 284.49 378 280.72Z"/>
<path d="M403.59 282.35 408.62 286.34 416.38 283.49 411.34 279.5Z"/>
<path d="M436.93 282.22 441.96 286.44 449.72 283.92 444.68 279.7Z"/>
<path d="M470.27 283.52 475.3 287.96 483.06 285.76 478.02 281.33Z"/>
<path d="M503.61 286.25 508.64 290.9 516.4 289.04 511.36 284.39Z"/>
<path d="M536.95 290.4 541.98 295.27 549.74 293.74 544.7 288.87Z"/>
<path d="M283.02 296.05 288.05 299.28 295.81 295.22 290.77 292Z"/>
<path d="M316.36 290.77 321.39 294.22 329.15 290.49 324.11 287.05Z"/>
<path d="M349.7 286.92 354.74 290.58 362.49 287.19 357.45 283.52Z"/>
<path d="M383.04 284.49 388.08 288.38 395.83 285.31 390.79 281.42Z"/>
<path d="M416.38 283.49 421.42 287.59 429.17 284.85 424.13 280.75Z"/>
<path d="M449.72 283.92 454.76 288.24 462.51 285.83 457.47 281.5Z"/>
<path d="M483.06 285.76 488.1 290.31 495.85 288.22 490.81 283.68Z"/>
<path d="M516.4 289.04 521.44 293.8 529.19 292.05 524.15 287.29Z"/>
<path d="M549.74 293.74 554.78 298.72 562.53 297.3 557.5 292.32Z"/>
<path d="M295.81 295.22 300.85 298.56 308.6 294.61 303.56 291.28Z"/>
<path d="M329.15 290.49 334.19 294.05 341.94 290.43 336.9 286.87Z"/>
<path d="M362.49 287.19 367.53 290.96 375.28 287.67 370.25 283.9Z"/>
<path d="M395.83 285.31 400.87 289.3 408.62 286.34 403.59 282.35Z"/>
<path d="M429.17 284.85 434.21 289.07 441.96 286.44 436.93 282.22Z"/>
<path d="M462.51 285.83 467.55 290.26 475.3 287.96 470.27 283.52Z"/>
<path d="M495.85 288.22 500.89 292.87 508.64 290.9 503.61 286.25Z"/>
<path d="M529.19 292.05 534.23 296.92 541.98 295.27 536.95 290.4Z"/>
<path d="M275.26 300.22 280.3 303.44 288.05 299.28 283.02 296.05Z"/>
<path d="M308.6 294.61 313.64 298.05 321.39 294.22 316.36 290.77Z"/>
<path d="M341.94 290.43 346.98 294.09 354.74 290.58 349.7 286.92Z"/>
<path d="M375.28 287.67 380.32 291.56 388.08 288.38 383.04 284.49Z"/>
<path d="M408.62 286.34 413.66 290.44 421.42 287.59 416.38 283.49Z"/>
<path d="M441.96 286.44 447 290.76 454.76 288.24 449.72 283.92Z"/>
<path d="M475.3 287.96 480.34 292.5 488.1 290.31 483.06 285.76Z"/>
<path d="M508.64 290.9 513.68 295.66 521.44 293.8 516.4 289.04Z"/>
<path d="M541.98 295.27 547.02 300.25 554.78 298.72 549.74 293.74Z"/>
<path d="M288.05 299.28 293.09 302.61 300.85 298.56 295.81 295.22Z"/>
<path d="M321.39 294.22 326.43 297.77 334.19 294.05 329.15 290.49Z"/>
<path d="M354.74 290.58 359.77 294.36 367.53 290.96 362.49 287.19Z"/>
<path d="M388.08 288.38 393.11 292.37 400.87 289.3 395.83 285.31Z"/>
<path d="M421.42 287.59 426.45 291.81 434.21 289.07 429.17 284.85Z"/>
<path d="M454.76 288.24 459.79 292.67 467.55 290.26 462.51 285.83Z"/>
<path d="M488.1 290.31 493.13 294.96 500.89 292.87 495.85 288.22Z"/>
<path d="M521.44 293.8 526.47 298.67 534.23 296.92 529.19 292.05Z"/>
<path d="M300.85 298.56 305.88 302 313.64 298.05 308.6 294.61Z"/>
<path d="M334.19 294.05 339.22 297.71 346.98 294.09 341.94 290.43Z"/>
<path d="M367.53 290.96 372.57 294.84 380.32 291.56 375.28 287.67Z"/>
<path d="M400.87 289.3 405.91 293.4 413.66 290.44 408.62 286.34Z"/>
<path d="M434.21 289.07 439.25 293.39 447 290.76 441.96 286.44Z"/>
<path d="M467.55 290.26 472.59 294.8 480.34 292.5 475.3 287.96Z"/>
<path d="M500.89 292.87 505.93 297.64 513.68 295.66 508.64 290.9Z"/>
<path d="M534.23 296.92 539.27 301.9 547.02 300.25 541.98 295.27Z"/>
<path d="M280.3 303.44 285.34 306.78 293.09 302.61 288.05 299.28Z"/>
<path d="M313.64 298.05 318.68 301.61 326.43 297.77 321.39 294.22Z"/>
<path d="M346.98 294.09 352.02 297.87 359.77 294.36 354.74 290.58Z"/>
<path d="M380.32 291.56 385.36 295.55 393.11 292.37 388.08 288.38Z"/>
<path d="M413.66 290.44 418.7 294.66 426.45 291.81 421.42 287.59Z"/>
<path d="M447 290.76 452.04 295.19 459.79 292.67 454.76 288.24Z"/>
<path d="M480.34 292.5 485.38 297.15 493.13 294.96 488.1 290.31Z"/>
<path d="M513.68 295.66 518.72 300.53 526.47 298.67 521.44 293.8Z"/>
<path d="M293.09 302.61 298.13 306.06 305.88 302 300.85 298.56Z"/>
<path d="M326.43 297.77 331.47 301.44 339.22 297.71 334.19 294.05Z"/>
<path d="M359.77 294.36 364.81 298.24 372.57 294.84 367.53 290.96Z"/>
<path d="M393.11 292.37 398.15 296.47 405.91 293.4 400.87 289.3Z"/>
<path d="M426.45 291.81 431.49 296.13 439.25 293.39 434.21 289.07Z"/>
<path d="M459.79 292.67 464.83 297.21 472.59 294.8 467.55 290.26Z"/>
<path d="M493.13 294.96 498.17 299.72 505.93 297.64 500.89 292.87Z"/>
<path d="M526.47 298.67 531.51 303.65 539.27 301.9 534.23 296.92Z"/>
<path d="M305.88 302 310.92 305.56 318.68 301.61 313.64 298.05Z"/>
<path d="M339.22 297.71 344.26 301.48 352.02 297.87 346.98 294.09Z"/>
<path d="M372.57 294.84 377.6 298.84 385.36 295.55 380.32 291.56Z"/>
<path d="M405.91 293.4 410.94 297.62 418.7 294.66 413.66 290.44Z"/>
<path d="M439.25 293.39 444.28 297.82 452.04 295.19 447 290.76Z"/>
<path d="M472.59 294.8 477.62 299.45 485.38 297.15 480.34 292.5Z"/>
<path d="M505.93 297.64 510.96 302.51 518.72 300.53 513.68 295.66Z"/>
<path d="M285.34 306.78 290.37 310.22 298.13 306.06 293.09 302.61Z"/>
<path d="M318.68 301.61 323.71 305.27 331.47 301.44 326.43 297.77Z"/>
<path d="M352.02 297.87 357.06 301.75 364.81 298.24 359.77 294.36Z"/>
<path d="M385.36 295.55 390.4 299.65 398.15 296.47 393.11 292.37Z"/>
<path d="M418.7 294.66 423.74 298.98 431.49 296.13 426.45 291.81Z"/>
<path d="M452.04 295.19 457.08 299.73 464.83 297.21 459.79 292.67Z"/>
<path d="M485.38 297.15 490.42 301.91 498.17 299.72 493.13 294.96Z"/>
<path d="M518.72 300.53 523.76 305.51 531.51 303.65 526.47 298.67Z"/>
<path d="M298.13 306.06 303.17 309.61 310.92 305.56 305.88 302Z"/>
<path d="M331.47 301.44 336.51 305.21 344.26 301.48 339.22 297.71Z"/>
<path d="M364.81 298.24 369.85 302.23 377.6 298.84 372.57 294.84Z"/>
<path d="M398.15 296.47 403.19 300.68 410.94 297.62 405.91 293.4Z"/>
<path d="M431.49 296.13 436.53 300.56 444.28 297.82 439.25 293.39Z"/>
<path d="M464.83 297.21 469.87 301.86 477.62 299.45 472.59 294.8Z"/>
<path d="M498.17 299.72 503.21 304.59 510.96 302.51 505.93 297.64Z"/>
<path d="M310.92 305.56 315.96 309.22 323.71 305.27 318.68 301.61Z"/>
<path d="M344.26 301.48 349.3 305.37 357.06 301.75 352.02 297.87Z"/>
<path d="M377.6 298.84 382.64 302.94 390.4 299.65 385.36 295.55Z"/>
<path d="M410.94 297.62 415.98 301.94 423.74 298.98 418.7 294.66Z"/>
<path d="M444.28 297.82 449.32 302.36 457.08 299.73 452.04 295.19Z"/>
<path d="M477.62 299.45 482.66 304.21 490.42 301.91 485.38 297.15Z"/>
<path d="M510.96 302.51 516 307.49 523.76 305.51 518.72 300.53Z"/>
<path d="M290.37 310.22 295.41 313.78 303.17 309.61 298.13 306.06Z"/>
<path d="M323.71 305.27 328.75 309.05 336.51 305.21 331.47 301.44Z"/>
<path d="M357.06 301.75 362.09 305.74 369.85 302.23 364.81 298.24Z"/>
<path d="M390.4 299.65 395.43 303.86 403.19 300.68 398.15 296.47Z"/>
<path d="M423.74 298.98 428.77 303.41 436.53 300.56 431.49 296.13Z"/>
<path d="M457.08 299.73 462.11 304.38 469.87 301.86 464.83 297.21Z"/>
<path d="M490.42 301.91 495.45 306.78 503.21 304.59 498.17 299.72Z"/>
<path d="M303.17 309.61 308.2 313.28 315.96 309.22 310.92 305.56Z"/>
<path d="M336.51 305.21 341.54 309.09 349.3 305.37 344.26 301.48Z"/>
<path d="M369.85 302.23 374.89 306.34 382.64 302.94 377.6 298.84Z"/>
<path d="M403.19 300.68 408.23 305.01 415.98 301.94 410.94 297.62Z"/>
<path d="M436.53 300.56 441.57 305.1 449.32 302.36 444.28 297.82Z"/>
<path d="M469.87 301.86 474.91 306.62 482.66 304.21 477.62 299.45Z"/>
<path d="M503.21 304.59 508.25 309.57 516 307.49 510.96 302.51Z"/>
<path d="M315.96 309.22 321 312.99 328.75 309.05 323.71 305.27Z"/>
<path d="M349.3 305.37 354.34 309.36 362.09 305.74 357.06 301.75Z"/>
<path d="M382.64 302.94 387.68 307.15 395.43 303.86 390.4 299.65Z"/>
<path d="M415.98 301.94 421.02 306.37 428.77 303.41 423.74 298.98Z"/>
<path d="M449.32 302.36 454.36 307.01 462.11 304.38 457.08 299.73Z"/>
<path d="M482.66 304.21 487.7 309.08 495.45 306.78 490.42 301.91Z"/>
<path d="M295.41 313.78 300.45 317.44 308.2 313.28 303.17 309.61Z"/>
<path d="M328.75 309.05 333.79 312.93 341.54 309.09 336.51 305.21Z"/>
<path d="M362.09 305.74 367.13 309.84 374.89 306.34 369.85 302.23Z"/>
<path d="M395.43 303.86 400.47 308.18 408.23 305.01 403.19 300.68Z"/>
<path d="M428.77 303.41 433.81 307.95 441.57 305.1 436.53 300.56Z"/>
<path d="M462.11 304.38 467.15 309.14 474.91 306.62 469.87 301.86Z"/>
<path d="M495.45 306.78 500.49 311.76 508.25 309.57 503.21 304.59Z"/>
<path d="M308.2 313.28 313.24 317.05 321 312.99 315.96 309.22Z"/>
<path d="M341.54 309.09 346.58 313.09 354.34 309.36 349.3 305.37Z"/>
<path d="M374.89 306.34 379.92 310.55 387.68 307.15 382.64 302.94Z"/>
<path d="M408.23 305.01 413.26 309.44 421.02 306.37 415.98 301.94Z"/>
<path d="M441.57 305.1 446.6 309.75 454.36 307.01 449.32 302.36Z"/>
<path d="M474.91 306.62 479.94 311.49 487.7 309.08 482.66 304.21Z"/>
<path d="M321 312.99 326.03 316.88 333.79 312.93 328.75 309.05Z"/>
<path d="M354.34 309.36 359.38 313.46 367.13 309.84 362.09 305.74Z"/>
<path d="M387.68 307.15 392.72 311.47 400.47 308.18 395.43 303.86Z"/>
<path d="M421.02 306.37 426.06 310.91 433.81 307.95 428.77 303.41Z"/>
<path d="M454.36 307.01 459.4 311.77 467.15 309.14 462.11 304.38Z"/>
<path d="M487.7 309.08 492.74 314.06 500.49 311.76 495.45 306.78Z"/>
<path d="M300.45 317.44 305.49 321.21 313.24 317.05 308.2 313.28Z"/>
<path d="M333.79 312.93 338.83 316.92 346.58 313.09 341.54 309.09Z"/>
<path d="M367.13 309.84 372.17 314.06 379.92 310.55 374.89 306.34Z"/>
<path d="M400.47 308.18 405.51 312.62 413.26 309.44 408.23 305.01Z"/>
<path d="M433.81 307.95 438.85 312.6 446.6 309.75 441.57 305.1Z"/>
<path d="M467.15 309.14 472.19 314.01 479.94 311.49 474.91 306.62Z"/>
<path d="M313.24 317.05 318.28 320.93 326.03 316.88 321 312.99Z"/>
<path d="M346.58 313.09 351.62 317.19 359.38 313.46 354.34 309.36Z"/>
<path d="M379.92 310.55 384.96 314.87 392.72 311.47 387.68 307.15Z"/>
<path d="M413.26 309.44 418.3 313.98 426.06 310.91 421.02 306.37Z"/>
<path d="M446.6 309.75 451.64 314.51 459.4 311.77 454.36 307.01Z"/>
<path d="M479.94 311.49 484.98 316.47 492.74 314.06 487.7 309.08Z"/>
<path d="M326.03 316.88 331.07 320.87 338.83 316.92 333.79 312.93Z"/>
<path d="M359.38 313.46 364.41 317.67 372.17 314.06 367.13 309.84Z"/>
<path d="M392.72 311.47 397.75 315.9 405.51 312.62 400.47 308.18Z"/>
<path d="M426.06 310.91 431.09 315.56 438.85 312.6 433.81 307.95Z"/>
<path d="M459.4 311.77 464.43 316.64 472.19 314.01 467.15 309.14Z"/>
<path d="M305.49 321.21 310.52 325.1 318.28 320.93 313.24 317.05Z"/>
<path d="M338.83 316.92 343.86 321.03 351.62 317.19 346.58 313.09Z"/>
<path d="M372.17 314.06 377.21 318.38 384.96 314.87 379.92 310.55Z"/>
<path d="M405.51 312.62 410.55 317.16 418.3 313.98 413.26 309.44Z"/>
<path d="M438.85 312.6 443.89 317.36 451.64 314.51 446.6 309.75Z"/>
<path d="M472.19 314.01 477.23 318.99 484.98 316.47 479.94 311.49Z"/>
<path d="M318.28 320.93 323.32 324.93 331.07 320.87 326.03 316.88Z"/>
<path d="M351.62 317.19 356.66 321.4 364.41 317.67 359.38 313.46Z"/>
<path d="M384.96 314.87 390 319.3 397.75 315.9 392.72 311.47Z"/>
<path d="M418.3 313.98 423.34 318.63 431.09 315.56 426.06 310.91Z"/>
<path d="M451.64 314.51 456.68 319.38 464.43 316.64 459.4 311.77Z"/>
<path d="M331.07 320.87 336.11 324.97 343.86 321.03 338.83 316.92Z"/>
<path d="M364.41 317.67 369.45 322 377.21 318.38 372.17 314.06Z"/>
<path d="M397.75 315.9 402.79 320.45 410.55 317.16 405.51 312.62Z"/>
<path d="M431.09 315.56 436.13 320.32 443.89 317.36 438.85 312.6Z"/>
<path d="M464.43 316.64 469.47 321.62 477.23 318.99 472.19 314.01Z"/>
<path d="M310.52 325.1 315.56 329.09 323.32 324.93 318.28 320.93Z"/>
<path d="M343.86 321.03 348.9 325.24 356.66 321.4 351.62 317.19Z"/>
<path d="M377.21 318.38 382.24 322.81 390 319.3 384.96 314.87Z"/>
<path d="M410.55 317.16 415.58 321.81 423.34 318.63 418.3 313.98Z"/>
<path d="M443.89 317.36 448.92 322.23 456.68 319.38 451.64 314.51Z"/>
<path d="M323.32 324.93 328.35 329.03 336.11 324.97 331.07 320.87Z"/>
<path d="M356.66 321.4 361.7 325.72 369.45 322 364.41 317.67Z"/>
<path d="M390 319.3 395.04 323.84 402.79 320.45 397.75 315.9Z"/>
<path d="M423.34 318.63 428.38 323.39 436.13 320.32 431.09 315.56Z"/>
<path d="M456.68 319.38 461.72 324.36 469.47 321.62 464.43 316.64Z"/>
<path d="M336.11 324.97 341.15 329.18 348.9 325.24 343.86 321.03Z"/>
<path d="M369.45 322 374.49 326.43 382.24 322.81 377.21 318.38Z"/>
<path d="M402.79 320.45 407.83 325.1 415.58 321.81 410.55 317.16Z"/>
<path d="M436.13 320.32 441.17 325.19 448.92 322.23 443.89 317.36Z"/>
<path d="M315.56 329.09 320.6 333.19 328.35 329.03 323.32 324.93Z"/>
<path d="M348.9 325.24 353.94 329.56 361.7 325.72 356.66 321.4Z"/>
<path d="M382.24 322.81 387.28 327.35 395.04 323.84 390 319.3Z"/>
<path d="M415.58 321.81 420.62 326.57 428.38 323.39 423.34 318.63Z"/>
<path d="M448.92 322.23 453.96 327.21 461.72 324.36 456.68 319.38Z"/>
<path d="M328.35 329.03 333.39 333.24 341.15 329.18 336.11 324.97Z"/>
<path d="M361.7 325.72 366.73 330.15 374.49 326.43 369.45 322Z"/>
<path d="M395.04 323.84 400.07 328.49 407.83 325.1 402.79 320.45Z"/>
<path d="M428.38 323.39 433.41 328.26 441.17 325.19 436.13 320.32Z"/>
<path d="M341.15 329.18 346.18 333.51 353.94 329.56 348.9 325.24Z"/>
<path d="M374.49 326.43 379.53 330.97 387.28 327.35 382.24 322.81Z"/>
<path d="M407.83 325.1 412.87 329.86 420.62 326.57 415.58 321.81Z"/>
<path d="M441.17 325.19 446.21 330.17 453.96 327.21 448.92 322.23Z"/>
<path d="M320.6 333.19 325.64 337.41 333.39 333.24 328.35 329.03Z"/>
<path d="M353.94 329.56 358.98 333.99 366.73 330.15 361.7 325.72Z"/>
<path d="M387.28 327.35 392.32 332 400.07 328.49 395.04 323.84Z"/>
<path d="M420.62 326.57 425.66 331.44 433.41 328.26 428.38 323.39Z"/>
<path d="M333.39 333.24 338.43 337.56 346.18 333.51 341.15 329.18Z"/>
<path d="M366.73 330.15 371.77 334.7 379.53 330.97 374.49 326.43Z"/>
<path d="M400.07 328.49 405.11 333.26 412.87 329.86 407.83 325.1Z"/>
<path d="M433.41 328.26 438.45 333.24 446.21 330.17 441.17 325.19Z"/>
<path d="M346.18 333.51 351.22 337.94 358.98 333.99 353.94 329.56Z"/>
<path d="M379.53 330.97 384.56 335.62 392.32 332 387.28 327.35Z"/>
<path d="M412.87 329.86 417.9 334.73 425.66 331.44 420.62 326.57Z"/>
<path d="M325.64 337.41 330.67 341.73 338.43 337.56 333.39 333.24Z"/>
<path d="M358.98 333.99 364.02 338.53 371.77 334.7 366.73 330.15Z"/>
<path d="M392.32 332 397.36 336.76 405.11 333.26 400.07 328.49Z"/>
<path d="M425.66 331.44 430.7 336.42 438.45 333.24 433.41 328.26Z"/>
<path d="M338.43 337.56 343.47 341.99 351.22 337.94 346.18 333.51Z"/>
<path d="M371.77 334.7 376.81 339.35 384.56 335.62 379.53 330.97Z"/>
<path d="M405.11 333.26 410.15 338.13 417.9 334.73 412.87 329.86Z"/>
<path d="M351.22 337.94 356.26 342.48 364.02 338.53 358.98 333.99Z"/>
<path d="M384.56 335.62 389.6 340.38 397.36 336.76 392.32 332Z"/>
<path d="M417.9 334.73 422.94 339.71 430.7 336.42 425.66 331.44Z"/>
<path d="M330.67 341.73 335.71 346.16 343.47 341.99 338.43 337.56Z"/>
<path d="M364.02 338.53 369.05 343.18 376.81 339.35 371.77 334.7Z"/>
<path d="M397.36 336.76 402.39 341.63 410.15 338.13 405.11 333.26Z"/>
<path d="M343.47 341.99 348.5 346.53 356.26 342.48 351.22 337.94Z"/>
<path d="M376.81 339.35 381.85 344.11 389.6 340.38 384.56 335.62Z"/>
<path d="M410.15 338.13 415.19 343.11 422.94 339.71 417.9 334.73Z"/>
<path d="M356.26 342.48 361.3 347.13 369.05 343.18 364.02 338.53Z"/>
<path d="M389.6 340.38 394.64 345.25 402.39 341.63 397.36 336.76Z"/>
<path d="M335.71 346.16 340.75 350.7 348.5 346.53 343.47 341.99Z"/>
<path d="M369.05 343.18 374.09 347.94 381.85 344.11 376.81 339.35Z"/>
<path d="M402.39 341.63 407.43 346.61 415.19 343.11 410.15 338.13Z"/>
<path d="M348.5 346.53 353.54 351.19 361.3 347.13 356.26 342.48Z"/>
<path d="M381.85 344.11 386.88 348.98 394.64 345.25 389.6 340.38Z"/>
<path d="M361.3 347.13 366.34 351.89 374.09 347.94 369.05 343.18Z"/>
<path d="M394.64 345.25 399.68 350.23 407.43 346.61 402.39 341.63Z"/>
<path d="M340.75 350.7 345.79 355.35 353.54 351.19 348.5 346.53Z"/>
<path d="M374.09 347.94 379.13 352.81 386.88 348.98 381.85 344.11Z"/>
<path d="M353.54 351.19 358.58 355.95 366.34 351.89 361.3 347.13Z"/>
<path d="M386.88 348.98 391.92 353.96 399.68 350.23 394.64 345.25Z"/>
<path d="M366.34 351.89 371.37 356.76 379.13 352.81 374.09 347.94Z"/>
<path d="M345.79 355.35 350.82 360.11 358.58 355.95 353.54 351.19Z"/>
<path d="M379.13 352.81 384.17 357.79 391.92 353.96 386.88 348.98Z"/>
<path d="M358.58 355.95 363.62 360.82 371.37 356.76 366.34 351.89Z"/>
<path d="M371.37 356.76 376.41 361.74 384.17 357.79 379.13 352.81Z"/>
<path d="M350.82 360.11 355.86 364.98 363.62 360.82 358.58 355.95Z"/>
<path d="M363.62 360.82 368.66 365.8 376.41 361.74 371.37 356.76Z"/>
<path d="M355.86 364.98 360.9 369.96 368.66 365.8 363.62 360.82Z"/>
</g>
<g stroke="#1a1a1a" stroke-width="1.6" fill="none" stroke-linecap="square">
<line x1="114.06" y1="323.7" x2="360.9" y2="438.75"/>
<line x1="360.9" y1="438.75" x2="740.9" y2="363.6"/>
<line x1="360.9" y1="438.75" x2="360.9" y2="369.96"/>
<line x1="740.9" y1="363.6" x2="740.9" y2="294.81"/>
<line x1="114.06" y1="323.7" x2="114.06" y2="125.9"/>
<line x1="114.06" y1="257.7" x2="123.96" y2="257.7" stroke-linecap="butt"/>
<line x1="114.06" y1="241.9" x2="123.96" y2="241.9" stroke-linecap="butt"/>
<line x1="114.06" y1="224.5" x2="123.96" y2="224.5" stroke-linecap="butt"/>
<line x1="114.06" y1="208.5" x2="123.96" y2="208.5" stroke-linecap="butt"/>
<line x1="114.06" y1="192.5" x2="123.96" y2="192.5" stroke-linecap="butt"/>
<line x1="114.06" y1="175.2" x2="123.96" y2="175.2" stroke-linecap="butt"/>
<line x1="114.06" y1="159.1" x2="123.96" y2="159.1" stroke-linecap="butt"/>
<line x1="114.06" y1="143.2" x2="123.96" y2="143.2" stroke-linecap="butt"/>
<line x1="114.06" y1="125.9" x2="123.96" y2="125.9" stroke-linecap="butt"/>
<line x1="175.77" y1="352.46" x2="189.17" y2="349.81" stroke-linecap="butt"/>
<line x1="237.48" y1="381.22" x2="250.88" y2="378.58" stroke-linecap="butt"/>
<line x1="299.19" y1="409.99" x2="312.59" y2="407.34" stroke-linecap="butt"/>
<line x1="455.9" y1="419.96" x2="449.98" y2="417.2" stroke-linecap="butt"/>
<line x1="550.9" y1="401.18" x2="544.98" y2="398.41" stroke-linecap="butt"/>
<line x1="645.9" y1="382.39" x2="639.98" y2="379.63" stroke-linecap="butt"/>
</g>
<g font-family="Liberation Sans, sans-serif" font-size="18.0" fill="#1a1a1a" stroke="#1a1a1a" stroke-width="0.35" style="font-kerning:none">
<text x="57.91" y="263.62" textLength="37.83" lengthAdjust="spacingAndGlyphs">-200</text>
<text x="57.91" y="247.82" textLength="37.83" lengthAdjust="spacingAndGlyphs">-150</text>
<text x="57.91" y="230.42" textLength="37.83" lengthAdjust="spacingAndGlyphs">-100</text>
<text x="68.42" y="214.42" textLength="27.32" lengthAdjust="spacingAndGlyphs">-50</text>
<text x="85.23" y="198.42" textLength="10.51" lengthAdjust="spacingAndGlyphs">0</text>
<text x="74.72" y="181.12" textLength="21.02" lengthAdjust="spacingAndGlyphs">50</text>
<text x="64.2" y="165.02" textLength="31.53" lengthAdjust="spacingAndGlyphs">100</text>
<text x="64.2" y="149.12" textLength="31.53" lengthAdjust="spacingAndGlyphs">150</text>
<text x="64.2" y="131.82" textLength="31.53" lengthAdjust="spacingAndGlyphs">200</text>
<text x="36.49" y="168.52" font-size="18.2" textLength="51.1" lengthAdjust="spacingAndGlyphs">Z axis</text>
<text x="69.64" y="336.62" textLength="28.12" lengthAdjust="spacingAndGlyphs">-10</text>
<text x="141.68" y="364.52" textLength="16.5" lengthAdjust="spacingAndGlyphs">-5</text>
<text x="210.45" y="393.82" textLength="9.31" lengthAdjust="spacingAndGlyphs">0</text>
<text x="272.67" y="423.22" textLength="10.09" lengthAdjust="spacingAndGlyphs">5</text>
<text x="322.92" y="451.32" textLength="21.64" lengthAdjust="spacingAndGlyphs">10</text>
<text x="116.77" y="406.02" font-size="18.2" textLength="52.02" lengthAdjust="spacingAndGlyphs">X axis</text>
<text x="352.85" y="451.12" textLength="27.59" lengthAdjust="spacingAndGlyphs">-10</text>
<text x="453.86" y="431.02" textLength="16.73" lengthAdjust="spacingAndGlyphs">-5</text>
<text x="554.74" y="412.82" textLength="9.42" lengthAdjust="spacingAndGlyphs">0</text>
<text x="650.51" y="393.62" textLength="9.62" lengthAdjust="spacingAndGlyphs">5</text>
<text x="740.06" y="375.12" textLength="21.08" lengthAdjust="spacingAndGlyphs">10</text>
<text x="587.08" y="436.42" font-size="18.2" textLength="51.7" lengthAdjust="spacingAndGlyphs">Y axis</text>
<text x="605.27" y="83.82" font-size="18.2" textLength="62.55" lengthAdjust="spacingAndGlyphs">"a_tan"</text>
<text x="622.69" y="105.62" font-size="18.2" textLength="45.11" lengthAdjust="spacingAndGlyphs">"a_p"</text>
<text x="564.81" y="128.62" font-size="18.2" textLength="103.25" lengthAdjust="spacingAndGlyphs">9-x**2-y**2</text>
</g>
<polyline points="249.82,282.64 253.66,280.95 257.5,279.26 261.34,277.57 265.18,275.88 269.01,274.19 272.85,272.5 276.69,270.81 280.53,269.12 284.37,267.43 288.21,265.74 292.04,264.05 295.88,262.36 299.72,260.67 303.56,258.98 307.4,257.29" fill="none" stroke="#ff0000" stroke-width="1.5"/>
<polyline points="315.07,253.91 318.91,252.22 322.75,250.53 326.59,248.84 330.43,247.15 334.27,245.46 338.1,243.77 341.94,242.08 345.78,240.39 349.62,238.7 353.46,237.01 357.3,235.32 361.14,233.63 364.97,231.94 368.81,230.25 372.65,228.56 376.49,226.87 380.33,225.18 384.17,223.49 388,221.8 391.84,220.11 395.68,218.42 399.52,216.73 403.36,215.04 407.2,213.35 411.03,211.66 414.87,209.97 418.71,208.28 422.55,206.59 426.39,204.9 430.23,203.21 434.06,201.53 437.9,199.84 441.74,198.15 445.58,196.46 449.42,194.77 453.26,193.08 457.09,191.39 460.93,189.7 464.77,188.01 468.61,186.32 472.45,184.63 476.29,182.94 480.13,181.25 483.96,179.56 487.8,177.87 491.64,176.18 495.48,174.49 499.32,172.8 503.16,171.11 506.99,169.42 510.83,167.73 514.67,166.04 518.51,164.35 522.35,162.66 526.19,160.97 530.02,159.28 533.86,157.59 537.7,155.9 541.54,154.21 545.38,152.52 549.22,150.83 553.05,149.14 556.89,147.45 560.73,145.76 564.57,144.07 568.41,142.38 572.25,140.69 576.08,139 579.92,137.31 583.76,135.62 587.6,133.93 591.44,132.24 595.28,130.55 599.11,128.86 602.95,127.17 606.79,125.48 610.63,123.79 614.47,122.1 618.31,120.41 622.15,118.72 625.98,117.03 629.82,115.34" fill="none" stroke="#ff0000" stroke-width="1.5"/>
<path d="M245.42 282.64H254.22M249.82 278.24V287.04M245.42 278.24L254.22 287.04M245.42 287.04L254.22 278.24M249.26 280.95H258.06M253.66 276.55V285.35M249.26 276.55L258.06 285.35M249.26 285.35L258.06 276.55M253.1 279.26H261.9M257.5 274.86V283.66M253.1 274.86L261.9 283.66M253.1 283.66L261.9 274.86M256.94 277.57H265.74M261.34 273.17V281.97M256.94 273.17L265.74 281.97M256.94 281.97L265.74 273.17M260.78 275.88H269.58M265.18 271.48V280.28M260.78 271.48L269.58 280.28M260.78 280.28L269.58 271.48M264.61 274.19H273.41M269.01 269.79V278.59M264.61 269.79L273.41 278.59M264.61 278.59L273.41 269.79M268.45 272.5H277.25M272.85 268.1V276.9M268.45 268.1L277.25 276.9M268.45 276.9L277.25 268.1M272.29 270.81H281.09M276.69 266.41V275.21M272.29 266.41L281.09 275.21M272.29 275.21L281.09 266.41M276.13 269.12H284.93M280.53 264.72V273.52M276.13 264.72L284.93 273.52M276.13 273.52L284.93 264.72M280.77 267.43H287.97M284.37 263.83V271.03M280.77 263.83L287.97 271.03M280.77 271.03L287.97 263.83M285.01 265.74H291.41M288.21 262.54V268.94M285.01 262.54L291.41 268.94M285.01 268.94L291.41 262.54M289.04 264.05H295.04M292.04 261.05V267.05M289.04 261.05L295.04 267.05M289.04 267.05L295.04 261.05M292.88 262.36H298.88M295.88 259.36V265.36M292.88 259.36L298.88 265.36M292.88 265.36L298.88 259.36M296.72 260.67H302.72M299.72 257.67V263.67M296.72 257.67L302.72 263.67M296.72 263.67L302.72 257.67M300.56 258.98H306.56M303.56 255.98V261.98M300.56 255.98L306.56 261.98M300.56 261.98L306.56 255.98M310.67 253.91H319.47M315.07 249.51V258.31M310.67 249.51L319.47 258.31M310.67 258.31L319.47 249.51M314.51 252.22H323.31M318.91 247.82V256.62M314.51 247.82L323.31 256.62M314.51 256.62L323.31 247.82M318.35 250.53H327.15M322.75 246.13V254.93M318.35 246.13L327.15 254.93M318.35 254.93L327.15 246.13M322.19 248.84H330.99M326.59 244.44V253.24M322.19 244.44L330.99 253.24M322.19 253.24L330.99 244.44M326.03 247.15H334.83M330.43 242.75V251.55M326.03 242.75L334.83 251.55M326.03 251.55L334.83 242.75M329.87 245.46H338.67M334.27 241.06V249.86M329.87 241.06L338.67 249.86M329.87 249.86L338.67 241.06M333.7 243.77H342.5M338.1 239.37V248.17M333.7 239.37L342.5 248.17M333.7 248.17L342.5 239.37M337.54 242.08H346.34M341.94 237.68V246.48M337.54 237.68L346.34 246.48M337.54 246.48L346.34 237.68M341.38 240.39H350.18M345.78 235.99V244.79M341.38 235.99L350.18 244.79M341.38 244.79L350.18 235.99M345.22 238.7H354.02M349.62 234.3V243.1M345.22 234.3L354.02 243.1M345.22 243.1L354.02 234.3M349.06 237.01H357.86M353.46 232.61V241.41M349.06 232.61L357.86 241.41M349.06 241.41L357.86 232.61M352.9 235.32H361.7M357.3 230.92V239.72M352.9 230.92L361.7 239.72M352.9 239.72L361.7 230.92M356.74 233.63H365.54M361.14 229.23V238.03M356.74 229.23L365.54 238.03M356.74 238.03L365.54 229.23M360.57 231.94H369.37M364.97 227.54V236.34M360.57 227.54L369.37 236.34M360.57 236.34L369.37 227.54M364.41 230.25H373.21M368.81 225.85V234.65M364.41 225.85L373.21 234.65M364.41 234.65L373.21 225.85M368.25 228.56H377.05M372.65 224.16V232.96M368.25 224.16L377.05 232.96M368.25 232.96L377.05 224.16M372.09 226.87H380.89M376.49 222.47V231.27M372.09 222.47L380.89 231.27M372.09 231.27L380.89 222.47M375.93 225.18H384.73M380.33 220.78V229.58M375.93 220.78L384.73 229.58M375.93 229.58L384.73 220.78M379.77 223.49H388.57M384.17 219.09V227.89M379.77 219.09L388.57 227.89M379.77 227.89L388.57 219.09M383.6 221.8H392.4M388 217.4V226.2M383.6 217.4L392.4 226.2M383.6 226.2L392.4 217.4M387.44 220.11H396.24M391.84 215.71V224.51M387.44 215.71L396.24 224.51M387.44 224.51L396.24 215.71M391.28 218.42H400.08M395.68 214.02V222.82M391.28 214.02L400.08 222.82M391.28 222.82L400.08 214.02M395.12 216.73H403.92M399.52 212.33V221.13M395.12 212.33L403.92 221.13M395.12 221.13L403.92 212.33M398.96 215.04H407.76M403.36 210.64V219.44M398.96 210.64L407.76 219.44M398.96 219.44L407.76 210.64M402.8 213.35H411.6M407.2 208.95V217.75M402.8 208.95L411.6 217.75M402.8 217.75L411.6 208.95M406.63 211.66H415.43M411.03 207.26V216.06M406.63 207.26L415.43 216.06M406.63 216.06L415.43 207.26M410.47 209.97H419.27M414.87 205.57V214.37M410.47 205.57L419.27 214.37M410.47 214.37L419.27 205.57M414.31 208.28H423.11M418.71 203.88V212.68M414.31 203.88L423.11 212.68M414.31 212.68L423.11 203.88M418.15 206.59H426.95M422.55 202.19V210.99M418.15 202.19L426.95 210.99M418.15 210.99L426.95 202.19M421.99 204.9H430.79M426.39 200.5V209.3M421.99 200.5L430.79 209.3M421.99 209.3L430.79 200.5M425.83 203.21H434.63M430.23 198.81V207.61M425.83 198.81L434.63 207.61M425.83 207.61L434.63 198.81M429.66 201.53H438.46M434.06 197.13V205.93M429.66 197.13L438.46 205.93M429.66 205.93L438.46 197.13M433.5 199.84H442.3M437.9 195.44V204.24M433.5 195.44L442.3 204.24M433.5 204.24L442.3 195.44M437.34 198.15H446.14M441.74 193.75V202.55M437.34 193.75L446.14 202.55M437.34 202.55L446.14 193.75M441.18 196.46H449.98M445.58 192.06V200.86M441.18 192.06L449.98 200.86M441.18 200.86L449.98 192.06M445.02 194.77H453.82M449.42 190.37V199.17M445.02 190.37L453.82 199.17M445.02 199.17L453.82 190.37M448.86 193.08H457.66M453.26 188.68V197.48M448.86 188.68L457.66 197.48M448.86 197.48L457.66 188.68M452.69 191.39H461.49M457.09 186.99V195.79M452.69 186.99L461.49 195.79M452.69 195.79L461.49 186.99M456.53 189.7H465.33M460.93 185.3V194.1M456.53 185.3L465.33 194.1M456.53 194.1L465.33 185.3M460.37 188.01H469.17M464.77 183.61V192.41M460.37 183.61L469.17 192.41M460.37 192.41L469.17 183.61M464.21 186.32H473.01M468.61 181.92V190.72M464.21 181.92L473.01 190.72M464.21 190.72L473.01 181.92M468.05 184.63H476.85M472.45 180.23V189.03M468.05 180.23L476.85 189.03M468.05 189.03L476.85 180.23M471.89 182.94H480.69M476.29 178.54V187.34M471.89 178.54L480.69 187.34M471.89 187.34L480.69 178.54M475.73 181.25H484.53M480.13 176.85V185.65M475.73 176.85L484.53 185.65M475.73 185.65L484.53 176.85M479.56 179.56H488.36M483.96 175.16V183.96M479.56 175.16L488.36 183.96M479.56 183.96L488.36 175.16M483.4 177.87H492.2M487.8 173.47V182.27M483.4 173.47L492.2 182.27M483.4 182.27L492.2 173.47M487.24 176.18H496.04M491.64 171.78V180.58M487.24 171.78L496.04 180.58M487.24 180.58L496.04 171.78M491.08 174.49H499.88M495.48 170.09V178.89M491.08 170.09L499.88 178.89M491.08 178.89L499.88 170.09M494.92 172.8H503.72M499.32 168.4V177.2M494.92 168.4L503.72 177.2M494.92 177.2L503.72 168.4M498.76 171.11H507.56M503.16 166.71V175.51M498.76 166.71L507.56 175.51M498.76 175.51L507.56 166.71M502.59 169.42H511.39M506.99 165.02V173.82M502.59 165.02L511.39 173.82M502.59 173.82L511.39 165.02M506.43 167.73H515.23M510.83 163.33V172.13M506.43 163.33L515.23 172.13M506.43 172.13L515.23 163.33M510.27 166.04H519.07M514.67 161.64V170.44M510.27 161.64L519.07 170.44M510.27 170.44L519.07 161.64M514.11 164.35H522.91M518.51 159.95V168.75M514.11 159.95L522.91 168.75M514.11 168.75L522.91 159.95M517.95 162.66H526.75M522.35 158.26V167.06M517.95 158.26L526.75 167.06M517.95 167.06L526.75 158.26M521.79 160.97H530.59M526.19 156.57V165.37M521.79 156.57L530.59 165.37M521.79 165.37L530.59 156.57M525.62 159.28H534.42M530.02 154.88V163.68M525.62 154.88L534.42 163.68M525.62 163.68L534.42 154.88M529.46 157.59H538.26M533.86 153.19V161.99M529.46 153.19L538.26 161.99M529.46 161.99L538.26 153.19M533.3 155.9H542.1M537.7 151.5V160.3M533.3 151.5L542.1 160.3M533.3 160.3L542.1 151.5M537.14 154.21H545.94M541.54 149.81V158.61M537.14 149.81L545.94 158.61M537.14 158.61L545.94 149.81M540.98 152.52H549.78M545.38 148.12V156.92M540.98 148.12L549.78 156.92M540.98 156.92L549.78 148.12M544.82 150.83H553.62M549.22 146.43V155.23M544.82 146.43L553.62 155.23M544.82 155.23L553.62 146.43M548.65 149.14H557.45M553.05 144.74V153.54M548.65 144.74L557.45 153.54M548.65 153.54L557.45 144.74M552.49 147.45H561.29M556.89 143.05V151.85M552.49 143.05L561.29 151.85M552.49 151.85L561.29 143.05M556.33 145.76H565.13M560.73 141.36V150.16M556.33 141.36L565.13 150.16M556.33 150.16L565.13 141.36M560.17 144.07H568.97M564.57 139.67V148.47M560.17 139.67L568.97 148.47M560.17 148.47L568.97 139.67M564.01 142.38H572.81M568.41 137.98V146.78M564.01 137.98L572.81 146.78M564.01 146.78L572.81 137.98M567.85 140.69H576.65M572.25 136.29V145.09M567.85 136.29L576.65 145.09M567.85 145.09L576.65 136.29M571.68 139H580.48M576.08 134.6V143.4M571.68 134.6L580.48 143.4M571.68 143.4L580.48 134.6M575.52 137.31H584.32M579.92 132.91V141.71M575.52 132.91L584.32 141.71M575.52 141.71L584.32 132.91M579.36 135.62H588.16M583.76 131.22V140.02M579.36 131.22L588.16 140.02M579.36 140.02L588.16 131.22M583.2 133.93H592M587.6 129.53V138.33M583.2 129.53L592 138.33M583.2 138.33L592 129.53M587.04 132.24H595.84M591.44 127.84V136.64M587.04 127.84L595.84 136.64M587.04 136.64L595.84 127.84M590.88 130.55H599.68M595.28 126.15V134.95M590.88 126.15L599.68 134.95M590.88 134.95L599.68 126.15M594.71 128.86H603.51M599.11 124.46V133.26M594.71 124.46L603.51 133.26M594.71 133.26L603.51 124.46M598.55 127.17H607.35M602.95 122.77V131.57M598.55 122.77L607.35 131.57M598.55 131.57L607.35 122.77M602.39 125.48H611.19M606.79 121.08V129.88M602.39 121.08L611.19 129.88M602.39 129.88L611.19 121.08M606.23 123.79H615.03M610.63 119.39V128.19M606.23 119.39L615.03 128.19M606.23 128.19L615.03 119.39M610.07 122.1H618.87M614.47 117.7V126.5M610.07 117.7L618.87 126.5M610.07 126.5L618.87 117.7M613.91 120.41H622.71M618.31 116.01V124.81M613.91 116.01L622.71 124.81M613.91 124.81L622.71 116.01M617.75 118.72H626.55M622.15 114.32V123.12M617.75 114.32L626.55 123.12M617.75 123.12L626.55 114.32M621.58 117.03H630.38M625.98 112.63V121.43M621.58 112.63L630.38 121.43M621.58 121.43L630.38 112.63M625.42 115.34H634.22M629.82 110.94V119.74M625.42 110.94L634.22 119.74M625.42 119.74L634.22 110.94" stroke="#ff0000" stroke-width="1.3" fill="none"/>
<circle cx="307.4" cy="257" r="4.3" fill="#0000ff"/>
<line x1="677.9" y1="78" x2="730.8" y2="78" stroke="#ff0000" stroke-width="1.6"/>
<path d="M700.9 78H709.7M705.3 73.6V82.4M700.9 73.6L709.7 82.4M700.9 82.4L709.7 73.6" stroke="#ff0000" stroke-width="1.4" fill="none"/>
<circle cx="705.1" cy="100.6" r="4.4" fill="#0000ff"/>
<line x1="677.9" y1="123.1" x2="730.8" y2="123.1" stroke="#00f0f0" stroke-width="1.7"/>
</svg></div>
</body></html>
